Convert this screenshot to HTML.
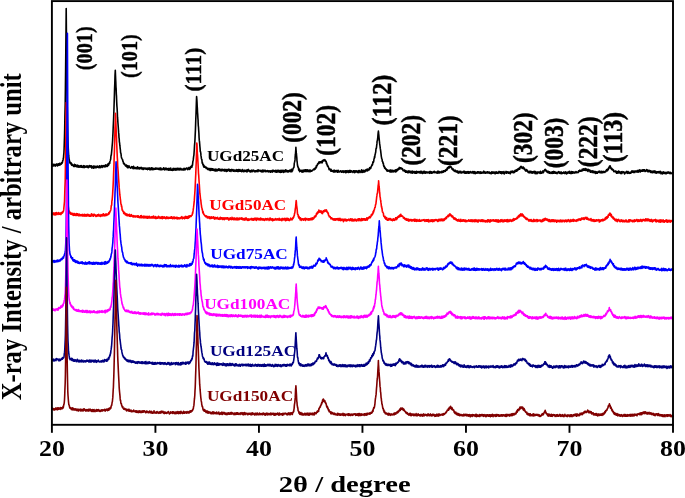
<!DOCTYPE html>
<html><head><meta charset="utf-8"><title>XRD</title>
<style>
html,body{margin:0;padding:0;background:#fff;}
svg{display:block;font-family:"Liberation Serif",serif;font-weight:bold;}
</style></head><body>
<svg width="685" height="498" viewBox="0 0 685 498">
<rect x="0" y="0" width="685" height="498" fill="#fff"/>
<polyline points="51.9,165.2 52.1,166.3 52.3,165.5 52.5,164.2 52.7,164.7 52.9,165.9 53.1,164.3 53.3,165.3 53.6,165.9 53.8,164.9 54.0,164.4 54.2,164.4 54.4,164.5 54.6,165.0 54.8,165.2 55.0,165.1 55.2,166.2 55.4,165.7 55.6,165.5 55.8,165.7 56.0,164.2 56.2,164.4 56.5,164.8 56.7,164.0 56.9,163.9 57.1,164.7 57.3,164.7 57.5,165.9 57.7,164.6 57.9,165.0 58.1,165.3 58.3,164.3 58.5,163.7 58.7,164.1 58.9,165.3 59.1,163.8 59.4,164.2 59.6,163.4 59.8,165.0 60.0,163.8 60.2,163.8 60.4,164.7 60.6,164.1 60.8,164.4 61.0,163.9 61.2,164.1 61.4,162.7 61.6,163.0 61.8,163.4 62.0,163.5 62.3,162.0 62.5,162.4 62.7,160.6 62.9,160.7 63.1,159.7 63.3,158.2 63.5,157.8 63.7,154.8 63.9,153.0 64.1,149.0 64.3,142.9 64.5,136.7 64.7,128.4 64.9,116.5 65.2,103.9 65.4,89.1 65.6,71.3 65.8,51.7 66.0,31.9 66.2,8.5 66.2,9.3 66.4,30.7 66.4,31.9 66.6,52.6 66.6,51.4 66.8,72.3 66.9,81.9 67.0,90.3 67.2,104.5 67.4,116.6 67.4,116.8 67.6,128.7 67.8,136.7 68.0,142.5 68.3,149.0 68.5,152.8 68.7,155.7 68.9,157.3 69.1,159.3 69.3,159.8 69.5,160.9 69.7,162.8 69.9,162.5 70.1,162.8 70.3,162.2 70.5,163.7 70.7,162.8 70.9,163.9 71.2,162.9 71.4,163.8 71.6,165.2 71.8,165.0 72.0,164.0 72.2,164.7 72.4,165.5 72.6,164.8 72.8,165.2 73.0,165.2 73.2,165.1 73.4,165.4 73.6,165.9 73.8,166.4 74.1,165.1 74.3,166.2 74.5,164.4 74.7,165.6 74.9,166.5 75.1,165.2 75.3,165.5 75.5,166.2 75.7,164.9 75.9,165.9 76.1,166.3 76.3,165.8 76.5,166.8 76.7,165.5 77.0,165.2 77.2,165.3 77.4,165.2 77.6,165.8 77.8,167.0 78.0,166.3 78.2,165.8 78.4,165.6 78.6,166.7 78.8,166.4 79.0,167.2 79.2,166.9 79.4,166.1 79.6,166.9 79.8,167.0 80.1,166.4 80.3,165.8 80.5,166.7 80.7,166.2 80.9,167.2 81.1,165.6 81.3,166.3 81.5,166.6 81.7,167.3 81.9,166.0 82.1,166.8 82.3,166.9 82.5,167.1 82.7,166.7 83.0,167.4 83.2,166.2 83.4,165.9 83.6,165.6 83.8,165.7 84.0,166.0 84.2,167.6 84.4,167.3 84.6,166.0 84.8,167.0 85.0,166.8 85.2,166.6 85.4,166.8 85.6,166.3 85.9,167.2 86.1,166.7 86.3,167.1 86.5,166.8 86.7,166.5 86.9,165.7 87.1,166.3 87.3,167.1 87.5,167.1 87.7,167.2 87.9,166.0 88.1,167.7 88.3,167.5 88.5,167.6 88.8,166.8 89.0,167.2 89.2,165.9 89.4,165.5 89.6,165.9 89.8,166.2 90.0,166.6 90.2,166.3 90.4,167.0 90.6,165.9 90.8,166.9 91.0,166.3 91.2,167.2 91.4,165.8 91.7,166.4 91.9,168.1 92.1,167.0 92.3,167.3 92.5,167.0 92.7,166.7 92.9,166.5 93.1,166.9 93.3,166.0 93.5,167.7 93.7,168.3 93.9,167.4 94.1,166.2 94.3,166.6 94.5,166.5 94.8,166.2 95.0,167.0 95.2,167.8 95.4,166.7 95.6,167.6 95.8,167.7 96.0,166.4 96.2,167.4 96.4,167.7 96.6,166.7 96.8,167.0 97.0,167.1 97.2,166.9 97.4,166.0 97.7,166.8 97.9,167.1 98.1,167.5 98.3,167.0 98.5,166.5 98.7,167.3 98.9,167.6 99.1,167.4 99.3,166.5 99.5,165.7 99.7,166.7 99.9,166.0 100.1,166.8 100.3,167.8 100.6,166.9 100.8,166.3 101.0,166.3 101.2,166.8 101.4,165.7 101.6,166.3 101.8,165.5 102.0,166.8 102.2,167.4 102.4,166.4 102.6,166.4 102.8,166.4 103.0,165.7 103.2,165.8 103.5,166.4 103.7,166.6 103.9,165.6 104.1,167.0 104.3,166.5 104.5,166.3 104.7,165.6 104.9,166.6 105.1,165.7 105.3,165.2 105.5,165.1 105.7,164.9 105.9,166.7 106.1,165.6 106.3,165.5 106.6,166.3 106.8,166.3 107.0,165.0 107.2,165.2 107.4,166.4 107.6,165.5 107.8,165.7 108.0,163.9 108.2,165.0 108.4,165.3 108.6,165.1 108.8,164.8 109.0,163.3 109.2,162.7 109.5,162.8 109.7,163.3 109.9,161.4 110.1,161.0 110.3,160.4 110.5,159.7 110.7,159.0 110.9,156.5 111.1,155.0 111.3,155.1 111.5,153.2 111.7,151.1 111.9,149.0 112.1,146.5 112.4,143.3 112.6,140.5 112.8,136.0 113.0,132.5 113.2,127.3 113.4,123.3 113.6,118.7 113.8,113.3 114.0,107.5 114.2,101.4 114.4,95.2 114.6,88.1 114.8,83.5 115.0,75.9 115.3,70.4 115.5,75.3 115.7,80.0 115.8,81.7 115.9,84.9 116.0,87.6 116.1,88.1 116.1,87.8 116.3,93.3 116.3,93.8 116.5,96.4 116.6,99.4 116.7,102.0 116.9,105.9 117.1,108.3 117.3,111.9 117.5,117.2 117.7,119.1 117.9,122.5 118.2,126.2 118.4,129.1 118.6,132.4 118.8,133.8 119.0,137.6 119.2,138.7 119.4,142.1 119.6,142.8 119.8,145.2 120.0,146.5 120.2,148.7 120.4,149.8 120.6,152.7 120.8,153.3 121.0,153.6 121.3,156.7 121.5,157.5 121.7,158.3 121.9,158.5 122.1,158.7 122.3,159.3 122.5,159.9 122.7,159.9 122.9,161.4 123.1,161.4 123.3,162.4 123.5,163.4 123.7,163.3 123.9,163.1 124.2,164.2 124.4,163.5 124.6,164.4 124.8,164.2 125.0,164.9 125.2,165.5 125.4,165.5 125.6,165.2 125.8,166.1 126.0,166.1 126.2,165.1 126.4,165.1 126.6,165.0 126.8,166.9 127.1,166.9 127.3,166.1 127.5,167.6 127.7,165.9 127.9,166.5 128.1,166.4 128.3,167.6 128.5,166.0 128.7,166.3 128.9,166.8 129.1,166.0 129.3,166.0 129.5,166.9 129.7,167.5 130.0,167.6 130.2,167.7 130.4,167.9 130.6,167.6 130.8,168.1 131.0,167.4 131.2,167.8 131.4,166.9 131.6,166.6 131.8,167.7 132.0,167.0 132.2,167.7 132.4,167.7 132.6,166.8 132.9,168.5 133.1,166.5 133.3,167.2 133.5,166.4 133.7,168.7 133.9,167.6 134.1,168.2 134.3,167.2 134.5,167.8 134.7,168.0 134.9,168.2 135.1,168.6 135.3,167.9 135.5,167.5 135.7,168.1 136.0,168.4 136.2,167.7 136.4,168.6 136.6,167.5 136.8,168.0 137.0,168.3 137.2,167.0 137.4,168.6 137.6,166.9 137.8,168.5 138.0,168.0 138.2,167.7 138.4,168.8 138.6,167.7 138.9,168.5 139.1,167.5 139.3,167.9 139.5,168.1 139.7,169.0 139.9,167.7 140.1,167.8 140.3,168.0 140.5,168.5 140.7,167.8 140.9,168.3 141.1,167.2 141.3,167.9 141.5,168.9 141.8,168.0 142.0,168.1 142.2,168.7 142.4,168.6 142.6,168.8 142.8,169.3 143.0,167.9 143.2,168.3 143.4,169.4 143.6,168.7 143.8,168.4 144.0,168.2 144.2,168.5 144.4,168.2 144.7,168.8 144.9,168.2 145.1,168.2 145.3,169.0 145.5,168.4 145.7,168.1 145.9,169.0 146.1,168.6 146.3,169.2 146.5,169.1 146.7,168.6 146.9,169.0 147.1,168.0 147.3,168.4 147.5,169.6 147.8,169.1 148.0,168.7 148.2,168.8 148.4,169.2 148.6,168.9 148.8,168.5 149.0,167.7 149.2,167.7 149.4,168.2 149.6,168.7 149.8,169.8 150.0,168.2 150.2,168.7 150.4,168.3 150.7,168.9 150.9,169.7 151.1,169.4 151.3,168.4 151.5,167.8 151.7,169.2 151.9,168.4 152.1,169.2 152.3,168.0 152.5,169.6 152.7,168.6 152.9,168.6 153.1,168.3 153.3,168.5 153.6,169.5 153.8,169.6 154.0,168.6 154.2,169.3 154.4,168.8 154.6,168.5 154.8,169.1 155.0,168.7 155.2,168.4 155.4,169.1 155.6,168.9 155.8,168.0 156.0,169.1 156.2,169.1 156.5,168.9 156.7,168.2 156.9,169.0 157.1,168.4 157.3,168.9 157.5,168.9 157.7,168.9 157.9,168.4 158.1,169.3 158.3,169.1 158.5,169.3 158.7,168.4 158.9,169.5 159.1,168.6 159.4,168.7 159.6,168.3 159.8,168.2 160.0,169.1 160.2,169.8 160.4,169.2 160.6,168.2 160.8,167.9 161.0,168.8 161.2,169.7 161.4,169.3 161.6,169.7 161.8,169.2 162.0,169.3 162.2,169.6 162.5,169.4 162.7,168.9 162.9,168.7 163.1,169.0 163.3,168.8 163.5,167.9 163.7,168.8 163.9,169.4 164.1,168.4 164.3,168.3 164.5,168.3 164.7,168.8 164.9,170.0 165.1,168.4 165.4,168.2 165.6,168.3 165.8,169.1 166.0,168.0 166.2,168.7 166.4,168.4 166.6,168.9 166.8,169.8 167.0,169.0 167.2,169.4 167.4,169.0 167.6,168.7 167.8,169.6 168.0,168.9 168.3,170.1 168.5,170.2 168.7,169.8 168.9,168.4 169.1,169.4 169.3,169.5 169.5,169.9 169.7,168.9 169.9,170.2 170.1,170.1 170.3,168.4 170.5,168.8 170.7,168.1 170.9,170.0 171.2,169.7 171.4,170.2 171.6,170.1 171.8,169.6 172.0,169.4 172.2,169.4 172.4,170.4 172.6,169.6 172.8,169.1 173.0,169.3 173.2,168.3 173.4,170.3 173.6,169.8 173.8,169.1 174.0,169.8 174.3,169.9 174.5,169.2 174.7,168.7 174.9,168.6 175.1,168.3 175.3,169.0 175.5,169.1 175.7,170.1 175.9,168.7 176.1,169.9 176.3,169.6 176.5,170.0 176.7,168.9 176.9,168.3 177.2,169.8 177.4,168.7 177.6,168.4 177.8,169.6 178.0,169.9 178.2,168.3 178.4,168.7 178.6,169.7 178.8,168.9 179.0,169.8 179.2,168.6 179.4,169.9 179.6,168.5 179.8,169.7 180.1,168.7 180.3,169.6 180.5,169.7 180.7,168.3 180.9,169.0 181.1,169.7 181.3,169.5 181.5,169.0 181.7,169.2 181.9,169.4 182.1,170.0 182.3,169.1 182.5,169.6 182.7,169.7 183.0,169.6 183.2,169.3 183.4,169.9 183.6,169.9 183.8,169.2 184.0,168.4 184.2,169.4 184.4,169.8 184.6,168.6 184.8,169.5 185.0,168.7 185.2,168.7 185.4,169.6 185.6,169.2 185.9,169.0 186.1,168.5 186.3,168.0 186.5,168.7 186.7,168.3 186.9,168.7 187.1,168.1 187.3,168.5 187.5,168.5 187.7,169.6 187.9,169.4 188.1,168.7 188.3,168.8 188.5,169.0 188.7,167.8 189.0,167.4 189.2,169.2 189.4,168.7 189.6,169.4 189.8,167.9 190.0,168.4 190.2,168.7 190.4,168.5 190.6,166.8 190.8,167.3 191.0,167.0 191.2,167.0 191.4,166.0 191.6,165.9 191.9,167.1 192.1,165.8 192.3,164.8 192.5,165.2 192.7,162.9 192.9,161.3 193.1,160.5 193.3,159.4 193.5,157.6 193.7,156.2 193.9,155.1 194.1,152.3 194.3,149.5 194.5,145.8 194.8,142.4 195.0,139.0 195.2,134.6 195.4,130.6 195.6,124.9 195.8,118.8 196.0,114.4 196.2,108.1 196.4,101.9 196.6,96.5 196.8,98.7 197.0,101.7 197.1,104.1 197.2,106.5 197.3,107.5 197.4,109.2 197.4,109.6 197.5,112.1 197.7,114.3 197.9,118.1 198.1,120.4 198.1,121.6 198.3,125.6 198.5,127.2 198.7,130.5 198.9,133.2 199.1,137.8 199.3,140.4 199.5,141.6 199.7,144.0 199.9,146.5 200.1,148.6 200.3,151.8 200.5,151.6 200.8,153.4 201.0,155.9 201.2,156.9 201.4,158.7 201.6,159.2 201.8,159.2 202.0,161.0 202.2,163.1 202.4,163.2 202.6,162.9 202.8,164.4 203.0,164.1 203.2,165.6 203.4,164.5 203.7,167.0 203.9,165.4 204.1,166.5 204.3,167.3 204.5,166.7 204.7,166.2 204.9,166.8 205.1,167.0 205.3,167.0 205.5,167.5 205.7,167.2 205.9,167.8 206.1,167.3 206.3,168.5 206.6,167.8 206.8,167.6 207.0,168.2 207.2,168.8 207.4,168.7 207.6,168.8 207.8,169.5 208.0,168.5 208.2,169.5 208.4,169.7 208.6,168.6 208.8,169.2 209.0,168.8 209.2,168.5 209.5,169.1 209.7,169.3 209.9,170.4 210.1,168.8 210.3,169.0 210.5,169.1 210.7,168.6 210.9,170.4 211.1,169.9 211.3,168.7 211.5,170.0 211.7,169.0 211.9,168.6 212.1,169.0 212.4,170.2 212.6,168.9 212.8,170.2 213.0,169.5 213.2,169.0 213.4,169.6 213.6,169.7 213.8,169.9 214.0,170.5 214.2,170.4 214.4,170.6 214.6,169.2 214.8,170.0 215.0,170.0 215.2,170.5 215.5,171.0 215.7,170.8 215.9,169.1 216.1,170.0 216.3,170.8 216.5,170.9 216.7,169.8 216.9,170.9 217.1,170.0 217.3,169.4 217.5,170.6 217.7,169.9 217.9,169.8 218.1,170.1 218.4,170.1 218.6,169.3 218.8,168.7 219.0,170.4 219.2,170.4 219.4,170.4 219.6,170.4 219.8,169.4 220.0,169.2 220.2,169.6 220.4,169.9 220.6,170.8 220.8,169.8 221.0,169.8 221.3,170.5 221.5,169.5 221.7,169.3 221.9,170.9 222.1,170.8 222.3,170.1 222.5,170.3 222.7,169.4 222.9,169.6 223.1,170.3 223.3,170.0 223.5,170.4 223.7,170.7 223.9,170.6 224.2,169.6 224.4,170.4 224.6,169.5 224.8,171.2 225.0,169.7 225.2,169.9 225.4,169.5 225.6,170.8 225.8,169.7 226.0,170.1 226.2,170.9 226.4,171.5 226.6,169.5 226.8,170.3 227.1,170.8 227.3,171.1 227.5,170.0 227.7,170.3 227.9,169.5 228.1,169.4 228.3,170.5 228.5,169.3 228.7,169.5 228.9,170.0 229.1,169.7 229.3,169.4 229.5,171.1 229.7,170.6 229.9,170.2 230.2,171.0 230.4,169.9 230.6,169.8 230.8,171.2 231.0,171.4 231.2,170.7 231.4,169.6 231.6,170.4 231.8,169.5 232.0,169.6 232.2,169.6 232.4,170.1 232.6,170.7 232.8,170.0 233.1,169.7 233.3,171.1 233.5,170.1 233.7,170.1 233.9,170.1 234.1,170.8 234.3,171.3 234.5,170.5 234.7,170.7 234.9,170.0 235.1,170.2 235.3,170.7 235.5,171.1 235.7,171.3 236.0,170.7 236.2,171.2 236.4,169.7 236.6,171.3 236.8,169.6 237.0,169.7 237.2,170.6 237.4,171.4 237.6,171.2 237.8,170.7 238.0,169.9 238.2,169.5 238.4,171.5 238.6,171.4 238.9,169.8 239.1,171.3 239.3,170.3 239.5,170.1 239.7,170.8 239.9,169.6 240.1,170.6 240.3,169.9 240.5,171.3 240.7,171.0 240.9,171.3 241.1,171.4 241.3,170.2 241.5,170.3 241.7,171.7 242.0,170.5 242.2,170.1 242.4,169.5 242.6,171.3 242.8,170.5 243.0,170.3 243.2,170.7 243.4,170.8 243.6,170.5 243.8,171.8 244.0,171.2 244.2,170.1 244.4,170.5 244.6,170.5 244.9,171.3 245.1,171.2 245.3,171.0 245.5,170.9 245.7,170.4 245.9,171.4 246.1,170.0 246.3,171.0 246.5,170.3 246.7,170.7 246.9,172.0 247.1,171.1 247.3,169.9 247.5,170.0 247.8,171.2 248.0,170.2 248.2,170.1 248.4,169.4 248.6,170.5 248.8,170.8 249.0,170.6 249.2,170.3 249.4,171.1 249.6,170.5 249.8,171.5 250.0,171.8 250.2,170.8 250.4,171.1 250.7,171.8 250.9,170.5 251.1,171.1 251.3,170.3 251.5,171.3 251.7,170.4 251.9,171.2 252.1,171.8 252.3,170.2 252.5,171.5 252.7,171.1 252.9,170.5 253.1,170.5 253.3,170.5 253.6,170.1 253.8,170.9 254.0,170.4 254.2,171.1 254.4,171.6 254.6,171.6 254.8,171.8 255.0,171.8 255.2,170.7 255.4,171.8 255.6,170.7 255.8,171.3 256.0,171.7 256.2,171.1 256.4,171.0 256.7,170.5 256.9,171.2 257.1,170.3 257.3,170.4 257.5,170.1 257.7,171.2 257.9,171.7 258.1,170.0 258.3,169.9 258.5,170.5 258.7,170.2 258.9,170.4 259.1,171.0 259.3,170.8 259.6,170.5 259.8,170.4 260.0,171.0 260.2,170.5 260.4,170.7 260.6,170.9 260.8,171.4 261.0,170.2 261.2,171.2 261.4,170.8 261.6,171.8 261.8,171.1 262.0,171.3 262.2,171.9 262.5,171.4 262.7,170.0 262.9,170.0 263.1,171.7 263.3,170.3 263.5,170.6 263.7,171.8 263.9,170.2 264.1,170.4 264.3,170.5 264.5,170.3 264.7,171.0 264.9,171.1 265.1,170.5 265.4,170.3 265.6,171.6 265.8,171.6 266.0,171.1 266.2,170.9 266.4,170.9 266.6,171.2 266.8,171.0 267.0,171.5 267.2,170.9 267.4,171.5 267.6,170.6 267.8,171.3 268.0,171.7 268.2,171.6 268.5,170.9 268.7,171.9 268.9,171.5 269.1,171.0 269.3,171.1 269.5,171.7 269.7,170.7 269.9,170.9 270.1,171.7 270.3,171.7 270.5,172.2 270.7,171.1 270.9,170.8 271.1,170.7 271.4,171.6 271.6,171.0 271.8,171.3 272.0,171.2 272.2,172.2 272.4,171.6 272.6,170.3 272.8,171.8 273.0,171.1 273.2,170.2 273.4,171.0 273.6,170.5 273.8,170.8 274.0,170.7 274.3,171.3 274.5,170.9 274.7,171.4 274.9,171.8 275.1,171.8 275.3,171.0 275.5,171.3 275.7,170.4 275.9,171.4 276.1,172.2 276.3,170.6 276.5,172.1 276.7,171.3 276.9,170.5 277.2,171.5 277.4,170.7 277.6,172.0 277.8,170.4 278.0,170.7 278.2,171.9 278.4,171.3 278.6,170.4 278.8,171.2 279.0,171.0 279.2,171.0 279.4,171.7 279.6,172.1 279.8,170.5 280.1,171.6 280.3,172.4 280.5,171.0 280.7,171.7 280.9,170.3 281.1,171.9 281.3,171.2 281.5,172.1 281.7,171.9 281.9,172.1 282.1,170.4 282.3,171.2 282.5,171.0 282.7,170.7 282.9,171.1 283.2,171.4 283.4,171.6 283.6,172.4 283.8,170.4 284.0,170.8 284.2,170.5 284.4,171.9 284.6,171.3 284.8,171.1 285.0,171.6 285.2,171.6 285.4,171.1 285.6,169.9 285.8,170.9 286.1,171.7 286.3,171.6 286.5,170.2 286.7,171.0 286.9,170.8 287.1,171.4 287.3,171.5 287.5,171.9 287.7,170.9 287.9,170.6 288.1,171.3 288.3,172.0 288.5,171.4 288.7,171.3 289.0,171.2 289.2,170.6 289.4,171.5 289.6,170.5 289.8,170.2 290.0,171.5 290.2,170.6 290.4,171.7 290.6,171.0 290.8,170.6 291.0,169.7 291.2,171.6 291.4,169.4 291.6,171.3 291.9,171.6 292.1,170.2 292.3,169.3 292.5,170.7 292.7,170.0 292.9,169.0 293.1,168.8 293.3,168.3 293.5,167.8 293.7,167.7 293.9,167.5 294.1,165.8 294.3,163.0 294.5,162.4 294.8,161.1 295.0,159.9 295.2,156.0 295.4,154.7 295.6,152.4 295.8,149.3 295.9,147.3 296.0,149.3 296.2,151.5 296.2,152.9 296.4,153.4 296.6,155.8 296.8,157.5 297.0,161.1 297.2,162.0 297.4,164.7 297.6,165.8 297.9,167.1 298.1,167.1 298.3,167.0 298.5,168.4 298.7,170.1 298.9,170.0 299.1,168.7 299.3,170.5 299.5,171.1 299.7,171.6 299.9,170.6 300.1,170.9 300.3,170.9 300.5,170.3 300.8,170.2 301.0,171.3 301.2,170.2 301.4,170.6 301.6,172.0 301.8,171.1 302.0,171.1 302.2,171.9 302.4,170.2 302.6,171.8 302.8,172.2 303.0,170.8 303.2,170.6 303.4,170.2 303.7,171.6 303.9,170.8 304.1,170.0 304.3,171.5 304.5,170.6 304.7,171.2 304.9,171.1 305.1,169.8 305.3,170.3 305.5,171.2 305.7,169.8 305.9,171.1 306.1,171.6 306.3,171.2 306.6,171.5 306.8,169.9 307.0,170.2 307.2,171.4 307.4,170.1 307.6,171.2 307.8,169.9 308.0,171.5 308.2,170.2 308.4,170.8 308.6,171.0 308.8,171.6 309.0,171.7 309.2,171.2 309.4,170.5 309.7,170.1 309.9,171.0 310.1,171.8 310.3,170.4 310.5,171.1 310.7,170.2 310.9,170.9 311.1,170.6 311.3,170.7 311.5,171.3 311.7,171.1 311.9,170.5 312.1,170.8 312.3,170.4 312.6,170.4 312.8,170.2 313.0,169.8 313.2,169.6 313.4,169.4 313.6,169.2 313.8,169.4 314.0,168.9 314.2,169.8 314.4,169.4 314.6,168.6 314.8,168.7 315.0,169.3 315.2,167.8 315.5,167.8 315.7,167.3 315.9,167.3 316.1,168.0 316.3,165.9 316.5,167.2 316.7,166.1 316.9,166.1 317.1,165.1 317.3,165.4 317.5,164.1 317.7,164.6 317.9,163.5 318.1,163.5 318.4,163.8 318.6,162.6 318.8,162.1 318.9,163.4 319.0,163.4 319.0,163.0 319.2,162.4 319.2,162.8 319.4,161.8 319.6,162.9 319.8,162.8 320.0,162.6 320.2,162.0 320.4,161.8 320.6,162.7 320.8,162.5 321.0,162.7 321.3,161.9 321.5,161.4 321.7,161.9 321.9,162.0 322.1,162.8 322.3,162.7 322.5,160.7 322.7,161.5 322.9,160.2 323.1,161.0 323.3,160.2 323.5,159.9 323.6,160.0 323.7,160.1 323.9,160.3 324.1,160.3 324.4,160.6 324.6,159.9 324.6,159.9 324.8,159.6 325.0,160.1 325.2,160.3 325.4,161.1 325.6,160.5 325.7,161.3 325.8,161.2 326.0,161.7 326.2,161.5 326.2,162.5 326.4,163.7 326.6,163.7 326.8,163.1 327.0,165.0 327.3,164.7 327.5,166.2 327.7,165.4 327.9,166.0 328.1,166.8 328.3,166.7 328.5,167.2 328.7,167.7 328.9,168.9 329.1,169.6 329.3,168.7 329.5,169.6 329.7,168.7 329.9,169.3 330.2,169.6 330.4,169.5 330.6,170.3 330.8,171.1 331.0,169.4 331.2,169.6 331.4,171.0 331.6,171.1 331.8,170.7 332.0,171.0 332.2,171.4 332.4,171.3 332.6,171.2 332.8,170.6 333.1,170.8 333.3,171.4 333.5,172.0 333.7,170.6 333.9,171.0 334.1,170.1 334.3,171.2 334.5,171.4 334.7,171.9 334.9,170.8 335.1,171.6 335.3,171.8 335.5,170.9 335.7,170.6 335.9,170.7 336.2,171.7 336.4,170.6 336.6,170.7 336.8,171.3 337.0,170.6 337.2,171.8 337.4,171.7 337.6,172.2 337.8,172.2 338.0,171.8 338.2,170.4 338.4,171.8 338.6,172.0 338.8,172.0 339.1,172.1 339.3,171.8 339.5,171.2 339.7,171.6 339.9,171.6 340.1,171.3 340.3,171.3 340.5,170.7 340.7,171.4 340.9,171.0 341.1,171.0 341.3,172.2 341.5,171.9 341.7,171.5 342.0,172.2 342.2,171.1 342.4,171.8 342.6,171.0 342.8,171.4 343.0,172.0 343.2,170.8 343.4,172.1 343.6,172.4 343.8,171.8 344.0,172.1 344.2,171.9 344.4,171.6 344.6,171.6 344.9,170.8 345.1,171.6 345.3,171.1 345.5,172.7 345.7,171.8 345.9,170.9 346.1,172.4 346.3,170.9 346.5,172.5 346.7,172.4 346.9,172.4 347.1,171.7 347.3,171.0 347.5,171.0 347.8,170.7 348.0,171.1 348.2,171.9 348.4,172.3 348.6,171.6 348.8,172.5 349.0,171.9 349.2,170.5 349.4,171.8 349.6,170.8 349.8,170.5 350.0,172.3 350.2,171.2 350.4,170.7 350.6,170.8 350.9,172.3 351.1,171.8 351.3,170.9 351.5,171.6 351.7,171.2 351.9,171.8 352.1,171.8 352.3,171.6 352.5,171.5 352.7,171.9 352.9,172.4 353.1,171.9 353.3,170.9 353.5,171.2 353.8,170.8 354.0,170.7 354.2,170.8 354.4,171.1 354.6,172.6 354.8,172.2 355.0,172.4 355.2,172.0 355.4,171.5 355.6,170.9 355.8,171.5 356.0,171.0 356.2,171.1 356.4,172.0 356.7,170.7 356.9,171.2 357.1,171.7 357.3,171.4 357.5,171.8 357.7,172.4 357.9,171.1 358.1,171.2 358.3,171.1 358.5,170.7 358.7,171.7 358.9,172.6 359.1,172.2 359.3,170.5 359.6,170.9 359.8,172.0 360.0,171.9 360.2,171.6 360.4,171.5 360.6,171.6 360.8,171.7 361.0,172.5 361.2,171.1 361.4,170.6 361.6,169.8 361.8,170.7 362.0,171.9 362.2,172.1 362.4,172.4 362.7,170.6 362.9,170.5 363.1,172.1 363.3,171.6 363.5,170.4 363.7,170.4 363.9,171.6 364.1,171.8 364.3,171.0 364.5,170.5 364.7,172.0 364.9,171.3 365.1,171.4 365.3,171.4 365.6,170.1 365.8,170.1 366.0,169.8 366.2,169.5 366.4,169.8 366.6,170.6 366.8,170.3 367.0,170.0 367.2,171.0 367.4,169.0 367.6,169.2 367.8,170.7 368.0,170.2 368.2,169.6 368.5,169.4 368.7,170.0 368.9,168.8 369.1,170.0 369.3,169.4 369.5,168.1 369.7,167.7 369.9,169.0 370.1,167.8 370.3,167.9 370.5,168.2 370.7,168.0 370.9,168.1 371.1,166.6 371.4,166.5 371.6,166.1 371.8,165.1 372.0,165.1 372.2,164.3 372.4,165.1 372.6,164.4 372.8,162.6 372.8,162.0 373.0,162.1 373.2,161.7 373.3,162.5 373.4,162.4 373.6,161.6 373.8,161.0 373.8,160.3 374.0,158.9 374.3,158.4 374.5,156.6 374.7,157.6 374.9,155.9 375.1,154.3 375.3,154.1 375.5,152.7 375.7,152.3 375.9,149.6 376.1,148.4 376.3,148.5 376.5,147.3 376.7,145.3 376.9,143.9 377.1,141.0 377.4,140.7 377.6,138.8 377.8,137.3 378.0,134.4 378.2,132.7 378.4,131.0 378.4,131.4 378.6,132.6 378.6,133.3 378.8,134.9 379.0,137.2 379.2,139.2 379.3,140.0 379.4,141.2 379.6,143.2 379.8,144.7 380.0,146.0 380.3,148.7 380.5,149.7 380.7,151.1 380.9,152.9 381.1,154.7 381.3,156.3 381.5,157.3 381.7,158.6 381.9,159.0 382.1,159.2 382.3,161.5 382.5,161.3 382.7,161.7 382.9,162.8 383.2,163.9 383.4,163.5 383.6,165.7 383.8,166.2 384.0,166.6 384.2,166.1 384.4,167.3 384.6,168.1 384.8,167.1 385.0,167.4 385.2,168.1 385.4,168.8 385.6,168.7 385.8,169.3 386.1,168.9 386.3,169.6 386.5,169.9 386.7,170.7 386.9,169.9 387.1,170.5 387.3,171.0 387.5,170.7 387.7,170.0 387.9,171.3 388.1,171.1 388.3,170.5 388.5,170.6 388.7,170.9 389.0,170.7 389.2,170.4 389.4,170.7 389.6,171.6 389.8,171.8 390.0,171.1 390.2,170.0 390.4,171.2 390.6,170.2 390.8,170.0 391.0,172.1 391.2,170.7 391.4,171.6 391.6,171.3 391.8,170.3 392.1,171.8 392.3,171.9 392.5,170.4 392.7,171.1 392.9,171.2 393.1,170.7 393.3,171.5 393.5,171.7 393.7,171.8 393.9,171.3 394.1,170.3 394.3,170.8 394.5,171.4 394.7,171.4 395.0,170.7 395.2,171.1 395.4,171.9 395.6,169.7 395.8,170.1 396.0,170.2 396.2,171.7 396.4,169.9 396.6,169.5 396.8,169.9 397.0,170.9 397.2,169.5 397.4,170.3 397.6,169.1 397.9,170.0 398.1,168.9 398.3,169.6 398.5,168.6 398.7,169.0 398.9,169.2 399.1,167.9 399.3,167.4 399.5,168.3 399.7,168.1 399.7,168.4 399.9,169.0 400.1,168.2 400.2,168.0 400.3,168.4 400.5,167.8 400.8,167.7 400.8,167.8 401.0,168.2 401.2,168.3 401.4,168.2 401.6,169.0 401.8,168.2 401.8,168.5 402.0,169.0 402.2,168.8 402.4,168.6 402.6,169.1 402.8,169.9 403.0,170.4 403.2,170.8 403.4,170.8 403.6,170.2 403.9,170.5 404.1,170.3 404.3,170.2 404.5,171.2 404.7,170.0 404.9,170.5 405.1,171.6 405.3,171.2 405.5,170.7 405.7,172.3 405.9,171.3 406.1,171.6 406.3,170.9 406.5,172.3 406.8,171.2 407.0,171.6 407.2,172.3 407.4,172.6 407.6,172.6 407.8,172.2 408.0,171.1 408.0,171.1 408.2,171.3 408.4,171.2 408.6,172.7 408.8,171.0 409.0,171.6 409.2,171.4 409.4,171.2 409.7,171.8 409.9,171.1 410.1,172.6 410.3,172.8 410.5,172.0 410.7,172.4 410.9,172.5 411.1,171.6 411.3,172.6 411.5,173.0 411.7,172.9 411.9,171.4 412.1,172.9 412.3,173.1 412.6,171.7 412.8,171.2 413.0,172.6 413.2,172.5 413.4,171.8 413.6,171.8 413.8,172.0 414.0,172.8 414.2,172.2 414.4,171.6 414.6,171.5 414.8,171.9 415.0,173.3 415.2,171.7 415.5,171.8 415.7,173.1 415.9,171.5 416.1,172.1 416.3,172.3 416.5,171.3 416.7,173.1 416.9,172.6 417.1,171.5 417.3,172.7 417.5,172.6 417.7,172.4 417.9,172.1 418.1,172.2 418.3,171.8 418.6,171.8 418.8,171.6 419.0,172.7 419.2,172.9 419.4,172.1 419.6,172.6 419.8,172.6 420.0,171.7 420.2,171.3 420.4,172.9 420.6,172.0 420.8,172.4 421.0,173.1 421.2,171.7 421.5,173.0 421.7,171.4 421.9,172.7 422.1,172.8 422.3,172.6 422.5,173.5 422.7,172.2 422.9,172.9 423.1,172.0 423.3,172.1 423.5,171.8 423.7,171.4 423.9,171.9 424.1,173.1 424.4,172.8 424.6,171.3 424.8,172.7 425.0,171.6 425.2,171.9 425.4,172.9 425.6,173.1 425.8,172.6 426.0,172.1 426.2,171.8 426.4,172.7 426.6,172.0 426.8,172.6 427.0,172.8 427.3,172.1 427.5,172.8 427.7,172.5 427.9,172.9 428.1,172.8 428.3,172.0 428.5,172.5 428.7,172.6 428.9,172.6 429.1,172.1 429.3,173.1 429.5,173.3 429.7,171.5 429.9,172.2 430.1,172.0 430.4,171.5 430.6,172.9 430.8,172.1 431.0,172.9 431.2,173.2 431.4,172.3 431.6,171.7 431.8,173.2 432.0,172.8 432.2,172.8 432.4,172.2 432.6,172.7 432.8,172.9 433.0,172.0 433.3,171.9 433.5,172.1 433.7,171.5 433.9,171.9 434.1,172.0 434.3,171.3 434.5,172.6 434.7,172.3 434.9,172.3 435.1,172.4 435.3,171.9 435.5,172.5 435.7,172.4 435.9,172.6 436.2,172.1 436.4,172.2 436.6,173.0 436.8,172.0 437.0,172.4 437.2,172.5 437.4,171.5 437.6,173.1 437.8,172.4 438.0,171.0 438.2,172.3 438.4,172.6 438.6,172.4 438.8,173.0 439.1,171.6 439.3,172.2 439.5,172.5 439.7,172.9 439.9,172.8 440.1,172.2 440.3,171.9 440.5,172.5 440.7,172.2 440.9,172.3 441.1,172.7 441.3,172.4 441.5,172.7 441.7,171.4 442.0,172.4 442.2,171.7 442.4,172.4 442.6,171.5 442.8,171.6 443.0,172.3 443.2,170.8 443.4,170.9 443.6,171.2 443.8,172.0 444.0,170.7 444.2,171.4 444.4,170.9 444.6,170.5 444.8,170.8 445.1,170.9 445.3,171.3 445.5,171.2 445.7,169.8 445.9,170.3 446.1,170.4 446.3,169.4 446.5,170.2 446.7,169.7 446.9,168.9 447.1,169.9 447.3,168.1 447.5,167.7 447.7,168.8 448.0,167.6 448.2,168.0 448.4,167.3 448.6,166.7 448.8,167.7 449.0,167.9 449.2,166.8 449.4,166.4 449.4,167.9 449.6,167.8 449.8,167.3 449.9,166.5 450.0,167.0 450.2,166.9 450.4,166.3 450.4,166.8 450.6,166.4 450.9,166.9 451.1,167.1 451.3,167.1 451.5,167.6 451.7,167.8 451.9,168.6 452.1,169.2 452.3,169.3 452.5,169.4 452.7,169.7 452.9,169.4 453.1,169.9 453.3,169.0 453.5,169.8 453.8,170.7 454.0,170.6 454.2,170.5 454.4,171.0 454.6,170.4 454.8,171.4 455.0,170.0 455.2,170.6 455.4,170.4 455.6,170.8 455.6,171.8 455.8,170.5 456.0,171.0 456.2,171.4 456.4,171.8 456.7,172.0 456.9,171.7 457.1,171.0 457.3,172.5 457.5,171.5 457.7,171.1 457.9,171.0 458.1,171.9 458.3,173.1 458.5,172.5 458.7,172.4 458.9,172.3 459.1,172.6 459.3,172.3 459.5,171.7 459.8,171.3 460.0,171.5 460.2,172.8 460.4,172.6 460.6,172.7 460.8,171.4 461.0,173.0 461.2,171.7 461.4,172.8 461.6,172.3 461.8,172.3 462.0,172.8 462.2,172.5 462.4,172.4 462.7,171.8 462.9,172.5 463.1,171.7 463.3,171.4 463.5,171.3 463.7,172.6 463.9,171.8 464.1,172.7 464.3,171.7 464.5,171.3 464.7,173.2 464.9,172.4 465.1,172.4 465.3,172.0 465.6,172.0 465.8,171.9 466.0,173.3 466.2,171.8 466.4,173.2 466.6,173.2 466.8,172.8 467.0,172.3 467.2,171.8 467.4,172.2 467.6,172.2 467.8,173.0 468.0,171.6 468.2,173.1 468.5,173.1 468.7,171.7 468.9,171.8 469.1,173.1 469.3,172.6 469.5,172.0 469.7,172.9 469.9,172.0 470.1,172.6 470.3,171.9 470.5,172.4 470.7,171.6 470.9,172.0 471.1,172.8 471.3,172.5 471.6,172.8 471.8,172.5 472.0,172.8 472.2,172.0 472.4,172.9 472.6,171.6 472.8,171.8 473.0,172.2 473.2,171.8 473.4,171.7 473.6,172.7 473.8,173.4 474.0,172.6 474.2,172.1 474.5,171.7 474.7,172.8 474.9,172.6 475.1,173.6 475.3,172.1 475.5,173.1 475.7,173.4 475.9,172.3 476.1,172.7 476.3,172.9 476.5,172.7 476.7,172.3 476.9,172.6 477.1,173.2 477.4,171.7 477.6,172.1 477.8,171.9 478.0,172.6 478.2,172.9 478.4,171.8 478.6,172.6 478.8,173.0 479.0,172.1 479.2,172.3 479.4,172.9 479.6,172.0 479.8,172.6 480.0,173.4 480.3,172.9 480.5,172.9 480.7,171.8 480.9,172.0 481.1,173.3 481.3,172.8 481.5,173.2 481.7,172.9 481.9,172.4 482.1,172.9 482.3,173.0 482.5,172.3 482.7,172.3 482.9,172.5 483.2,172.9 483.4,172.0 483.6,171.6 483.8,171.2 484.0,172.1 484.2,172.9 484.4,172.5 484.6,172.8 484.8,172.3 485.0,171.9 485.2,172.2 485.4,173.3 485.6,172.4 485.8,173.2 486.0,172.5 486.3,172.3 486.5,172.5 486.7,172.7 486.9,172.0 487.1,172.2 487.3,173.0 487.5,171.9 487.7,172.4 487.9,171.8 488.1,172.6 488.3,172.2 488.5,172.2 488.7,173.0 488.9,173.0 489.2,173.2 489.4,172.0 489.6,173.0 489.8,172.4 490.0,173.4 490.2,173.2 490.4,173.1 490.6,173.4 490.8,172.9 491.0,173.0 491.2,172.3 491.4,173.8 491.6,173.2 491.8,171.9 492.1,172.2 492.3,172.5 492.5,173.1 492.7,172.0 492.9,173.2 493.1,172.3 493.3,173.1 493.5,173.0 493.7,172.1 493.9,172.7 494.1,172.1 494.3,172.0 494.5,172.8 494.7,173.3 495.0,173.7 495.2,172.6 495.4,173.6 495.6,172.1 495.8,173.4 496.0,173.3 496.2,171.7 496.4,172.9 496.6,173.1 496.8,173.2 497.0,172.9 497.2,173.0 497.4,172.9 497.6,172.2 497.8,173.1 498.1,173.3 498.3,172.2 498.5,172.9 498.7,171.9 498.9,171.9 499.1,171.4 499.3,172.6 499.5,172.4 499.7,172.1 499.9,171.9 500.1,172.2 500.3,173.2 500.5,171.7 500.7,172.2 501.0,172.6 501.2,171.7 501.4,172.3 501.6,173.6 501.8,173.7 502.0,173.1 502.2,171.8 502.4,172.9 502.6,172.8 502.8,172.0 503.0,172.4 503.2,173.1 503.4,173.5 503.6,172.5 503.9,171.6 504.1,173.2 504.3,173.9 504.5,172.6 504.7,172.3 504.9,172.8 505.1,172.9 505.3,172.7 505.5,172.2 505.7,171.8 505.9,171.9 506.1,171.4 506.3,172.0 506.5,173.3 506.8,171.7 507.0,173.0 507.2,172.4 507.4,172.3 507.6,172.2 507.8,171.9 508.0,172.5 508.2,172.8 508.4,173.2 508.6,172.1 508.8,173.3 509.0,173.1 509.2,172.2 509.4,172.8 509.7,172.0 509.9,173.0 510.1,172.5 510.3,173.8 510.5,172.0 510.7,172.7 510.9,171.4 511.1,172.1 511.3,171.4 511.5,171.5 511.7,172.4 511.9,171.5 512.1,171.7 512.3,171.2 512.5,172.4 512.8,171.2 513.0,171.8 513.2,172.7 513.4,172.2 513.6,172.2 513.8,172.8 514.0,171.4 514.2,171.8 514.4,172.2 514.6,172.2 514.8,171.7 515.0,170.6 515.2,170.4 515.4,171.4 515.7,171.4 515.9,170.7 516.1,170.1 516.3,170.6 516.5,169.8 516.7,171.3 516.9,169.8 517.1,170.6 517.3,169.4 517.5,169.7 517.7,169.0 517.7,170.1 517.9,169.7 518.1,169.0 518.3,169.8 518.6,169.3 518.8,168.4 518.8,169.2 519.0,168.3 519.2,168.9 519.4,168.0 519.6,169.3 519.8,167.6 519.8,168.6 520.0,167.2 520.2,167.7 520.4,167.6 520.6,166.6 520.8,167.2 521.0,166.3 521.2,167.8 521.3,166.9 521.5,167.2 521.7,166.8 521.9,166.9 522.1,168.1 522.3,167.8 522.5,168.2 522.7,167.9 522.9,168.4 523.1,167.6 523.3,167.1 523.5,167.9 523.7,167.9 523.9,167.7 523.9,169.0 524.1,169.0 524.4,169.0 524.5,168.2 524.6,169.4 524.8,169.8 525.0,169.3 525.2,170.3 525.4,170.5 525.6,171.0 525.8,170.7 526.0,170.4 526.2,170.0 526.4,171.0 526.6,169.6 526.8,170.5 527.0,169.9 527.2,170.3 527.5,171.5 527.7,170.7 527.9,171.8 528.1,172.3 528.3,172.2 528.5,171.9 528.7,172.5 528.9,172.4 529.1,172.8 529.3,172.9 529.5,171.2 529.7,171.4 529.9,171.6 530.1,171.6 530.4,171.4 530.6,172.7 530.8,171.6 531.0,171.6 531.2,172.9 531.4,171.5 531.6,171.8 531.8,173.0 532.0,172.7 532.2,172.1 532.4,171.9 532.6,172.0 532.8,173.1 533.0,172.8 533.3,171.6 533.5,172.6 533.7,172.6 533.9,172.5 534.1,171.6 534.3,171.6 534.5,171.4 534.7,172.0 534.9,173.3 535.1,173.7 535.3,172.9 535.5,172.8 535.7,171.5 535.9,172.1 536.2,173.4 536.4,173.4 536.6,172.7 536.8,173.0 537.0,173.7 537.2,173.6 537.4,172.0 537.6,172.6 537.8,172.0 538.0,172.0 538.2,172.4 538.4,172.3 538.6,172.0 538.8,172.9 539.0,172.8 539.3,172.9 539.5,172.1 539.7,172.0 539.9,172.4 540.1,173.4 540.3,172.6 540.5,171.4 540.7,172.6 540.9,173.3 541.1,173.0 541.3,173.0 541.5,172.5 541.7,172.1 541.9,173.2 542.2,172.4 542.4,172.5 542.6,171.9 542.8,171.1 543.0,170.9 543.2,171.8 543.4,172.6 543.6,171.4 543.8,171.9 544.0,170.9 544.2,170.6 544.4,170.7 544.6,170.1 544.8,169.6 545.1,169.9 545.2,169.4 545.3,169.9 545.5,169.8 545.7,170.9 545.7,170.0 545.9,170.4 546.1,170.6 546.3,170.4 546.5,170.6 546.7,171.6 546.9,171.2 547.1,171.9 547.3,172.3 547.5,171.2 547.7,172.5 548.0,171.9 548.2,172.6 548.4,171.2 548.6,171.9 548.8,172.4 549.0,172.8 549.2,173.2 549.4,171.8 549.6,173.1 549.8,172.8 550.0,172.4 550.2,172.9 550.4,172.3 550.6,173.2 550.9,173.4 551.1,172.8 551.3,172.5 551.5,172.8 551.7,172.0 551.9,172.7 552.1,173.4 552.3,171.9 552.5,173.1 552.7,173.0 552.9,171.9 553.1,173.2 553.3,173.0 553.5,171.7 553.7,171.4 554.0,173.1 554.2,172.1 554.4,172.8 554.6,171.8 554.8,172.8 555.0,172.3 555.2,173.1 555.4,173.1 555.6,173.1 555.8,172.1 556.0,172.2 556.2,173.3 556.4,173.3 556.6,173.2 556.9,173.7 557.1,173.4 557.3,173.3 557.5,172.4 557.7,172.6 557.9,172.9 558.1,172.2 558.3,172.5 558.5,172.0 558.7,171.6 558.9,172.7 559.1,171.9 559.3,172.7 559.5,173.3 559.8,173.1 560.0,173.4 560.2,172.6 560.4,172.2 560.6,172.6 560.8,173.0 561.0,173.5 561.2,172.6 561.4,172.0 561.6,173.6 561.8,172.9 562.0,172.8 562.2,173.4 562.4,172.8 562.7,173.4 562.9,172.9 563.1,172.5 563.3,172.7 563.5,172.2 563.7,172.9 563.9,172.2 564.1,173.0 564.3,173.4 564.5,172.6 564.7,173.3 564.9,172.9 565.1,173.3 565.3,171.7 565.5,172.0 565.8,173.2 566.0,173.3 566.2,173.0 566.4,173.9 566.6,172.3 566.8,173.3 567.0,173.6 567.2,172.8 567.4,172.2 567.6,173.1 567.8,172.2 568.0,173.0 568.2,173.0 568.4,172.8 568.7,172.1 568.9,171.7 569.1,172.1 569.3,173.2 569.5,172.3 569.7,171.4 569.9,171.8 570.1,172.9 570.3,173.2 570.5,173.4 570.7,173.3 570.9,173.2 571.1,173.4 571.3,172.7 571.6,171.5 571.8,173.4 572.0,172.2 572.2,172.8 572.4,171.8 572.6,173.1 572.8,171.7 573.0,172.5 573.2,172.0 573.4,172.8 573.6,173.0 573.8,173.0 574.0,172.0 574.2,172.2 574.5,172.8 574.7,173.0 574.9,173.1 575.1,172.8 575.3,172.6 575.5,171.7 575.7,172.3 575.9,171.6 576.1,172.2 576.3,171.8 576.5,171.9 576.7,172.7 576.9,172.4 577.1,172.2 577.4,172.2 577.6,172.4 577.8,172.3 578.0,171.9 578.2,172.6 578.4,171.9 578.6,170.8 578.8,170.9 579.0,171.7 579.2,171.3 579.4,171.3 579.6,170.9 579.8,170.1 580.0,170.6 580.2,170.3 580.5,171.2 580.7,170.6 580.9,170.5 581.1,171.2 581.3,170.8 581.5,171.0 581.7,170.8 581.9,170.9 582.1,169.4 582.3,169.9 582.5,170.8 582.7,170.0 582.9,170.3 583.1,169.2 583.4,168.8 583.6,170.1 583.8,169.2 584.0,169.7 584.0,170.3 584.2,169.2 584.4,170.3 584.6,169.5 584.8,168.9 585.0,168.6 585.0,169.4 585.2,169.4 585.4,170.4 585.6,168.7 585.8,168.5 586.0,169.0 586.3,170.1 586.5,170.5 586.7,170.0 586.9,170.2 587.1,170.4 587.1,169.2 587.3,169.5 587.5,171.0 587.7,169.9 587.9,171.5 588.1,170.4 588.3,169.8 588.5,169.4 588.7,169.9 588.9,170.3 589.2,170.3 589.4,170.2 589.6,171.0 589.8,170.6 590.0,170.2 590.2,170.6 590.4,172.3 590.6,170.9 590.8,171.8 591.0,171.3 591.2,171.6 591.4,171.1 591.6,171.3 591.8,171.2 592.0,172.5 592.3,171.5 592.5,171.1 592.7,170.8 592.9,172.5 593.1,171.5 593.3,171.1 593.5,171.7 593.7,172.7 593.9,172.7 594.1,171.6 594.3,172.0 594.5,171.5 594.7,171.5 594.9,172.9 595.2,172.4 595.4,171.6 595.6,172.7 595.8,173.5 596.0,173.1 596.2,172.0 596.4,171.8 596.6,172.4 596.8,172.5 597.0,173.2 597.2,173.3 597.4,173.3 597.6,172.0 597.8,172.2 598.1,171.5 598.3,172.2 598.5,171.6 598.7,171.8 598.9,171.3 599.1,171.9 599.3,171.5 599.5,172.5 599.7,171.5 599.9,171.1 600.1,172.1 600.3,172.7 600.5,172.8 600.7,172.8 601.0,172.5 601.2,172.9 601.4,172.8 601.6,171.3 601.8,171.9 602.0,172.8 602.2,171.6 602.4,172.4 602.6,171.7 602.8,172.0 603.0,172.7 603.2,172.1 603.4,172.0 603.6,171.4 603.9,172.1 604.1,171.8 604.3,171.7 604.5,172.1 604.7,171.9 604.9,172.4 605.1,171.7 605.3,171.6 605.5,171.3 605.7,171.5 605.9,171.6 606.1,170.2 606.3,170.4 606.5,170.6 606.7,169.6 607.0,170.3 607.2,170.6 607.4,170.8 607.6,169.4 607.8,169.4 608.0,169.9 608.2,168.4 608.4,169.3 608.6,168.2 608.8,167.7 609.0,167.3 609.2,167.2 609.3,167.3 609.4,166.4 609.6,167.6 609.9,167.8 609.9,165.9 610.1,165.9 610.3,166.1 610.4,167.9 610.5,166.8 610.7,168.2 610.9,168.1 611.1,167.9 611.3,168.2 611.5,169.3 611.7,168.3 611.9,169.7 612.1,169.7 612.3,169.1 612.5,169.1 612.8,170.0 613.0,170.3 613.2,169.9 613.4,169.8 613.6,170.6 613.8,171.5 614.0,171.1 614.2,171.7 614.4,171.6 614.6,171.3 614.8,171.3 615.0,171.4 615.2,171.0 615.4,171.6 615.7,171.5 615.9,171.0 616.1,172.6 616.3,172.1 616.5,172.6 616.7,173.3 616.9,172.8 617.1,171.7 617.3,173.1 617.5,172.8 617.7,171.8 617.9,173.0 618.1,172.3 618.3,171.2 618.6,171.1 618.8,172.3 619.0,172.5 619.2,173.0 619.4,171.6 619.6,171.5 619.8,172.6 620.0,172.2 620.2,172.1 620.4,172.8 620.6,173.2 620.8,173.5 621.0,173.6 621.2,171.9 621.4,172.2 621.7,172.8 621.9,173.4 622.1,171.6 622.3,172.5 622.5,171.9 622.7,172.2 622.9,172.5 623.1,172.2 623.3,172.3 623.5,171.7 623.7,172.3 623.9,172.3 624.1,172.9 624.3,173.1 624.6,173.9 624.8,172.2 625.0,173.1 625.2,172.4 625.4,172.7 625.6,172.9 625.8,172.4 626.0,172.5 626.2,172.9 626.4,171.6 626.6,172.4 626.8,171.4 627.0,172.1 627.2,172.5 627.5,173.3 627.7,173.4 627.9,172.0 628.1,171.5 628.3,172.0 628.5,172.7 628.7,172.3 628.9,173.0 629.1,173.3 629.3,172.6 629.5,172.8 629.7,172.6 629.9,173.0 630.1,173.3 630.4,173.3 630.6,173.3 630.8,173.1 631.0,171.9 631.2,171.7 631.4,172.7 631.6,171.8 631.8,172.3 632.0,170.9 632.2,171.6 632.4,171.7 632.6,171.2 632.8,171.7 633.0,171.2 633.2,172.5 633.5,171.3 633.7,171.5 633.9,172.4 634.1,172.1 634.3,171.1 634.5,171.2 634.7,172.5 634.9,171.4 635.1,171.0 635.3,171.8 635.5,171.6 635.7,171.2 635.9,171.6 636.1,171.7 636.4,171.1 636.6,171.1 636.8,171.0 637.0,172.1 637.2,170.6 637.4,171.3 637.6,170.9 637.8,171.9 638.0,171.2 638.2,170.4 638.4,172.0 638.6,172.1 638.8,170.7 639.0,171.4 639.3,170.8 639.5,171.4 639.7,169.8 639.9,170.6 640.1,171.1 640.3,171.9 640.5,171.7 640.7,170.7 640.9,170.4 641.1,170.3 641.3,170.4 641.5,171.3 641.7,171.3 641.9,170.6 641.9,170.6 642.2,171.1 642.4,169.9 642.6,171.1 642.8,170.5 643.0,170.6 643.2,171.1 643.4,170.3 643.6,169.8 643.8,170.3 644.0,170.0 644.0,169.8 644.2,170.3 644.4,171.0 644.6,169.7 644.8,170.3 645.1,171.5 645.1,171.2 645.3,171.4 645.5,171.2 645.7,170.9 645.9,170.9 646.1,171.0 646.1,170.6 646.3,170.4 646.5,170.3 646.7,169.5 646.9,170.6 647.1,171.0 647.3,171.1 647.5,170.2 647.7,171.6 647.9,170.1 648.2,171.5 648.4,171.6 648.6,171.2 648.8,170.9 649.0,171.7 649.2,170.5 649.4,170.4 649.6,171.2 649.8,170.5 650.0,170.9 650.2,171.4 650.4,170.9 650.6,172.4 650.8,171.9 651.1,171.0 651.3,171.9 651.5,171.7 651.7,172.0 651.9,171.8 652.1,172.8 652.3,171.2 652.5,172.6 652.7,171.6 652.9,171.3 653.1,171.9 653.3,171.5 653.5,172.4 653.7,172.2 654.0,170.8 654.2,171.8 654.4,171.9 654.6,172.5 654.8,171.2 655.0,172.6 655.2,173.0 655.4,171.3 655.6,171.9 655.8,171.4 656.0,172.4 656.2,171.7 656.4,173.2 656.6,172.0 656.9,171.9 657.1,172.4 657.3,172.0 657.5,171.9 657.7,172.8 657.9,171.9 658.1,172.0 658.3,172.0 658.5,172.6 658.7,172.2 658.9,171.6 659.1,172.7 659.3,172.9 659.5,172.7 659.7,172.4 660.0,172.2 660.2,171.4 660.4,172.8 660.6,172.7 660.8,172.9 661.0,173.7 661.2,172.0 661.4,173.2 661.6,173.4 661.8,173.5 662.0,173.3 662.2,172.3 662.4,173.9 662.6,172.3 662.9,173.1 663.1,173.6 663.3,173.0 663.5,172.8 663.7,171.9 663.9,173.1 664.1,172.4 664.3,172.3 664.5,172.8 664.7,173.4 664.9,173.2 665.1,173.3 665.3,172.5 665.5,172.5 665.8,173.7 666.0,172.2 666.2,173.8 666.4,172.9 666.6,173.1 666.8,172.7 667.0,172.9 667.2,172.9 667.4,172.7 667.6,173.1 667.8,172.5 668.0,171.8 668.2,172.3 668.4,172.2 668.7,172.3 668.9,173.1 669.1,173.3 669.3,172.2 669.5,172.6 669.7,173.4 669.9,172.5 670.1,173.4 670.3,173.3 670.5,172.3 670.7,172.8 670.9,173.6 671.1,173.1 671.3,173.2 671.6,173.4 671.8,173.4 672.0,173.2 672.2,173.5 672.4,173.0 672.6,172.2 672.8,172.4 673.0,173.2" fill="none" stroke="#000000" stroke-width="1.60" stroke-linejoin="round"/>
<polyline points="51.9,214.8 52.1,214.2 52.3,214.1 52.5,214.2 52.7,213.4 52.9,214.5 53.1,214.2 53.3,213.3 53.6,213.5 53.8,212.9 54.0,213.3 54.2,215.0 54.4,213.6 54.6,213.7 54.8,214.1 55.0,213.1 55.2,212.9 55.4,214.9 55.6,213.1 55.8,213.8 56.0,214.7 56.2,214.3 56.5,212.6 56.7,213.2 56.9,214.1 57.1,214.5 57.3,214.3 57.5,214.1 57.7,213.8 57.9,213.4 58.1,213.8 58.3,212.6 58.5,214.0 58.7,214.3 58.9,213.1 59.1,214.1 59.4,214.1 59.6,213.3 59.8,214.2 60.0,213.2 60.2,214.4 60.4,213.3 60.6,213.6 60.8,214.2 61.0,214.4 61.2,213.2 61.4,212.5 61.6,213.2 61.8,213.3 62.0,212.2 62.3,212.6 62.5,213.0 62.7,212.5 62.9,211.5 63.1,211.9 63.3,211.3 63.5,211.0 63.7,209.9 63.9,207.7 64.1,205.7 64.3,203.5 64.5,201.7 64.7,195.4 64.9,188.6 65.2,180.8 65.4,168.2 65.6,155.1 65.8,140.1 66.0,122.8 66.2,102.6 66.2,102.7 66.4,121.4 66.4,122.0 66.6,138.8 66.6,138.8 66.8,154.6 66.9,161.2 67.0,169.4 67.2,179.3 67.4,188.8 67.4,188.2 67.6,195.4 67.8,200.3 68.0,204.0 68.3,206.8 68.5,208.1 68.7,210.3 68.9,210.5 69.1,210.7 69.3,211.4 69.5,212.9 69.7,211.9 69.9,212.1 70.1,213.7 70.3,212.6 70.5,213.3 70.7,213.2 70.9,214.3 71.2,213.3 71.4,214.3 71.6,213.4 71.8,213.9 72.0,214.4 72.2,214.4 72.4,214.2 72.6,214.3 72.8,213.4 73.0,215.1 73.2,214.1 73.4,214.5 73.6,214.1 73.8,215.4 74.1,214.1 74.3,213.5 74.5,214.8 74.7,214.4 74.9,215.1 75.1,214.8 75.3,215.1 75.5,215.4 75.7,215.1 75.9,213.8 76.1,215.4 76.3,214.0 76.5,215.5 76.7,213.6 77.0,215.1 77.2,215.0 77.4,213.9 77.6,215.2 77.8,214.9 78.0,214.0 78.2,215.7 78.4,215.0 78.6,214.5 78.8,215.8 79.0,214.6 79.2,214.2 79.4,215.6 79.6,214.2 79.8,215.4 80.1,214.7 80.3,215.7 80.5,214.9 80.7,215.1 80.9,214.9 81.1,214.8 81.3,215.1 81.5,215.5 81.7,214.8 81.9,215.9 82.1,216.0 82.3,214.4 82.5,214.7 82.7,215.0 83.0,215.9 83.2,215.4 83.4,214.9 83.6,215.9 83.8,214.5 84.0,215.6 84.2,215.9 84.4,214.3 84.6,214.9 84.8,215.4 85.0,216.1 85.2,215.0 85.4,215.2 85.6,215.9 85.9,214.6 86.1,216.1 86.3,215.0 86.5,214.8 86.7,215.9 86.9,215.3 87.1,215.2 87.3,214.4 87.5,215.7 87.7,215.8 87.9,214.7 88.1,215.1 88.3,214.6 88.5,215.7 88.8,215.1 89.0,215.6 89.2,216.1 89.4,215.1 89.6,216.2 89.8,215.1 90.0,215.9 90.2,215.2 90.4,215.5 90.6,216.2 90.8,215.7 91.0,216.1 91.2,215.8 91.4,213.9 91.7,215.6 91.9,215.7 92.1,215.6 92.3,215.4 92.5,214.8 92.7,215.0 92.9,214.3 93.1,215.4 93.3,216.3 93.5,216.2 93.7,215.6 93.9,215.2 94.1,214.4 94.3,214.7 94.5,214.7 94.8,214.6 95.0,214.7 95.2,215.1 95.4,215.8 95.6,215.8 95.8,216.2 96.0,216.5 96.2,215.2 96.4,216.0 96.6,215.9 96.8,215.8 97.0,216.2 97.2,215.4 97.4,214.8 97.7,215.0 97.9,214.9 98.1,215.5 98.3,215.7 98.5,215.8 98.7,214.4 98.9,214.9 99.1,215.6 99.3,215.7 99.5,215.9 99.7,215.2 99.9,215.2 100.1,216.1 100.3,216.5 100.6,215.2 100.8,216.0 101.0,214.6 101.2,214.7 101.4,215.0 101.6,215.9 101.8,215.5 102.0,215.6 102.2,216.0 102.4,215.3 102.6,214.3 102.8,215.1 103.0,215.3 103.2,214.6 103.5,213.7 103.7,215.8 103.9,215.7 104.1,215.8 104.3,215.0 104.5,214.8 104.7,215.5 104.9,215.5 105.1,214.6 105.3,215.7 105.5,215.5 105.7,214.1 105.9,214.6 106.1,213.9 106.3,214.2 106.6,214.5 106.8,215.5 107.0,214.1 107.2,214.9 107.4,214.7 107.6,214.6 107.8,214.3 108.0,214.1 108.2,214.2 108.4,213.7 108.6,214.5 108.8,212.6 109.0,213.8 109.2,213.4 109.5,212.0 109.7,212.7 109.9,211.5 110.1,211.4 110.3,211.0 110.5,210.7 110.7,210.0 110.9,209.2 111.1,207.5 111.3,205.6 111.5,205.4 111.7,204.8 111.9,200.8 112.1,200.4 112.4,197.1 112.6,194.6 112.8,190.9 113.0,187.8 113.2,183.7 113.4,179.6 113.6,173.9 113.8,169.1 114.0,163.6 114.2,156.2 114.4,151.8 114.6,144.1 114.8,136.8 115.0,128.6 115.3,122.1 115.5,113.4 115.7,117.4 115.8,120.3 115.9,123.1 116.0,125.5 116.1,128.2 116.1,127.9 116.3,133.7 116.3,132.9 116.5,137.3 116.6,140.9 116.7,143.1 116.9,148.3 117.1,152.9 117.3,157.4 117.5,160.1 117.7,166.0 117.9,168.5 118.2,172.3 118.4,175.8 118.6,178.7 118.8,181.8 119.0,184.0 119.2,187.9 119.4,189.8 119.6,192.0 119.8,194.7 120.0,196.0 120.2,197.5 120.4,199.7 120.6,200.7 120.8,203.0 121.0,204.3 121.3,204.6 121.5,206.6 121.7,206.1 121.9,207.7 122.1,209.6 122.3,210.3 122.5,210.6 122.7,210.2 122.9,211.3 123.1,211.5 123.3,211.5 123.5,212.2 123.7,213.3 123.9,212.8 124.2,213.7 124.4,212.4 124.6,213.7 124.8,213.9 125.0,213.5 125.2,214.6 125.4,213.5 125.6,213.7 125.8,213.5 126.0,214.5 126.2,215.2 126.4,215.5 126.6,214.0 126.8,215.1 127.1,215.0 127.3,214.2 127.5,215.8 127.7,215.0 127.9,214.5 128.1,214.8 128.3,215.5 128.5,215.7 128.7,214.7 128.9,215.4 129.1,214.6 129.3,216.0 129.5,214.3 129.7,216.3 130.0,215.8 130.2,216.2 130.4,216.3 130.6,215.7 130.8,215.1 131.0,215.1 131.2,214.9 131.4,214.6 131.6,215.5 131.8,216.2 132.0,215.9 132.2,215.9 132.4,216.0 132.6,216.4 132.9,216.8 133.1,215.6 133.3,216.5 133.5,216.8 133.7,215.9 133.9,216.3 134.1,216.7 134.3,216.3 134.5,216.5 134.7,216.6 134.9,215.9 135.1,217.0 135.3,216.6 135.5,216.1 135.7,216.9 136.0,216.9 136.2,216.6 136.4,216.6 136.6,216.0 136.8,216.0 137.0,216.4 137.2,215.7 137.4,216.3 137.6,217.2 137.8,216.7 138.0,216.3 138.2,215.7 138.4,217.3 138.6,216.6 138.9,216.8 139.1,217.4 139.3,217.3 139.5,216.8 139.7,217.6 139.9,216.9 140.1,217.5 140.3,216.9 140.5,215.7 140.7,216.9 140.9,216.1 141.1,217.9 141.3,215.5 141.5,216.6 141.8,216.4 142.0,216.4 142.2,216.6 142.4,217.2 142.6,216.6 142.8,217.4 143.0,217.8 143.2,216.3 143.4,217.2 143.6,216.2 143.8,217.7 144.0,217.9 144.2,216.2 144.4,217.3 144.7,216.8 144.9,216.5 145.1,217.8 145.3,216.7 145.5,216.5 145.7,216.6 145.9,217.8 146.1,218.0 146.3,217.1 146.5,216.7 146.7,217.5 146.9,217.8 147.1,216.3 147.3,217.6 147.5,218.2 147.8,217.2 148.0,217.0 148.2,217.9 148.4,216.6 148.6,216.8 148.8,217.7 149.0,217.0 149.2,217.9 149.4,216.4 149.6,217.4 149.8,217.2 150.0,217.9 150.2,217.5 150.4,217.7 150.7,217.1 150.9,218.0 151.1,217.1 151.3,217.9 151.5,216.9 151.7,217.4 151.9,217.6 152.1,216.6 152.3,217.3 152.5,217.9 152.7,216.7 152.9,217.0 153.1,217.9 153.3,216.9 153.6,216.0 153.8,217.3 154.0,217.3 154.2,217.9 154.4,217.6 154.6,217.6 154.8,217.5 155.0,217.7 155.2,218.4 155.4,216.5 155.6,217.6 155.8,218.1 156.0,217.6 156.2,218.5 156.5,217.2 156.7,217.4 156.9,217.2 157.1,217.4 157.3,218.2 157.5,217.4 157.7,217.6 157.9,218.0 158.1,217.9 158.3,217.0 158.5,216.3 158.7,217.9 158.9,217.6 159.1,217.1 159.4,217.1 159.6,217.4 159.8,217.0 160.0,218.5 160.2,217.0 160.4,218.0 160.6,218.2 160.8,217.8 161.0,217.8 161.2,218.2 161.4,217.2 161.6,217.0 161.8,216.7 162.0,216.6 162.2,218.7 162.5,218.3 162.7,218.0 162.9,216.9 163.1,217.7 163.3,217.7 163.5,217.4 163.7,217.2 163.9,218.3 164.1,217.2 164.3,217.2 164.5,216.9 164.7,217.2 164.9,217.5 165.1,217.3 165.4,218.3 165.6,218.6 165.8,217.9 166.0,217.8 166.2,217.2 166.4,217.4 166.6,218.5 166.8,216.7 167.0,217.3 167.2,217.9 167.4,217.2 167.6,217.2 167.8,218.0 168.0,218.5 168.3,217.6 168.5,217.6 168.7,218.5 168.9,217.9 169.1,217.4 169.3,217.8 169.5,217.7 169.7,218.3 169.9,218.1 170.1,217.7 170.3,217.4 170.5,217.5 170.7,218.3 170.9,217.0 171.2,217.3 171.4,218.3 171.6,216.8 171.8,217.7 172.0,217.2 172.2,217.9 172.4,218.5 172.6,218.1 172.8,218.7 173.0,218.1 173.2,218.0 173.4,217.0 173.6,217.3 173.8,218.1 174.0,217.3 174.3,218.7 174.5,217.1 174.7,218.0 174.9,218.1 175.1,218.2 175.3,218.2 175.5,217.5 175.7,218.4 175.9,218.1 176.1,217.9 176.3,217.8 176.5,217.4 176.7,218.7 176.9,217.4 177.2,217.4 177.4,217.9 177.6,218.7 177.8,218.9 178.0,218.3 178.2,217.7 178.4,218.4 178.6,217.9 178.8,218.5 179.0,218.3 179.2,218.1 179.4,218.8 179.6,218.1 179.8,218.8 180.1,217.9 180.3,217.5 180.5,217.8 180.7,218.3 180.9,217.6 181.1,217.3 181.3,217.3 181.5,218.0 181.7,216.8 181.9,216.6 182.1,218.0 182.3,218.8 182.5,218.8 182.7,217.9 183.0,217.8 183.2,217.9 183.4,218.2 183.6,218.2 183.8,217.5 184.0,217.2 184.2,218.1 184.4,218.2 184.6,218.7 184.8,217.3 185.0,217.3 185.2,216.9 185.4,216.4 185.6,216.7 185.9,217.5 186.1,218.2 186.3,217.0 186.5,216.6 186.7,217.4 186.9,216.9 187.1,216.5 187.3,218.4 187.5,216.8 187.7,217.4 187.9,217.9 188.1,217.3 188.3,218.1 188.5,217.2 188.7,216.1 189.0,215.9 189.2,217.5 189.4,216.7 189.6,216.2 189.8,216.3 190.0,216.5 190.2,215.8 190.4,216.1 190.6,215.9 190.8,216.6 191.0,216.1 191.2,216.3 191.4,215.5 191.6,215.2 191.9,215.3 192.1,214.7 192.3,214.8 192.5,212.7 192.7,213.4 192.9,211.9 193.1,210.7 193.3,209.1 193.5,207.7 193.7,206.0 193.9,204.3 194.1,202.3 194.3,200.4 194.5,197.4 194.8,193.3 195.0,190.3 195.2,186.1 195.4,181.9 195.6,177.3 195.8,173.4 196.0,167.5 196.2,162.8 196.4,156.8 196.6,150.3 196.8,143.0 197.0,144.5 197.1,147.2 197.2,150.2 197.3,152.3 197.4,154.0 197.4,154.0 197.5,154.7 197.7,157.6 197.9,161.2 198.1,164.8 198.1,165.0 198.3,168.9 198.5,173.3 198.7,175.4 198.9,178.5 199.1,181.8 199.3,184.3 199.5,187.5 199.7,190.5 199.9,194.0 200.1,194.8 200.3,196.9 200.5,198.8 200.8,200.2 201.0,202.1 201.2,204.1 201.4,205.1 201.6,206.8 201.8,208.2 202.0,208.2 202.2,210.0 202.4,209.8 202.6,211.1 202.8,212.8 203.0,212.3 203.2,211.8 203.4,213.4 203.7,214.2 203.9,214.0 204.1,214.5 204.3,215.0 204.5,215.4 204.7,215.2 204.9,215.4 205.1,216.1 205.3,215.9 205.5,216.1 205.7,216.7 205.9,216.6 206.1,215.9 206.3,216.8 206.6,216.1 206.8,217.1 207.0,217.1 207.2,217.8 207.4,217.7 207.6,217.9 207.8,217.4 208.0,216.5 208.2,217.7 208.4,217.7 208.6,217.6 208.8,218.0 209.0,217.9 209.2,218.2 209.5,216.9 209.7,218.4 209.9,218.1 210.1,218.6 210.3,217.2 210.5,218.1 210.7,218.4 210.9,218.4 211.1,217.9 211.3,216.9 211.5,218.3 211.7,218.2 211.9,217.3 212.1,217.3 212.4,218.1 212.6,217.2 212.8,217.9 213.0,218.0 213.2,217.4 213.4,216.8 213.6,218.2 213.8,217.6 214.0,217.3 214.2,218.4 214.4,219.0 214.6,218.4 214.8,219.1 215.0,217.6 215.2,217.3 215.5,218.8 215.7,218.2 215.9,218.0 216.1,218.3 216.3,217.8 216.5,218.1 216.7,218.3 216.9,218.8 217.1,218.1 217.3,217.6 217.5,217.4 217.7,217.8 217.9,218.7 218.1,218.9 218.4,219.0 218.6,219.2 218.8,218.6 219.0,218.3 219.2,218.8 219.4,218.7 219.6,218.8 219.8,219.3 220.0,217.6 220.2,218.5 220.4,217.2 220.6,217.7 220.8,219.0 221.0,218.8 221.3,218.8 221.5,217.9 221.7,218.5 221.9,217.8 222.1,218.4 222.3,219.3 222.5,218.9 222.7,219.5 222.9,218.8 223.1,217.8 223.3,219.2 223.5,219.0 223.7,218.1 223.9,219.4 224.2,219.6 224.4,219.4 224.6,218.9 224.8,217.9 225.0,218.9 225.2,218.3 225.4,218.4 225.6,219.0 225.8,219.0 226.0,217.9 226.2,217.9 226.4,218.0 226.6,218.1 226.8,219.0 227.1,217.9 227.3,217.9 227.5,218.7 227.7,217.7 227.9,218.9 228.1,218.2 228.3,218.3 228.5,219.2 228.7,220.0 228.9,218.5 229.1,218.4 229.3,218.5 229.5,219.5 229.7,219.7 229.9,218.3 230.2,217.8 230.4,218.3 230.6,218.8 230.8,219.0 231.0,219.2 231.2,219.2 231.4,218.9 231.6,219.1 231.8,219.6 232.0,217.4 232.2,217.9 232.4,218.0 232.6,219.0 232.8,218.8 233.1,219.2 233.3,218.7 233.5,219.6 233.7,219.1 233.9,218.6 234.1,217.9 234.3,218.4 234.5,218.1 234.7,219.7 234.9,219.3 235.1,218.9 235.3,219.0 235.5,218.4 235.7,219.4 236.0,219.9 236.2,218.5 236.4,219.1 236.6,218.5 236.8,219.8 237.0,217.9 237.2,218.9 237.4,218.5 237.6,219.3 237.8,219.8 238.0,219.2 238.2,218.3 238.4,219.8 238.6,219.2 238.9,219.3 239.1,219.6 239.3,219.4 239.5,218.0 239.7,219.1 239.9,219.1 240.1,218.7 240.3,218.2 240.5,218.9 240.7,218.4 240.9,218.3 241.1,218.3 241.3,219.1 241.5,218.7 241.7,217.9 242.0,218.8 242.2,218.7 242.4,219.6 242.6,218.4 242.8,219.2 243.0,218.7 243.2,218.9 243.4,218.7 243.6,218.8 243.8,218.7 244.0,220.1 244.2,219.6 244.4,218.5 244.6,219.5 244.9,218.6 245.1,219.9 245.3,219.2 245.5,218.7 245.7,219.8 245.9,218.0 246.1,217.9 246.3,218.5 246.5,218.9 246.7,219.8 246.9,219.0 247.1,219.3 247.3,219.8 247.5,220.3 247.8,219.8 248.0,218.7 248.2,218.9 248.4,219.4 248.6,219.9 248.8,220.3 249.0,219.3 249.2,219.0 249.4,219.0 249.6,219.5 249.8,219.9 250.0,219.6 250.2,219.2 250.4,219.3 250.7,219.1 250.9,219.5 251.1,218.8 251.3,218.4 251.5,218.8 251.7,218.8 251.9,218.9 252.1,220.1 252.3,219.5 252.5,219.1 252.7,219.8 252.9,218.6 253.1,218.8 253.3,220.1 253.6,220.2 253.8,220.1 254.0,219.2 254.2,219.3 254.4,218.2 254.6,218.4 254.8,219.8 255.0,218.4 255.2,218.2 255.4,218.5 255.6,219.6 255.8,219.0 256.0,218.6 256.2,219.1 256.4,220.4 256.7,218.7 256.9,218.2 257.1,219.7 257.3,218.4 257.5,219.3 257.7,218.9 257.9,218.5 258.1,219.5 258.3,219.5 258.5,219.2 258.7,218.5 258.9,220.0 259.1,219.3 259.3,219.0 259.6,218.8 259.8,218.6 260.0,218.7 260.2,219.9 260.4,218.1 260.6,220.0 260.8,219.6 261.0,218.5 261.2,218.5 261.4,219.6 261.6,219.6 261.8,218.6 262.0,218.8 262.2,219.9 262.5,220.0 262.7,219.8 262.9,219.9 263.1,218.7 263.3,219.3 263.5,219.8 263.7,219.3 263.9,219.1 264.1,220.2 264.3,220.4 264.5,220.1 264.7,219.7 264.9,219.2 265.1,219.9 265.4,219.1 265.6,218.5 265.8,219.1 266.0,219.6 266.2,220.0 266.4,219.9 266.6,218.8 266.8,219.5 267.0,219.0 267.2,219.9 267.4,219.3 267.6,218.5 267.8,219.0 268.0,218.4 268.2,219.3 268.5,219.2 268.7,219.4 268.9,219.7 269.1,220.5 269.3,220.0 269.5,219.4 269.7,219.2 269.9,218.1 270.1,219.4 270.3,218.6 270.5,218.4 270.7,219.9 270.9,219.0 271.1,220.0 271.4,219.7 271.6,219.7 271.8,220.1 272.0,218.7 272.2,219.1 272.4,219.6 272.6,220.8 272.8,218.7 273.0,219.1 273.2,220.3 273.4,219.2 273.6,219.7 273.8,220.2 274.0,219.7 274.3,219.4 274.5,220.1 274.7,219.2 274.9,219.4 275.1,219.7 275.3,218.7 275.5,219.7 275.7,218.5 275.9,219.9 276.1,220.0 276.3,219.8 276.5,219.9 276.7,219.7 276.9,219.2 277.2,219.8 277.4,219.8 277.6,218.7 277.8,219.9 278.0,219.3 278.2,219.4 278.4,219.0 278.6,218.9 278.8,220.0 279.0,220.1 279.2,218.4 279.4,220.1 279.6,220.0 279.8,220.0 280.1,219.6 280.3,219.4 280.5,220.0 280.7,219.1 280.9,220.1 281.1,219.7 281.3,219.1 281.5,220.3 281.7,220.7 281.9,218.7 282.1,219.1 282.3,218.4 282.5,219.9 282.7,219.0 282.9,219.1 283.2,220.0 283.4,219.1 283.6,219.0 283.8,218.6 284.0,218.8 284.2,219.2 284.4,218.7 284.6,220.0 284.8,218.4 285.0,218.8 285.2,219.1 285.4,220.7 285.6,220.4 285.8,218.5 286.1,218.5 286.3,218.3 286.5,219.9 286.7,220.3 286.9,219.9 287.1,219.7 287.3,219.4 287.5,219.2 287.7,218.2 287.9,219.8 288.1,220.1 288.3,220.1 288.5,218.9 288.7,218.8 289.0,220.3 289.2,220.6 289.4,219.9 289.6,219.7 289.8,219.5 290.0,220.1 290.2,219.8 290.4,218.9 290.6,219.6 290.8,218.1 291.0,218.4 291.2,219.7 291.4,219.1 291.6,219.3 291.9,219.5 292.1,219.9 292.3,218.8 292.5,219.0 292.7,218.8 292.9,217.7 293.1,217.3 293.3,218.0 293.5,217.0 293.7,217.4 293.9,216.1 294.1,215.7 294.3,215.7 294.5,213.5 294.8,213.2 295.0,211.5 295.2,209.5 295.4,208.1 295.6,207.6 295.8,204.2 295.9,204.2 296.0,202.1 296.2,201.0 296.2,200.6 296.4,202.2 296.6,205.3 296.8,206.7 297.0,208.0 297.2,209.8 297.4,212.6 297.6,214.3 297.9,214.4 298.1,214.9 298.3,216.7 298.5,215.7 298.7,218.0 298.9,216.8 299.1,216.7 299.3,217.9 299.5,218.3 299.7,218.1 299.9,218.2 300.1,219.8 300.3,219.7 300.5,217.8 300.8,219.8 301.0,218.9 301.2,220.4 301.4,219.4 301.6,218.9 301.8,219.2 302.0,219.3 302.2,218.9 302.4,219.5 302.6,219.5 302.8,218.7 303.0,219.9 303.2,219.7 303.4,220.3 303.7,219.6 303.9,218.7 304.1,219.7 304.3,218.5 304.5,218.5 304.7,219.3 304.9,218.7 305.1,218.5 305.3,219.8 305.5,220.4 305.7,218.4 305.9,219.1 306.1,218.8 306.3,219.2 306.6,219.5 306.8,219.4 307.0,218.6 307.2,219.6 307.4,219.4 307.6,219.3 307.8,219.7 308.0,219.9 308.2,219.7 308.4,220.1 308.6,218.7 308.8,219.3 309.0,218.7 309.2,219.0 309.4,220.0 309.7,220.0 309.9,219.0 310.1,218.6 310.3,219.0 310.5,219.7 310.7,219.0 310.9,218.4 311.1,219.8 311.3,219.6 311.5,218.7 311.7,219.8 311.9,219.4 312.1,217.9 312.3,219.6 312.6,218.4 312.8,218.1 313.0,219.2 313.2,218.1 313.4,218.9 313.6,218.8 313.8,217.7 314.0,218.3 314.2,217.7 314.4,216.4 314.6,217.3 314.8,216.4 315.0,217.1 315.2,216.8 315.5,215.9 315.7,216.6 315.9,216.1 316.1,215.3 316.3,214.3 316.5,213.4 316.7,214.5 316.9,214.5 317.1,213.0 317.3,212.8 317.5,212.1 317.7,212.3 317.9,213.1 318.1,212.0 318.4,211.6 318.6,211.0 318.8,210.1 318.9,210.1 319.0,210.7 319.0,211.3 319.2,211.1 319.2,212.2 319.4,212.1 319.6,211.6 319.8,211.2 320.0,211.0 320.2,211.5 320.4,211.0 320.6,212.1 320.8,212.5 321.0,211.0 321.3,212.2 321.5,211.6 321.7,211.2 321.9,213.5 322.1,212.7 322.3,213.2 322.5,213.6 322.7,211.6 322.9,212.3 323.1,212.3 323.3,211.0 323.5,210.8 323.6,210.8 323.7,211.8 323.9,211.8 324.1,211.8 324.4,210.4 324.6,211.0 324.6,210.3 324.8,210.3 325.0,210.6 325.2,210.5 325.4,210.9 325.6,210.0 325.7,210.1 325.8,211.2 326.0,211.3 326.2,209.8 326.2,210.0 326.4,210.7 326.6,210.3 326.8,211.0 327.0,211.9 327.3,212.5 327.5,212.0 327.7,212.7 327.9,212.6 328.1,214.0 328.3,213.1 328.5,215.3 328.7,215.1 328.9,215.4 329.1,216.0 329.3,216.8 329.5,216.4 329.7,216.9 329.9,217.0 330.2,216.6 330.4,217.5 330.6,217.5 330.8,218.0 331.0,218.9 331.2,217.9 331.4,218.2 331.6,218.1 331.8,218.7 332.0,218.1 332.2,218.4 332.4,219.0 332.6,219.2 332.8,219.0 333.1,219.8 333.3,219.2 333.5,218.9 333.7,218.8 333.9,220.0 334.1,219.8 334.3,219.8 334.5,218.7 334.7,219.8 334.9,219.7 335.1,220.3 335.3,218.9 335.5,219.7 335.7,219.4 335.9,219.9 336.2,219.8 336.4,218.7 336.6,219.8 336.8,219.4 337.0,219.1 337.2,218.7 337.4,219.5 337.6,219.7 337.8,219.9 338.0,218.8 338.2,218.5 338.4,219.9 338.6,219.5 338.8,220.4 339.1,220.0 339.3,219.3 339.5,220.3 339.7,219.0 339.9,218.3 340.1,219.2 340.3,219.6 340.5,218.9 340.7,220.6 340.9,219.4 341.1,219.2 341.3,220.4 341.5,219.4 341.7,219.3 342.0,219.6 342.2,219.5 342.4,219.8 342.6,219.5 342.8,220.3 343.0,219.1 343.2,219.8 343.4,221.6 343.6,220.8 343.8,221.0 344.0,220.5 344.2,219.5 344.4,219.6 344.6,220.5 344.9,219.1 345.1,220.3 345.3,219.3 345.5,220.7 345.7,219.8 345.9,219.2 346.1,219.8 346.3,219.7 346.5,221.0 346.7,220.0 346.9,220.4 347.1,219.9 347.3,219.7 347.5,220.3 347.8,220.5 348.0,220.3 348.2,219.7 348.4,219.5 348.6,219.5 348.8,219.1 349.0,219.2 349.2,219.4 349.4,219.6 349.6,220.6 349.8,220.5 350.0,219.9 350.2,220.4 350.4,219.8 350.6,218.8 350.9,220.0 351.1,220.2 351.3,220.2 351.5,220.6 351.7,220.8 351.9,220.4 352.1,218.7 352.3,220.9 352.5,220.1 352.7,220.1 352.9,220.7 353.1,219.9 353.3,219.7 353.5,220.8 353.8,220.2 354.0,221.0 354.2,219.4 354.4,219.8 354.6,220.0 354.8,219.4 355.0,220.5 355.2,219.6 355.4,220.0 355.6,219.3 355.8,220.3 356.0,220.2 356.2,220.9 356.4,220.6 356.7,220.8 356.9,220.9 357.1,220.4 357.3,219.4 357.5,219.6 357.7,219.5 357.9,219.9 358.1,219.1 358.3,219.3 358.5,219.7 358.7,218.9 358.9,220.8 359.1,218.7 359.3,219.6 359.6,218.9 359.8,219.1 360.0,219.8 360.2,219.4 360.4,219.3 360.6,220.7 360.8,219.7 361.0,220.5 361.2,219.8 361.4,219.2 361.6,218.5 361.8,220.7 362.0,219.1 362.2,220.2 362.4,219.9 362.7,220.1 362.9,218.8 363.1,219.7 363.3,218.8 363.5,220.0 363.7,219.6 363.9,219.1 364.1,219.4 364.3,218.8 364.5,219.9 364.7,219.0 364.9,219.0 365.1,218.8 365.3,220.3 365.6,220.1 365.8,219.2 366.0,220.0 366.2,219.0 366.4,218.8 366.6,219.7 366.8,217.9 367.0,219.4 367.2,220.1 367.4,218.0 367.6,219.2 367.8,219.2 368.0,217.8 368.2,218.2 368.5,217.9 368.7,217.5 368.9,218.1 369.1,217.9 369.3,216.6 369.5,217.3 369.7,217.1 369.9,217.8 370.1,217.2 370.3,217.7 370.5,217.0 370.7,216.7 370.9,216.4 371.1,215.5 371.4,214.5 371.6,215.6 371.8,214.7 372.0,214.2 372.2,214.3 372.4,214.8 372.6,214.3 372.8,213.0 372.8,213.7 373.0,212.6 373.2,211.5 373.3,211.6 373.4,212.8 373.6,210.7 373.8,211.7 373.8,210.3 374.0,210.3 374.3,210.0 374.5,208.8 374.7,207.9 374.9,207.3 375.1,207.5 375.3,206.4 375.5,204.8 375.7,204.5 375.9,204.0 376.1,202.1 376.3,200.3 376.5,198.8 376.7,196.9 376.9,195.7 377.1,193.9 377.4,193.3 377.6,191.8 377.8,189.3 378.0,187.6 378.2,185.1 378.4,184.5 378.4,184.2 378.6,182.0 378.6,180.8 378.8,183.2 379.0,186.2 379.2,187.4 379.3,188.1 379.4,189.9 379.6,192.5 379.8,193.6 380.0,196.8 380.3,197.7 380.5,200.0 380.7,200.2 380.9,202.2 381.1,203.6 381.3,205.4 381.5,207.2 381.7,206.7 381.9,208.5 382.1,209.2 382.3,211.2 382.5,212.1 382.7,211.8 382.9,212.3 383.2,212.9 383.4,213.3 383.6,215.3 383.8,216.3 384.0,216.4 384.2,216.4 384.4,216.7 384.6,216.8 384.8,217.9 385.0,216.4 385.2,217.0 385.4,218.3 385.6,218.0 385.8,219.1 386.1,217.8 386.3,219.4 386.5,218.4 386.7,217.6 386.9,218.5 387.1,219.2 387.3,220.1 387.5,219.0 387.7,220.0 387.9,220.3 388.1,220.3 388.3,219.1 388.5,219.1 388.7,218.5 389.0,219.3 389.2,219.5 389.4,218.6 389.6,219.8 389.8,218.9 390.0,219.0 390.2,218.8 390.4,218.6 390.6,220.0 390.8,219.8 391.0,219.6 391.2,219.2 391.4,220.3 391.6,219.5 391.8,219.6 392.1,219.9 392.3,220.4 392.5,220.7 392.7,220.3 392.9,219.1 393.1,220.3 393.3,220.1 393.5,218.9 393.7,219.9 393.9,220.2 394.1,220.2 394.3,219.7 394.5,220.0 394.7,220.3 395.0,219.9 395.2,218.6 395.4,218.7 395.6,217.9 395.8,218.7 396.0,217.8 396.2,219.0 396.4,219.5 396.6,219.6 396.8,218.0 397.0,218.4 397.2,217.4 397.4,218.5 397.6,216.8 397.9,216.9 398.1,217.0 398.3,216.3 398.5,217.1 398.7,216.0 398.9,216.7 399.1,217.0 399.3,215.6 399.5,215.8 399.7,216.7 399.7,215.4 399.9,216.1 400.1,215.8 400.2,214.5 400.3,214.9 400.5,216.0 400.8,214.2 400.8,215.9 401.0,216.3 401.2,215.9 401.4,216.0 401.6,215.5 401.8,216.1 401.8,215.8 402.0,216.0 402.2,216.3 402.4,216.3 402.6,216.2 402.8,216.5 403.0,216.8 403.2,217.0 403.4,218.0 403.6,217.9 403.9,218.4 404.1,218.3 404.3,217.5 404.5,217.9 404.7,218.8 404.9,218.2 405.1,219.4 405.3,219.0 405.5,219.4 405.7,219.6 405.9,219.6 406.1,219.0 406.3,218.6 406.5,220.2 406.8,220.3 407.0,219.7 407.2,220.2 407.4,219.0 407.6,220.0 407.8,220.0 408.0,220.6 408.0,219.2 408.2,219.0 408.4,220.9 408.6,220.9 408.8,219.5 409.0,221.1 409.2,220.8 409.4,219.6 409.7,220.5 409.9,220.3 410.1,220.1 410.3,219.6 410.5,219.9 410.7,220.5 410.9,220.2 411.1,219.5 411.3,220.9 411.5,219.8 411.7,219.8 411.9,220.7 412.1,219.8 412.3,220.9 412.6,220.4 412.8,220.7 413.0,219.8 413.2,220.3 413.4,219.9 413.6,219.5 413.8,220.1 414.0,220.6 414.2,219.6 414.4,221.2 414.6,220.0 414.8,219.6 415.0,219.2 415.2,221.1 415.5,219.5 415.7,220.1 415.9,220.6 416.1,219.8 416.3,221.1 416.5,221.4 416.7,219.9 416.9,219.5 417.1,220.6 417.3,220.1 417.5,220.9 417.7,220.3 417.9,221.2 418.1,221.1 418.3,220.2 418.6,220.9 418.8,220.7 419.0,221.1 419.2,220.4 419.4,219.5 419.6,221.0 419.8,219.9 420.0,221.3 420.2,220.6 420.4,220.8 420.6,220.9 420.8,221.2 421.0,221.2 421.2,220.7 421.5,220.2 421.7,220.4 421.9,220.1 422.1,220.4 422.3,220.2 422.5,220.6 422.7,220.0 422.9,220.2 423.1,220.1 423.3,219.8 423.5,220.1 423.7,220.0 423.9,219.8 424.1,219.6 424.4,221.0 424.6,220.1 424.8,220.1 425.0,221.4 425.2,220.6 425.4,221.1 425.6,220.4 425.8,219.9 426.0,220.6 426.2,219.7 426.4,221.2 426.6,219.9 426.8,220.9 427.0,221.0 427.3,221.3 427.5,219.7 427.7,221.2 427.9,221.0 428.1,220.5 428.3,219.7 428.5,219.5 428.7,221.3 428.9,221.9 429.1,220.2 429.3,220.9 429.5,220.7 429.7,220.4 429.9,220.5 430.1,220.6 430.4,220.0 430.6,221.4 430.8,220.4 431.0,220.4 431.2,220.1 431.4,221.3 431.6,219.7 431.8,221.0 432.0,220.6 432.2,220.3 432.4,221.6 432.6,219.9 432.8,219.9 433.0,220.1 433.3,220.3 433.5,220.6 433.7,220.9 433.9,221.4 434.1,219.7 434.3,220.4 434.5,220.1 434.7,220.8 434.9,220.6 435.1,220.4 435.3,219.5 435.5,219.9 435.7,220.3 435.9,220.0 436.2,220.1 436.4,220.2 436.6,219.7 436.8,220.7 437.0,220.3 437.2,220.2 437.4,220.3 437.6,221.4 437.8,220.5 438.0,221.5 438.2,219.6 438.4,221.0 438.6,220.2 438.8,220.8 439.1,219.3 439.3,220.8 439.5,220.7 439.7,220.6 439.9,219.6 440.1,219.9 440.3,219.6 440.5,220.0 440.7,220.7 440.9,220.0 441.1,219.0 441.3,219.5 441.5,219.2 441.7,219.5 442.0,220.0 442.2,220.7 442.4,220.2 442.6,220.3 442.8,219.0 443.0,220.4 443.2,220.6 443.4,220.6 443.6,219.9 443.8,219.8 444.0,220.4 444.2,218.9 444.4,220.0 444.6,219.7 444.8,219.2 445.1,219.0 445.3,218.1 445.5,217.9 445.7,218.9 445.9,217.5 446.1,218.7 446.3,217.0 446.5,218.3 446.7,217.2 446.9,216.7 447.1,216.8 447.3,216.6 447.5,216.2 447.7,216.2 448.0,215.3 448.2,216.8 448.4,215.6 448.6,215.8 448.8,215.7 449.0,214.7 449.2,215.9 449.4,214.4 449.4,214.5 449.6,214.0 449.8,214.6 449.9,213.9 450.0,214.9 450.2,215.2 450.4,214.4 450.4,215.3 450.6,215.6 450.9,215.5 451.1,215.9 451.3,215.4 451.5,215.2 451.7,216.2 451.9,216.9 452.1,215.9 452.3,216.3 452.5,216.0 452.7,217.2 452.9,216.2 453.1,217.6 453.3,217.5 453.5,218.3 453.8,218.1 454.0,219.1 454.2,217.8 454.4,218.4 454.6,218.2 454.8,218.2 455.0,218.1 455.2,218.0 455.4,219.7 455.6,219.5 455.6,218.8 455.8,219.2 456.0,218.9 456.2,218.8 456.4,220.1 456.7,220.1 456.9,220.1 457.1,220.6 457.3,221.0 457.5,220.6 457.7,219.7 457.9,220.6 458.1,219.7 458.3,221.0 458.5,219.9 458.7,220.9 458.9,219.3 459.1,220.2 459.3,220.1 459.5,221.2 459.8,220.8 460.0,221.2 460.2,220.9 460.4,220.8 460.6,221.4 460.8,219.4 461.0,220.9 461.2,220.8 461.4,221.1 461.6,220.9 461.8,220.2 462.0,220.4 462.2,221.3 462.4,220.4 462.7,220.9 462.9,219.7 463.1,220.5 463.3,220.8 463.5,220.7 463.7,219.9 463.9,220.9 464.1,221.2 464.3,220.1 464.5,220.0 464.7,221.2 464.9,221.1 465.1,221.4 465.3,221.6 465.6,220.1 465.8,220.6 466.0,221.0 466.2,220.4 466.4,220.7 466.6,220.8 466.8,221.7 467.0,220.5 467.2,220.5 467.4,220.8 467.6,220.7 467.8,220.8 468.0,221.0 468.2,220.5 468.5,221.0 468.7,219.9 468.9,220.6 469.1,220.4 469.3,221.2 469.5,221.0 469.7,221.1 469.9,220.9 470.1,220.0 470.3,220.0 470.5,220.8 470.7,220.0 470.9,221.5 471.1,221.0 471.3,220.6 471.6,220.8 471.8,219.9 472.0,220.6 472.2,221.6 472.4,220.1 472.6,221.3 472.8,220.7 473.0,220.0 473.2,221.3 473.4,221.1 473.6,220.9 473.8,221.5 474.0,220.1 474.2,220.5 474.5,220.7 474.7,221.6 474.9,219.9 475.1,219.7 475.3,220.6 475.5,220.1 475.7,221.2 475.9,221.5 476.1,221.2 476.3,220.0 476.5,220.8 476.7,221.5 476.9,220.1 477.1,220.9 477.4,220.4 477.6,221.6 477.8,220.9 478.0,222.1 478.2,220.1 478.4,220.9 478.6,220.4 478.8,220.0 479.0,220.4 479.2,220.8 479.4,220.6 479.6,221.0 479.8,220.3 480.0,220.1 480.3,220.1 480.5,221.4 480.7,221.5 480.9,220.8 481.1,220.5 481.3,220.4 481.5,220.8 481.7,219.9 481.9,221.5 482.1,220.9 482.3,219.9 482.5,220.5 482.7,221.4 482.9,220.4 483.2,220.2 483.4,221.5 483.6,221.3 483.8,220.4 484.0,220.2 484.2,220.6 484.4,220.7 484.6,221.5 484.8,221.1 485.0,221.6 485.2,222.0 485.4,221.7 485.6,220.8 485.8,220.5 486.0,220.5 486.3,220.8 486.5,221.8 486.7,221.6 486.9,220.6 487.1,221.1 487.3,220.5 487.5,221.9 487.7,219.7 487.9,221.3 488.1,221.2 488.3,219.9 488.5,219.9 488.7,220.2 488.9,220.7 489.2,221.4 489.4,221.9 489.6,220.8 489.8,220.1 490.0,221.9 490.2,222.0 490.4,219.9 490.6,220.3 490.8,221.2 491.0,221.2 491.2,221.1 491.4,220.1 491.6,220.2 491.8,220.4 492.1,220.8 492.3,220.1 492.5,220.2 492.7,220.0 492.9,220.1 493.1,220.7 493.3,219.9 493.5,220.8 493.7,220.4 493.9,221.1 494.1,220.0 494.3,221.2 494.5,221.1 494.7,220.2 495.0,220.6 495.2,220.4 495.4,221.1 495.6,221.0 495.8,219.7 496.0,220.4 496.2,221.6 496.4,220.1 496.6,221.3 496.8,220.3 497.0,220.1 497.2,221.2 497.4,220.1 497.6,221.7 497.8,222.0 498.1,221.8 498.3,222.1 498.5,220.3 498.7,219.9 498.9,220.5 499.1,220.7 499.3,220.8 499.5,221.1 499.7,221.6 499.9,221.4 500.1,221.8 500.3,221.4 500.5,221.5 500.7,219.8 501.0,220.1 501.2,220.7 501.4,221.4 501.6,220.6 501.8,219.9 502.0,219.6 502.2,220.0 502.4,221.0 502.6,220.5 502.8,221.3 503.0,221.9 503.2,221.3 503.4,221.6 503.6,220.3 503.9,220.0 504.1,219.8 504.3,219.9 504.5,221.5 504.7,220.1 504.9,220.9 505.1,220.2 505.3,220.5 505.5,220.6 505.7,221.3 505.9,220.1 506.1,219.9 506.3,219.8 506.5,220.6 506.8,221.1 507.0,221.8 507.2,219.8 507.4,221.3 507.6,221.1 507.8,219.5 508.0,219.7 508.2,221.7 508.4,220.1 508.6,221.4 508.8,220.7 509.0,221.5 509.2,220.7 509.4,220.0 509.7,221.2 509.9,220.5 510.1,219.6 510.3,220.9 510.5,221.0 510.7,221.0 510.9,220.9 511.1,220.2 511.3,220.1 511.5,221.4 511.7,220.8 511.9,220.4 512.1,220.7 512.3,220.9 512.5,220.2 512.8,219.3 513.0,220.9 513.2,219.3 513.4,219.4 513.6,219.8 513.8,218.6 514.0,219.0 514.2,220.2 514.4,219.9 514.6,220.0 514.8,219.1 515.0,219.6 515.2,218.7 515.4,219.3 515.7,218.8 515.9,218.6 516.1,218.9 516.3,218.9 516.5,218.4 516.7,219.0 516.9,218.3 517.1,217.2 517.3,217.6 517.5,218.2 517.7,217.0 517.7,218.0 517.9,217.7 518.1,216.4 518.3,216.0 518.6,215.7 518.8,216.5 518.8,216.9 519.0,216.0 519.2,217.0 519.4,215.0 519.6,216.2 519.8,214.9 519.8,216.1 520.0,214.6 520.2,216.0 520.4,215.1 520.6,214.9 520.8,213.7 521.0,214.2 521.2,214.7 521.3,215.5 521.5,215.9 521.7,214.2 521.9,214.8 522.1,214.4 522.3,214.0 522.5,215.6 522.7,215.4 522.9,216.1 523.1,216.3 523.3,215.1 523.5,216.1 523.7,216.9 523.9,216.6 523.9,216.9 524.1,216.9 524.4,217.3 524.5,216.6 524.6,216.6 524.8,217.8 525.0,217.2 525.2,217.6 525.4,217.6 525.6,218.6 525.8,217.8 526.0,217.8 526.2,219.3 526.4,218.3 526.6,219.5 526.8,219.3 527.0,218.2 527.2,218.8 527.5,219.0 527.7,219.2 527.9,219.5 528.1,219.4 528.3,220.3 528.5,220.8 528.7,220.4 528.9,220.4 529.1,221.0 529.3,221.0 529.5,219.7 529.7,220.6 529.9,219.6 530.1,220.0 530.4,221.0 530.6,219.8 530.8,221.0 531.0,221.1 531.2,219.6 531.4,220.9 531.6,221.3 531.8,220.9 532.0,220.5 532.2,220.9 532.4,220.5 532.6,220.7 532.8,220.7 533.0,221.6 533.3,220.0 533.5,219.8 533.7,219.4 533.9,219.6 534.1,219.6 534.3,221.1 534.5,220.2 534.7,221.0 534.9,220.6 535.1,221.5 535.3,220.1 535.5,220.5 535.7,220.3 535.9,220.0 536.2,220.0 536.4,220.5 536.6,220.1 536.8,219.6 537.0,221.7 537.2,220.4 537.4,219.8 537.6,220.6 537.8,220.6 538.0,221.1 538.2,220.4 538.4,220.1 538.6,220.9 538.8,220.3 539.0,220.9 539.3,220.6 539.5,220.1 539.7,220.4 539.9,220.2 540.1,220.0 540.3,220.8 540.5,220.4 540.7,221.5 540.9,220.0 541.1,221.5 541.3,220.7 541.5,220.5 541.7,221.8 541.9,221.1 542.2,221.5 542.4,220.3 542.6,219.6 542.8,221.1 543.0,221.1 543.2,219.7 543.4,219.0 543.6,220.9 543.8,220.6 544.0,220.6 544.2,219.4 544.4,220.4 544.6,219.3 544.8,218.5 545.1,218.9 545.2,219.1 545.3,218.2 545.5,219.6 545.7,219.7 545.7,218.5 545.9,219.4 546.1,220.1 546.3,219.3 546.5,219.2 546.7,219.0 546.9,219.8 547.1,219.3 547.3,220.4 547.5,219.3 547.7,219.5 548.0,220.8 548.2,219.6 548.4,220.5 548.6,221.1 548.8,220.3 549.0,221.5 549.2,220.4 549.4,220.0 549.6,219.7 549.8,221.2 550.0,220.1 550.2,221.5 550.4,220.7 550.6,221.6 550.9,220.2 551.1,221.4 551.3,221.5 551.5,221.1 551.7,219.9 551.9,221.2 552.1,221.5 552.3,220.1 552.5,221.4 552.7,219.9 552.9,220.2 553.1,219.8 553.3,221.1 553.5,220.7 553.7,220.0 554.0,220.9 554.2,221.7 554.4,220.2 554.6,220.8 554.8,220.1 555.0,220.6 555.2,220.5 555.4,220.4 555.6,220.2 555.8,221.3 556.0,221.0 556.2,221.5 556.4,220.4 556.6,222.3 556.9,220.5 557.1,220.8 557.3,221.2 557.5,220.3 557.7,220.6 557.9,220.9 558.1,221.4 558.3,221.4 558.5,220.8 558.7,221.2 558.9,220.2 559.1,221.5 559.3,220.9 559.5,221.8 559.8,220.7 560.0,220.6 560.2,221.1 560.4,220.0 560.6,221.4 560.8,221.0 561.0,221.8 561.2,220.6 561.4,221.2 561.6,220.7 561.8,220.3 562.0,220.6 562.2,221.7 562.4,221.0 562.7,220.3 562.9,220.6 563.1,220.9 563.3,220.6 563.5,220.3 563.7,220.6 563.9,221.2 564.1,221.4 564.3,221.8 564.5,220.5 564.7,220.7 564.9,221.1 565.1,220.7 565.3,220.0 565.5,221.3 565.8,220.2 566.0,220.5 566.2,220.9 566.4,221.8 566.6,220.4 566.8,221.2 567.0,220.4 567.2,221.5 567.4,220.7 567.6,220.0 567.8,220.7 568.0,220.7 568.2,220.4 568.4,220.4 568.7,219.7 568.9,221.2 569.1,220.6 569.3,221.6 569.5,220.9 569.7,220.6 569.9,220.6 570.1,220.6 570.3,221.7 570.5,220.5 570.7,220.0 570.9,219.6 571.1,220.2 571.3,220.6 571.6,221.3 571.8,221.0 572.0,220.9 572.2,220.0 572.4,220.8 572.6,220.1 572.8,219.6 573.0,220.8 573.2,221.3 573.4,219.6 573.6,220.2 573.8,219.7 574.0,221.2 574.2,220.8 574.5,220.0 574.7,220.5 574.9,220.1 575.1,220.1 575.3,220.8 575.5,220.4 575.7,221.1 575.9,221.2 576.1,221.3 576.3,220.3 576.5,221.0 576.7,219.8 576.9,220.9 577.1,220.1 577.4,220.7 577.6,219.6 577.8,220.8 578.0,219.2 578.2,219.2 578.4,219.9 578.6,219.1 578.8,219.9 579.0,219.6 579.2,219.4 579.4,219.9 579.6,219.9 579.8,218.9 580.0,219.7 580.2,220.1 580.5,220.1 580.7,220.1 580.9,218.8 581.1,219.7 581.3,219.6 581.5,218.1 581.7,219.2 581.9,218.5 582.1,218.7 582.3,219.1 582.5,218.7 582.7,218.3 582.9,218.9 583.1,217.7 583.4,218.1 583.6,218.1 583.8,219.4 584.0,219.4 584.0,219.0 584.2,219.5 584.4,219.1 584.6,218.2 584.8,218.6 585.0,218.5 585.0,217.5 585.2,218.3 585.4,217.6 585.6,218.2 585.8,217.7 586.0,218.4 586.3,218.7 586.5,219.1 586.7,219.1 586.9,217.2 587.1,217.7 587.1,217.8 587.3,219.0 587.5,218.1 587.7,219.5 587.9,218.4 588.1,219.5 588.3,219.6 588.5,219.4 588.7,219.2 588.9,219.9 589.2,219.3 589.4,219.9 589.6,220.0 589.8,219.9 590.0,219.7 590.2,219.1 590.4,219.1 590.6,219.9 590.8,219.4 591.0,218.6 591.2,220.9 591.4,220.6 591.6,219.7 591.8,219.8 592.0,219.9 592.3,220.8 592.5,220.0 592.7,220.7 592.9,221.1 593.1,219.5 593.3,220.0 593.5,221.0 593.7,220.8 593.9,221.3 594.1,219.9 594.3,220.8 594.5,220.1 594.7,221.4 594.9,221.5 595.2,220.3 595.4,220.8 595.6,220.5 595.8,221.2 596.0,221.0 596.2,219.9 596.4,220.6 596.6,219.8 596.8,219.8 597.0,220.3 597.2,220.9 597.4,220.1 597.6,220.3 597.8,220.4 598.1,220.5 598.3,220.5 598.5,219.9 598.7,219.6 598.9,220.2 599.1,220.9 599.3,222.0 599.5,221.2 599.7,220.0 599.9,221.2 600.1,221.2 600.3,221.5 600.5,221.0 600.7,220.0 601.0,220.4 601.2,220.2 601.4,219.8 601.6,220.6 601.8,220.2 602.0,220.9 602.2,220.7 602.4,220.7 602.6,219.4 602.8,220.8 603.0,220.8 603.2,220.0 603.4,219.7 603.6,220.1 603.9,220.3 604.1,219.2 604.3,219.3 604.5,219.7 604.7,220.0 604.9,218.9 605.1,219.6 605.3,217.8 605.5,218.9 605.7,218.4 605.9,219.0 606.1,218.0 606.3,217.1 606.5,216.8 606.7,218.5 607.0,217.5 607.2,218.2 607.4,217.0 607.6,217.5 607.8,216.1 608.0,217.3 608.2,215.8 608.4,214.7 608.6,215.1 608.8,214.5 609.0,214.3 609.2,215.0 609.3,214.1 609.4,215.3 609.6,213.4 609.9,214.9 609.9,213.4 610.1,213.2 610.3,214.2 610.4,214.5 610.5,214.5 610.7,215.8 610.9,214.5 611.1,214.9 611.3,214.4 611.5,216.8 611.7,215.7 611.9,216.7 612.1,217.4 612.3,216.7 612.5,216.9 612.8,217.0 613.0,218.5 613.2,217.1 613.4,218.9 613.6,218.0 613.8,217.8 614.0,219.2 614.2,219.0 614.4,219.0 614.6,219.5 614.8,218.7 615.0,220.5 615.2,219.8 615.4,220.2 615.7,219.8 615.9,219.9 616.1,221.0 616.3,220.4 616.5,219.3 616.7,220.5 616.9,220.2 617.1,220.4 617.3,221.6 617.5,220.9 617.7,221.2 617.9,219.8 618.1,219.5 618.3,219.9 618.6,219.5 618.8,220.5 619.0,220.2 619.2,220.0 619.4,221.0 619.6,221.3 619.8,221.5 620.0,221.2 620.2,221.7 620.4,221.2 620.6,220.7 620.8,220.3 621.0,219.8 621.2,219.8 621.4,221.2 621.7,220.1 621.9,221.4 622.1,220.8 622.3,220.2 622.5,221.6 622.7,221.6 622.9,221.9 623.1,220.9 623.3,221.3 623.5,220.8 623.7,220.2 623.9,220.2 624.1,221.5 624.3,221.3 624.6,221.6 624.8,221.9 625.0,221.0 625.2,221.4 625.4,221.0 625.6,221.5 625.8,221.1 626.0,219.9 626.2,220.2 626.4,220.9 626.6,221.4 626.8,221.8 627.0,221.4 627.2,221.2 627.5,221.6 627.7,222.0 627.9,221.0 628.1,221.7 628.3,221.8 628.5,220.3 628.7,219.9 628.9,221.5 629.1,221.0 629.3,220.4 629.5,221.8 629.7,219.7 629.9,220.3 630.1,220.3 630.4,220.0 630.6,220.3 630.8,220.0 631.0,220.9 631.2,220.3 631.4,221.0 631.6,220.7 631.8,221.1 632.0,221.3 632.2,221.6 632.4,221.5 632.6,221.0 632.8,220.2 633.0,221.8 633.2,220.9 633.5,220.8 633.7,221.0 633.9,220.2 634.1,220.7 634.3,219.8 634.5,221.6 634.7,221.0 634.9,220.2 635.1,221.0 635.3,220.4 635.5,221.2 635.7,221.1 635.9,220.8 636.1,220.3 636.4,219.8 636.6,219.5 636.8,220.5 637.0,219.6 637.2,220.2 637.4,220.9 637.6,221.5 637.8,220.7 638.0,220.4 638.2,220.9 638.4,219.9 638.6,221.3 638.8,220.9 639.0,221.4 639.3,221.3 639.5,220.0 639.7,220.0 639.9,221.3 640.1,219.9 640.3,219.5 640.5,220.1 640.7,219.6 640.9,220.1 641.1,219.7 641.3,220.1 641.5,221.0 641.7,220.6 641.9,221.5 641.9,220.7 642.2,220.8 642.4,219.9 642.6,220.8 642.8,219.5 643.0,219.7 643.2,219.6 643.4,219.9 643.6,219.6 643.8,220.3 644.0,219.6 644.0,220.2 644.2,220.4 644.4,220.4 644.6,220.6 644.8,221.0 645.1,219.6 645.1,220.6 645.3,219.7 645.5,219.9 645.7,218.8 645.9,220.7 646.1,220.4 646.1,219.3 646.3,219.0 646.5,220.1 646.7,220.0 646.9,220.2 647.1,220.0 647.3,220.8 647.5,219.9 647.7,220.1 647.9,218.9 648.2,219.9 648.4,219.3 648.6,220.7 648.8,219.9 649.0,219.8 649.2,220.6 649.4,220.9 649.6,219.6 649.8,219.8 650.0,221.4 650.2,221.5 650.4,220.3 650.6,220.0 650.8,221.3 651.1,219.8 651.3,219.4 651.5,220.1 651.7,220.4 651.9,221.1 652.1,220.9 652.3,221.9 652.5,220.5 652.7,220.1 652.9,221.4 653.1,220.1 653.3,221.3 653.5,220.8 653.7,221.0 654.0,220.7 654.2,219.9 654.4,220.8 654.6,220.2 654.8,220.1 655.0,219.8 655.2,220.1 655.4,219.8 655.6,219.4 655.8,221.6 656.0,221.6 656.2,221.9 656.4,221.3 656.6,221.2 656.9,220.1 657.1,220.0 657.3,221.3 657.5,221.2 657.7,221.1 657.9,221.3 658.1,221.6 658.3,221.4 658.5,220.2 658.7,220.9 658.9,221.9 659.1,221.7 659.3,222.0 659.5,221.1 659.7,220.9 660.0,219.8 660.2,220.8 660.4,221.2 660.6,222.1 660.8,221.8 661.0,220.1 661.2,220.1 661.4,221.0 661.6,221.5 661.8,220.3 662.0,221.6 662.2,221.0 662.4,221.7 662.6,220.8 662.9,220.8 663.1,219.9 663.3,221.2 663.5,222.0 663.7,220.9 663.9,221.1 664.1,222.0 664.3,222.2 664.5,220.7 664.7,221.6 664.9,221.5 665.1,221.2 665.3,220.5 665.5,221.4 665.8,221.5 666.0,220.8 666.2,219.8 666.4,221.6 666.6,222.0 666.8,220.7 667.0,220.8 667.2,221.9 667.4,222.1 667.6,220.3 667.8,220.9 668.0,220.8 668.2,220.6 668.4,221.0 668.7,221.8 668.9,221.0 669.1,220.3 669.3,221.8 669.5,221.8 669.7,220.9 669.9,220.6 670.1,220.8 670.3,222.1 670.5,221.6 670.7,220.8 670.9,220.9 671.1,220.4 671.3,221.5 671.6,221.5 671.8,220.7 672.0,220.7 672.2,220.7 672.4,220.6 672.6,221.4 672.8,220.7 673.0,220.2" fill="none" stroke="#ff0000" stroke-width="1.60" stroke-linejoin="round"/>
<polyline points="51.9,261.0 52.1,261.2 52.3,261.4 52.5,261.7 52.7,261.2 52.9,261.5 53.1,261.2 53.3,261.3 53.6,261.8 53.8,260.5 54.0,262.5 54.2,261.1 54.4,262.2 54.6,261.1 54.8,260.5 55.0,262.0 55.2,261.9 55.4,261.1 55.6,261.2 55.8,261.9 56.0,261.9 56.2,261.1 56.5,260.6 56.7,261.7 56.9,260.4 57.1,260.8 57.3,261.7 57.5,261.6 57.7,260.1 57.9,260.7 58.1,260.9 58.3,261.3 58.5,260.7 58.7,260.4 58.9,261.5 59.1,260.2 59.4,260.8 59.6,260.5 59.8,260.6 60.0,259.8 60.2,260.9 60.4,259.6 60.6,259.8 60.8,260.3 61.0,259.8 61.2,259.6 61.4,258.5 61.6,259.0 61.8,259.2 62.0,259.5 62.3,258.0 62.5,257.8 62.7,258.0 62.9,258.5 63.1,257.0 63.3,256.7 63.5,258.0 63.7,256.8 63.9,256.2 64.1,255.8 64.3,254.7 64.5,255.2 64.7,253.8 64.9,253.0 65.2,251.5 65.4,250.6 65.6,246.9 65.8,242.7 66.0,235.1 66.2,225.5 66.2,225.2 66.4,209.1 66.4,209.7 66.6,188.0 66.6,188.2 66.8,159.5 66.9,142.8 67.0,122.4 67.2,80.4 67.4,34.7 67.4,33.3 67.6,79.2 67.8,123.5 68.0,158.8 68.3,188.8 68.5,210.0 68.7,226.4 68.9,235.8 69.1,243.2 69.3,246.8 69.5,250.6 69.7,251.4 69.9,253.8 70.1,254.6 70.3,255.1 70.5,255.2 70.7,255.8 70.9,257.3 71.2,256.3 71.4,257.4 71.6,258.7 71.8,257.6 72.0,257.9 72.2,258.7 72.4,259.0 72.6,257.8 72.8,260.3 73.0,260.6 73.2,259.9 73.4,261.0 73.6,260.7 73.8,259.9 74.1,261.3 74.3,261.1 74.5,260.8 74.7,259.8 74.9,261.7 75.1,261.9 75.3,261.2 75.5,261.0 75.7,262.4 75.9,260.7 76.1,262.5 76.3,261.6 76.5,261.8 76.7,262.3 77.0,261.0 77.2,261.4 77.4,261.3 77.6,261.3 77.8,261.6 78.0,263.3 78.2,262.6 78.4,262.8 78.6,262.0 78.8,262.0 79.0,262.9 79.2,262.9 79.4,263.5 79.6,263.2 79.8,262.8 80.1,262.7 80.3,262.4 80.5,262.9 80.7,263.1 80.9,262.3 81.1,262.2 81.3,262.6 81.5,262.6 81.7,263.3 81.9,262.5 82.1,261.8 82.3,262.9 82.5,263.8 82.7,262.8 83.0,262.5 83.2,263.3 83.4,263.1 83.6,263.1 83.8,262.8 84.0,263.8 84.2,263.7 84.4,263.4 84.6,263.1 84.8,263.5 85.0,264.2 85.2,262.4 85.4,262.1 85.6,262.3 85.9,263.4 86.1,263.2 86.3,262.9 86.5,264.1 86.7,264.0 86.9,262.9 87.1,262.6 87.3,263.2 87.5,263.1 87.7,263.6 87.9,263.9 88.1,262.9 88.3,263.6 88.5,262.1 88.8,262.6 89.0,263.2 89.2,262.4 89.4,262.8 89.6,261.8 89.8,263.9 90.0,263.4 90.2,263.0 90.4,263.2 90.6,263.0 90.8,263.8 91.0,262.6 91.2,263.3 91.4,263.5 91.7,263.9 91.9,263.6 92.1,262.5 92.3,262.7 92.5,263.7 92.7,264.3 92.9,263.0 93.1,263.3 93.3,263.4 93.5,262.8 93.7,262.2 93.9,262.5 94.1,264.1 94.3,263.5 94.5,262.9 94.8,262.9 95.0,263.6 95.2,264.1 95.4,263.1 95.6,263.5 95.8,262.6 96.0,262.4 96.2,263.5 96.4,263.2 96.6,263.0 96.8,263.4 97.0,262.6 97.2,264.0 97.4,263.9 97.7,263.9 97.9,264.2 98.1,262.6 98.3,263.5 98.5,263.9 98.7,263.8 98.9,263.7 99.1,262.8 99.3,264.0 99.5,264.0 99.7,263.2 99.9,263.2 100.1,264.3 100.3,263.7 100.6,262.9 100.8,262.9 101.0,263.9 101.2,264.3 101.4,263.9 101.6,263.5 101.8,262.4 102.0,262.3 102.2,263.6 102.4,262.9 102.6,263.1 102.8,264.1 103.0,263.5 103.2,263.5 103.5,263.7 103.7,262.7 103.9,263.3 104.1,263.4 104.3,262.1 104.5,264.1 104.7,263.3 104.9,264.1 105.1,263.6 105.3,261.7 105.5,261.6 105.7,263.2 105.9,262.3 106.1,263.4 106.3,263.7 106.6,262.9 106.8,262.8 107.0,262.1 107.2,262.9 107.4,263.1 107.6,261.8 107.8,262.3 108.0,262.0 108.2,261.4 108.4,261.6 108.6,262.5 108.8,261.8 109.0,260.9 109.2,261.2 109.5,260.8 109.7,259.6 109.9,258.9 110.1,259.7 110.3,258.3 110.5,258.3 110.7,257.5 110.9,256.8 111.1,255.4 111.3,254.2 111.5,253.6 111.7,253.0 111.9,251.4 112.1,248.4 112.4,246.5 112.6,244.5 112.8,242.8 113.0,238.8 113.2,236.4 113.4,231.9 113.6,229.5 113.8,223.9 114.0,220.1 114.2,214.9 114.4,210.2 114.6,204.7 114.8,199.6 115.0,193.6 115.3,186.9 115.5,178.8 115.7,171.8 115.8,170.0 115.9,165.9 116.0,162.7 116.1,161.9 116.1,162.2 116.3,166.4 116.3,165.7 116.5,169.9 116.6,172.2 116.7,174.2 116.9,179.5 117.1,185.3 117.3,187.7 117.5,192.8 117.7,196.7 117.9,201.7 118.2,206.0 118.4,209.1 118.6,212.4 118.8,215.9 119.0,219.0 119.2,222.4 119.4,225.9 119.6,227.5 119.8,230.5 120.0,233.0 120.2,234.6 120.4,237.6 120.6,239.9 120.8,241.6 121.0,243.4 121.3,245.2 121.5,246.6 121.7,247.1 121.9,249.6 122.1,251.2 122.3,251.6 122.5,252.7 122.7,252.6 122.9,254.8 123.1,255.2 123.3,256.5 123.5,257.2 123.7,257.5 123.9,257.6 124.2,259.1 124.4,259.3 124.6,259.2 124.8,259.2 125.0,260.5 125.2,261.1 125.4,260.3 125.6,261.6 125.8,260.5 126.0,261.8 126.2,261.0 126.4,262.1 126.6,261.6 126.8,262.8 127.1,261.2 127.3,262.2 127.5,261.7 127.7,262.5 127.9,262.5 128.1,262.6 128.3,263.2 128.5,263.3 128.7,262.9 128.9,262.6 129.1,262.8 129.3,262.8 129.5,263.3 129.7,263.0 130.0,263.4 130.2,262.7 130.4,263.1 130.6,263.3 130.8,263.7 131.0,264.1 131.2,262.5 131.4,263.4 131.6,263.0 131.8,263.4 132.0,264.5 132.2,263.7 132.4,264.8 132.6,264.5 132.9,263.4 133.1,263.3 133.3,263.5 133.5,263.8 133.7,264.2 133.9,264.4 134.1,264.6 134.3,264.2 134.5,263.6 134.7,264.5 134.9,264.9 135.1,264.7 135.3,263.7 135.5,263.9 135.7,264.1 136.0,264.8 136.2,265.1 136.4,263.1 136.6,264.7 136.8,264.3 137.0,265.1 137.2,265.1 137.4,265.0 137.6,266.1 137.8,264.6 138.0,264.0 138.2,264.2 138.4,264.6 138.6,264.8 138.9,264.6 139.1,265.4 139.3,264.4 139.5,265.7 139.7,264.9 139.9,265.6 140.1,264.7 140.3,264.9 140.5,264.4 140.7,264.9 140.9,265.7 141.1,265.3 141.3,265.6 141.5,264.7 141.8,264.2 142.0,264.9 142.2,265.9 142.4,265.5 142.6,264.7 142.8,265.3 143.0,265.7 143.2,265.5 143.4,265.6 143.6,265.4 143.8,265.0 144.0,264.5 144.2,265.7 144.4,265.2 144.7,264.3 144.9,266.1 145.1,266.0 145.3,264.6 145.5,265.9 145.7,265.3 145.9,264.7 146.1,264.4 146.3,264.5 146.5,265.1 146.7,264.8 146.9,265.6 147.1,266.1 147.3,265.2 147.5,264.5 147.8,265.3 148.0,264.7 148.2,264.5 148.4,265.0 148.6,266.0 148.8,265.7 149.0,266.1 149.2,266.0 149.4,265.4 149.6,265.0 149.8,264.5 150.0,265.7 150.2,265.2 150.4,266.0 150.7,265.7 150.9,264.8 151.1,265.2 151.3,265.3 151.5,264.7 151.7,264.3 151.9,265.6 152.1,265.6 152.3,265.0 152.5,264.6 152.7,265.1 152.9,265.1 153.1,265.4 153.3,265.3 153.6,266.6 153.8,265.2 154.0,265.7 154.2,265.9 154.4,265.6 154.6,265.8 154.8,264.7 155.0,265.0 155.2,265.6 155.4,264.9 155.6,264.6 155.8,265.5 156.0,266.3 156.2,266.7 156.5,266.0 156.7,265.4 156.9,265.0 157.1,265.3 157.3,264.6 157.5,264.9 157.7,265.9 157.9,266.0 158.1,266.5 158.3,265.4 158.5,265.8 158.7,266.1 158.9,265.3 159.1,265.3 159.4,266.7 159.6,265.6 159.8,266.4 160.0,266.0 160.2,266.5 160.4,266.4 160.6,265.5 160.8,265.2 161.0,266.3 161.2,265.5 161.4,265.6 161.6,266.3 161.8,265.7 162.0,265.5 162.2,266.6 162.5,266.5 162.7,266.8 162.9,265.5 163.1,267.0 163.3,266.4 163.5,266.0 163.7,265.2 163.9,266.3 164.1,265.9 164.3,266.7 164.5,265.7 164.7,264.6 164.9,266.1 165.1,265.6 165.4,265.7 165.6,264.7 165.8,265.7 166.0,265.4 166.2,264.7 166.4,266.8 166.6,265.0 166.8,265.8 167.0,265.4 167.2,266.3 167.4,266.1 167.6,266.7 167.8,265.9 168.0,266.4 168.3,266.5 168.5,266.6 168.7,265.6 168.9,265.7 169.1,266.2 169.3,265.7 169.5,266.5 169.7,266.5 169.9,266.9 170.1,266.5 170.3,266.0 170.5,264.6 170.7,265.3 170.9,266.1 171.2,266.6 171.4,265.8 171.6,266.2 171.8,265.9 172.0,266.0 172.2,266.6 172.4,265.9 172.6,265.4 172.8,265.4 173.0,266.1 173.2,266.3 173.4,266.5 173.6,265.6 173.8,266.8 174.0,266.6 174.3,265.9 174.5,265.5 174.7,266.2 174.9,266.7 175.1,266.4 175.3,266.4 175.5,266.6 175.7,267.2 175.9,265.2 176.1,266.0 176.3,265.4 176.5,265.6 176.7,266.4 176.9,265.7 177.2,266.3 177.4,266.6 177.6,266.5 177.8,266.9 178.0,266.6 178.2,266.1 178.4,267.0 178.6,265.3 178.8,265.6 179.0,265.7 179.2,266.2 179.4,266.4 179.6,266.9 179.8,265.5 180.1,265.7 180.3,266.0 180.5,265.5 180.7,266.2 180.9,265.8 181.1,265.9 181.3,266.3 181.5,266.7 181.7,265.0 181.9,266.2 182.1,266.0 182.3,265.9 182.5,265.6 182.7,266.1 183.0,266.9 183.2,266.4 183.4,266.4 183.6,266.2 183.8,265.5 184.0,266.2 184.2,265.3 184.4,265.4 184.6,264.9 184.8,264.9 185.0,265.7 185.2,265.4 185.4,266.7 185.6,266.7 185.9,266.3 186.1,266.5 186.3,265.0 186.5,265.0 186.7,266.3 186.9,267.0 187.1,264.6 187.3,265.4 187.5,265.7 187.7,265.6 187.9,265.7 188.1,265.5 188.3,265.4 188.5,266.0 188.7,266.0 189.0,265.4 189.2,264.7 189.4,266.0 189.6,263.8 189.8,265.4 190.0,264.5 190.2,264.6 190.4,265.5 190.6,264.4 190.8,263.6 191.0,264.3 191.2,265.2 191.4,264.1 191.6,263.5 191.9,264.3 192.1,264.2 192.3,262.5 192.5,261.6 192.7,262.6 192.9,261.3 193.1,260.7 193.3,259.2 193.5,258.7 193.7,258.5 193.9,257.7 194.1,254.6 194.3,253.5 194.5,250.7 194.8,248.9 195.0,246.6 195.2,242.9 195.4,240.6 195.6,236.0 195.8,232.2 196.0,228.1 196.2,222.6 196.4,217.3 196.6,212.5 196.8,207.1 197.0,200.5 197.1,198.1 197.2,194.2 197.3,191.6 197.4,187.5 197.4,187.4 197.5,184.4 197.7,186.2 197.9,189.2 198.1,193.9 198.1,195.2 198.3,197.7 198.5,201.6 198.7,205.7 198.9,210.4 199.1,215.0 199.3,217.1 199.5,221.4 199.7,223.9 199.9,228.7 200.1,230.6 200.3,234.1 200.5,235.7 200.8,239.2 201.0,241.8 201.2,242.8 201.4,244.5 201.6,247.0 201.8,249.8 202.0,251.1 202.2,252.4 202.4,252.8 202.6,254.0 202.8,256.4 203.0,257.1 203.2,257.1 203.4,259.5 203.7,258.8 203.9,260.6 204.1,259.4 204.3,261.5 204.5,261.4 204.7,262.5 204.9,263.0 205.1,263.3 205.3,263.5 205.5,262.7 205.7,263.2 205.9,264.4 206.1,263.3 206.3,264.4 206.6,264.4 206.8,264.2 207.0,264.9 207.2,264.0 207.4,264.1 207.6,264.5 207.8,263.9 208.0,265.4 208.2,265.9 208.4,264.5 208.6,264.5 208.8,264.8 209.0,264.5 209.2,265.5 209.5,264.9 209.7,265.8 209.9,266.4 210.1,266.7 210.3,266.4 210.5,266.4 210.7,266.5 210.9,265.8 211.1,265.3 211.3,265.2 211.5,265.6 211.7,266.5 211.9,266.5 212.1,265.6 212.4,266.0 212.6,265.0 212.8,266.5 213.0,267.1 213.2,266.1 213.4,266.2 213.6,266.5 213.8,266.7 214.0,265.6 214.2,266.6 214.4,265.1 214.6,266.2 214.8,265.1 215.0,266.8 215.2,265.9 215.5,266.0 215.7,267.0 215.9,266.3 216.1,266.3 216.3,266.9 216.5,266.4 216.7,266.1 216.9,266.9 217.1,266.2 217.3,265.4 217.5,266.8 217.7,266.9 217.9,267.5 218.1,266.8 218.4,267.3 218.6,265.7 218.8,265.7 219.0,266.0 219.2,267.2 219.4,266.4 219.6,267.0 219.8,266.2 220.0,266.5 220.2,266.7 220.4,266.0 220.6,266.0 220.8,267.0 221.0,266.7 221.3,267.5 221.5,267.0 221.7,266.1 221.9,266.7 222.1,265.8 222.3,267.4 222.5,266.5 222.7,266.8 222.9,266.7 223.1,266.8 223.3,267.8 223.5,267.4 223.7,266.5 223.9,265.9 224.2,266.3 224.4,266.3 224.6,267.1 224.8,267.7 225.0,267.8 225.2,267.6 225.4,267.1 225.6,267.4 225.8,266.3 226.0,267.2 226.2,266.3 226.4,267.0 226.6,266.4 226.8,267.4 227.1,267.6 227.3,266.9 227.5,267.7 227.7,266.9 227.9,266.9 228.1,266.5 228.3,266.5 228.5,267.8 228.7,266.6 228.9,266.2 229.1,267.5 229.3,266.5 229.5,266.4 229.7,266.7 229.9,266.5 230.2,266.6 230.4,267.2 230.6,266.9 230.8,268.0 231.0,266.2 231.2,266.8 231.4,267.3 231.6,266.7 231.8,266.9 232.0,267.4 232.2,267.2 232.4,268.1 232.6,267.3 232.8,268.0 233.1,266.9 233.3,267.4 233.5,267.4 233.7,267.7 233.9,267.2 234.1,267.9 234.3,266.7 234.5,266.6 234.7,267.5 234.9,267.5 235.1,267.2 235.3,267.5 235.5,266.8 235.7,268.0 236.0,268.0 236.2,266.5 236.4,267.6 236.6,268.3 236.8,266.9 237.0,267.9 237.2,267.4 237.4,267.5 237.6,266.8 237.8,267.9 238.0,266.7 238.2,267.0 238.4,267.1 238.6,268.2 238.9,267.0 239.1,266.7 239.3,267.0 239.5,267.9 239.7,267.5 239.9,267.7 240.1,268.2 240.3,267.4 240.5,266.8 240.7,268.0 240.9,267.4 241.1,267.4 241.3,268.0 241.5,268.2 241.7,268.1 242.0,266.7 242.2,267.5 242.4,267.5 242.6,266.8 242.8,267.2 243.0,267.2 243.2,267.8 243.4,267.8 243.6,266.9 243.8,267.6 244.0,267.9 244.2,267.6 244.4,266.8 244.6,267.8 244.9,267.6 245.1,267.7 245.3,266.7 245.5,266.7 245.7,267.9 245.9,267.5 246.1,267.1 246.3,267.2 246.5,267.3 246.7,266.7 246.9,267.0 247.1,267.6 247.3,266.7 247.5,268.4 247.8,267.1 248.0,268.0 248.2,267.1 248.4,267.1 248.6,268.0 248.8,267.2 249.0,267.1 249.2,267.9 249.4,268.0 249.6,267.8 249.8,267.3 250.0,268.3 250.2,267.8 250.4,266.8 250.7,268.6 250.9,267.7 251.1,267.4 251.3,266.5 251.5,266.6 251.7,267.0 251.9,266.8 252.1,267.7 252.3,266.7 252.5,267.8 252.7,267.6 252.9,267.7 253.1,267.7 253.3,267.0 253.6,267.6 253.8,267.2 254.0,266.9 254.2,267.7 254.4,268.2 254.6,267.7 254.8,268.0 255.0,267.3 255.2,268.2 255.4,267.0 255.6,267.7 255.8,267.6 256.0,267.6 256.2,266.8 256.4,267.5 256.7,267.3 256.9,267.9 257.1,268.2 257.3,268.3 257.5,268.2 257.7,267.6 257.9,268.1 258.1,269.1 258.3,267.9 258.5,267.7 258.7,268.0 258.9,267.0 259.1,268.5 259.3,267.5 259.6,268.2 259.8,267.3 260.0,267.2 260.2,268.1 260.4,268.3 260.6,268.2 260.8,268.0 261.0,268.5 261.2,267.4 261.4,267.7 261.6,268.7 261.8,267.7 262.0,267.7 262.2,267.6 262.5,268.4 262.7,268.4 262.9,268.2 263.1,267.3 263.3,267.6 263.5,268.2 263.7,267.5 263.9,268.2 264.1,268.6 264.3,268.6 264.5,268.5 264.7,267.2 264.9,267.6 265.1,268.8 265.4,267.5 265.6,268.5 265.8,268.4 266.0,268.8 266.2,267.2 266.4,268.8 266.6,268.6 266.8,268.5 267.0,267.4 267.2,267.1 267.4,268.9 267.6,267.6 267.8,268.5 268.0,269.0 268.2,267.3 268.5,266.8 268.7,266.8 268.9,267.7 269.1,268.8 269.3,268.6 269.5,268.5 269.7,267.2 269.9,267.2 270.1,267.0 270.3,267.2 270.5,267.0 270.7,266.9 270.9,268.0 271.1,267.7 271.4,267.8 271.6,267.3 271.8,268.2 272.0,267.2 272.2,266.8 272.4,267.3 272.6,267.4 272.8,267.5 273.0,267.7 273.2,267.8 273.4,267.9 273.6,267.2 273.8,268.5 274.0,268.5 274.3,268.3 274.5,268.4 274.7,267.7 274.9,267.3 275.1,269.1 275.3,268.5 275.5,268.3 275.7,268.6 275.9,268.4 276.1,268.0 276.3,267.4 276.5,267.2 276.7,268.7 276.9,268.3 277.2,266.7 277.4,268.3 277.6,267.5 277.8,268.7 278.0,267.3 278.2,266.7 278.4,268.6 278.6,268.9 278.8,268.2 279.0,268.8 279.2,267.5 279.4,267.4 279.6,268.4 279.8,268.9 280.1,268.6 280.3,267.7 280.5,268.7 280.7,267.0 280.9,267.7 281.1,268.3 281.3,267.5 281.5,267.1 281.7,267.6 281.9,268.0 282.1,267.7 282.3,268.6 282.5,268.7 282.7,267.2 282.9,267.5 283.2,268.7 283.4,267.8 283.6,268.6 283.8,267.3 284.0,268.5 284.2,268.8 284.4,268.8 284.6,268.7 284.8,267.6 285.0,267.6 285.2,268.7 285.4,268.4 285.6,267.9 285.8,267.0 286.1,267.3 286.3,267.8 286.5,268.6 286.7,268.3 286.9,269.0 287.1,267.7 287.3,268.7 287.5,267.7 287.7,267.2 287.9,268.8 288.1,267.3 288.3,267.4 288.5,268.3 288.7,268.1 289.0,268.6 289.2,267.9 289.4,267.6 289.6,267.6 289.8,267.7 290.0,268.3 290.2,267.6 290.4,267.7 290.6,267.8 290.8,268.2 291.0,267.9 291.2,268.3 291.4,267.0 291.6,267.0 291.9,266.9 292.1,267.8 292.3,267.1 292.5,268.0 292.7,267.2 292.9,267.2 293.1,266.4 293.3,266.1 293.5,264.2 293.7,264.8 293.9,262.8 294.1,262.6 294.3,260.9 294.5,258.5 294.8,256.7 295.0,254.7 295.2,251.3 295.4,249.9 295.6,247.3 295.8,242.9 295.9,240.9 296.0,239.4 296.2,237.0 296.2,237.4 296.4,241.6 296.6,244.2 296.8,247.7 297.0,249.6 297.2,251.8 297.4,255.4 297.6,257.0 297.9,259.3 298.1,260.4 298.3,262.3 298.5,264.2 298.7,265.1 298.9,264.4 299.1,264.8 299.3,265.2 299.5,267.1 299.7,266.5 299.9,266.1 300.1,267.4 300.3,266.9 300.5,266.7 300.8,266.9 301.0,266.2 301.2,267.4 301.4,267.4 301.6,267.3 301.8,267.6 302.0,268.3 302.2,267.3 302.4,267.5 302.6,268.4 302.8,267.5 303.0,266.7 303.2,268.4 303.4,267.2 303.7,267.6 303.9,267.4 304.1,268.5 304.3,268.9 304.5,268.6 304.7,267.4 304.9,268.5 305.1,267.9 305.3,267.3 305.5,267.2 305.7,268.2 305.9,267.6 306.1,267.4 306.3,267.3 306.6,267.7 306.8,268.3 307.0,267.1 307.2,267.3 307.4,268.5 307.6,268.0 307.8,267.8 308.0,268.9 308.2,268.6 308.4,268.3 308.6,267.8 308.8,268.1 309.0,267.4 309.2,267.9 309.4,268.6 309.7,267.3 309.9,266.9 310.1,268.0 310.3,267.3 310.5,267.7 310.7,268.0 310.9,267.8 311.1,266.6 311.3,267.6 311.5,267.0 311.7,267.3 311.9,266.2 312.1,268.1 312.3,266.7 312.6,267.5 312.8,267.8 313.0,267.2 313.2,266.7 313.4,266.3 313.6,265.3 313.8,266.1 314.0,265.8 314.2,265.4 314.4,265.3 314.6,265.8 314.8,266.0 315.0,266.2 315.2,265.0 315.5,265.8 315.7,265.0 315.9,263.3 316.1,263.6 316.3,264.4 316.5,264.1 316.7,263.6 316.9,263.0 317.1,263.5 317.3,262.1 317.5,261.4 317.7,260.6 317.9,261.3 318.1,259.7 318.4,260.5 318.6,260.2 318.8,259.5 318.9,258.9 319.0,258.3 319.0,259.3 319.2,258.3 319.2,258.4 319.4,258.3 319.6,259.4 319.8,258.7 320.0,260.0 320.2,260.2 320.4,259.6 320.6,260.2 320.8,259.9 321.0,260.6 321.3,261.7 321.5,261.3 321.7,260.8 321.9,261.5 322.1,261.0 322.3,261.3 322.5,261.3 322.7,262.0 322.9,261.8 323.1,260.7 323.3,262.3 323.5,261.0 323.6,260.8 323.7,261.2 323.9,262.1 324.1,260.3 324.4,261.2 324.6,261.3 324.6,260.7 324.8,260.5 325.0,260.1 325.2,260.5 325.4,260.0 325.6,260.2 325.7,259.5 325.8,259.3 326.0,259.8 326.2,257.9 326.2,259.3 326.4,258.8 326.6,258.8 326.8,260.0 327.0,259.9 327.3,260.2 327.5,261.5 327.7,263.0 327.9,262.6 328.1,262.1 328.3,262.9 328.5,263.6 328.7,262.9 328.9,263.3 329.1,263.6 329.3,263.7 329.5,264.3 329.7,263.9 329.9,264.4 330.2,264.5 330.4,265.6 330.6,265.5 330.8,265.4 331.0,267.0 331.2,266.9 331.4,266.9 331.6,267.0 331.8,266.9 332.0,266.6 332.2,267.4 332.4,266.8 332.6,266.4 332.8,266.7 333.1,267.8 333.3,267.4 333.5,268.1 333.7,268.6 333.9,268.7 334.1,267.6 334.3,268.4 334.5,268.1 334.7,267.2 334.9,268.4 335.1,268.6 335.3,267.6 335.5,268.0 335.7,268.3 335.9,268.8 336.2,268.0 336.4,268.4 336.6,267.4 336.8,268.1 337.0,267.9 337.2,268.5 337.4,267.6 337.6,267.2 337.8,267.8 338.0,268.9 338.2,268.8 338.4,267.9 338.6,269.0 338.8,267.7 339.1,267.7 339.3,268.8 339.5,267.9 339.7,267.9 339.9,268.1 340.1,267.9 340.3,268.2 340.5,268.2 340.7,268.3 340.9,267.3 341.1,268.7 341.3,268.1 341.5,267.5 341.7,268.5 342.0,267.6 342.2,268.0 342.4,268.8 342.6,268.0 342.8,269.4 343.0,267.8 343.2,268.7 343.4,267.5 343.6,269.6 343.8,269.5 344.0,268.6 344.2,267.5 344.4,268.0 344.6,268.3 344.9,268.3 345.1,268.3 345.3,269.2 345.5,268.0 345.7,268.0 345.9,269.4 346.1,269.2 346.3,267.8 346.5,267.4 346.7,268.8 346.9,268.9 347.1,269.5 347.3,267.6 347.5,268.3 347.8,268.6 348.0,269.4 348.2,268.2 348.4,267.4 348.6,267.4 348.8,268.6 349.0,267.6 349.2,268.6 349.4,268.6 349.6,268.2 349.8,268.6 350.0,267.3 350.2,268.9 350.4,267.9 350.6,268.7 350.9,267.6 351.1,268.6 351.3,269.3 351.5,268.8 351.7,269.7 351.9,269.4 352.1,268.4 352.3,269.1 352.5,267.5 352.7,267.4 352.9,269.1 353.1,269.1 353.3,268.2 353.5,268.0 353.8,269.1 354.0,268.1 354.2,268.1 354.4,269.3 354.6,269.3 354.8,269.4 355.0,269.5 355.2,269.7 355.4,268.1 355.6,267.9 355.8,268.1 356.0,268.2 356.2,268.0 356.4,268.7 356.7,269.1 356.9,268.5 357.1,268.1 357.3,267.8 357.5,269.1 357.7,268.6 357.9,267.6 358.1,268.6 358.3,267.9 358.5,267.3 358.7,267.8 358.9,268.6 359.1,268.6 359.3,268.6 359.6,269.4 359.8,269.2 360.0,269.1 360.2,268.5 360.4,268.6 360.6,267.1 360.8,267.3 361.0,268.1 361.2,267.5 361.4,268.4 361.6,267.4 361.8,269.1 362.0,268.0 362.2,267.6 362.4,268.5 362.7,268.6 362.9,268.5 363.1,269.3 363.3,268.6 363.5,267.1 363.7,267.3 363.9,267.8 364.1,267.2 364.3,267.8 364.5,268.6 364.7,267.9 364.9,267.0 365.1,267.2 365.3,267.0 365.6,268.1 365.8,267.6 366.0,267.8 366.2,267.5 366.4,268.1 366.6,268.6 366.8,268.0 367.0,266.5 367.2,267.8 367.4,266.7 367.6,267.4 367.8,267.1 368.0,266.2 368.2,266.1 368.5,266.2 368.7,266.1 368.9,267.1 369.1,267.0 369.3,266.4 369.5,265.7 369.7,264.8 369.9,264.8 370.1,265.9 370.3,264.9 370.5,264.6 370.7,265.5 370.9,264.2 371.1,264.9 371.4,263.3 371.6,263.1 371.8,262.6 372.0,261.9 372.2,261.6 372.4,261.4 372.6,261.9 372.8,261.2 372.8,260.3 373.0,260.6 373.2,260.9 373.3,260.9 373.4,259.4 373.6,258.7 373.8,259.2 373.8,260.2 374.0,258.1 374.3,257.8 374.5,257.8 374.7,257.3 374.9,256.6 375.1,256.3 375.3,255.5 375.5,254.8 375.7,252.7 375.9,252.9 376.1,250.7 376.3,249.1 376.5,249.4 376.7,248.3 376.9,245.4 377.1,244.9 377.4,241.7 377.6,241.4 377.8,238.7 378.0,236.8 378.2,235.3 378.4,232.1 378.4,232.8 378.6,229.4 378.6,229.1 378.8,227.8 379.0,226.2 379.2,222.7 379.3,220.8 379.4,222.7 379.6,225.6 379.8,227.4 380.0,229.9 380.3,232.8 380.5,236.3 380.7,237.8 380.9,239.6 381.1,242.9 381.3,244.3 381.5,246.4 381.7,248.8 381.9,249.9 382.1,251.2 382.3,252.9 382.5,254.4 382.7,255.7 382.9,256.6 383.2,257.7 383.4,259.4 383.6,260.6 383.8,260.4 384.0,261.7 384.2,262.3 384.4,263.5 384.6,263.8 384.8,263.3 385.0,265.0 385.2,265.6 385.4,265.2 385.6,265.4 385.8,266.0 386.1,266.4 386.3,265.9 386.5,266.3 386.7,266.9 386.9,267.7 387.1,267.3 387.3,267.6 387.5,266.5 387.7,267.9 387.9,267.5 388.1,268.3 388.3,268.1 388.5,268.7 388.7,268.2 389.0,266.9 389.2,267.1 389.4,268.0 389.6,268.4 389.8,267.9 390.0,267.5 390.2,268.8 390.4,268.1 390.6,268.8 390.8,268.4 391.0,267.8 391.2,267.9 391.4,268.7 391.6,267.5 391.8,268.0 392.1,267.5 392.3,268.3 392.5,268.0 392.7,268.6 392.9,267.7 393.1,268.9 393.3,267.8 393.5,268.6 393.7,268.8 393.9,267.5 394.1,267.8 394.3,267.4 394.5,267.8 394.7,268.0 395.0,267.9 395.2,267.6 395.4,267.7 395.6,267.8 395.8,267.0 396.0,267.9 396.2,267.6 396.4,266.9 396.6,267.9 396.8,267.4 397.0,267.3 397.2,266.8 397.4,266.5 397.6,266.4 397.9,265.1 398.1,266.0 398.3,265.7 398.5,266.2 398.7,265.4 398.9,266.6 399.1,265.4 399.3,263.7 399.5,263.6 399.7,264.6 399.7,264.6 399.9,264.5 400.1,264.2 400.2,264.9 400.3,263.3 400.5,264.3 400.8,263.6 400.8,264.0 401.0,264.7 401.2,263.0 401.4,263.1 401.6,264.4 401.8,265.0 401.8,265.1 402.0,265.7 402.2,265.5 402.4,265.3 402.6,264.6 402.8,264.5 403.0,265.9 403.2,266.0 403.4,265.9 403.6,266.4 403.9,267.0 404.1,265.9 404.3,265.6 404.5,264.8 404.7,265.6 404.9,266.2 405.1,265.9 405.3,265.6 405.5,265.4 405.7,265.5 405.9,266.1 406.1,266.3 406.3,267.1 406.5,266.7 406.8,265.5 407.0,265.4 407.2,266.6 407.4,265.8 407.6,266.0 407.8,266.8 408.0,266.6 408.0,265.1 408.2,265.7 408.4,266.0 408.6,266.1 408.8,265.1 409.0,267.5 409.2,266.7 409.4,267.4 409.7,267.2 409.9,266.5 410.1,266.1 410.3,267.2 410.5,268.2 410.7,268.2 410.9,268.2 411.1,267.1 411.3,267.9 411.5,266.8 411.7,267.2 411.9,268.9 412.1,267.5 412.3,268.8 412.6,269.0 412.8,269.1 413.0,269.4 413.2,268.9 413.4,267.6 413.6,267.8 413.8,267.9 414.0,268.2 414.2,268.3 414.4,269.7 414.6,269.8 414.8,268.2 415.0,269.0 415.2,269.4 415.5,269.1 415.7,268.6 415.9,269.7 416.1,269.8 416.3,268.3 416.5,269.1 416.7,269.0 416.9,267.9 417.1,268.2 417.3,269.4 417.5,268.3 417.7,268.2 417.9,269.5 418.1,268.7 418.3,269.8 418.6,268.6 418.8,268.5 419.0,269.6 419.2,268.8 419.4,270.1 419.6,269.4 419.8,269.8 420.0,268.8 420.2,269.4 420.4,270.0 420.6,269.2 420.8,269.7 421.0,269.5 421.2,269.1 421.5,270.1 421.7,269.5 421.9,270.0 422.1,268.3 422.3,268.8 422.5,268.3 422.7,267.9 422.9,269.6 423.1,270.0 423.3,269.5 423.5,270.0 423.7,269.9 423.9,269.4 424.1,268.6 424.4,268.5 424.6,270.0 424.8,270.1 425.0,269.9 425.2,269.2 425.4,269.4 425.6,269.2 425.8,269.7 426.0,269.0 426.2,267.9 426.4,268.7 426.6,268.7 426.8,268.7 427.0,268.4 427.3,268.0 427.5,269.0 427.7,270.0 427.9,269.6 428.1,268.7 428.3,270.1 428.5,270.3 428.7,269.4 428.9,268.6 429.1,269.3 429.3,268.9 429.5,269.7 429.7,268.7 429.9,268.4 430.1,270.0 430.4,269.8 430.6,269.6 430.8,269.0 431.0,269.6 431.2,269.4 431.4,269.4 431.6,268.8 431.8,268.7 432.0,269.5 432.2,268.4 432.4,268.6 432.6,268.7 432.8,270.1 433.0,269.5 433.3,268.6 433.5,268.5 433.7,269.3 433.9,269.8 434.1,268.9 434.3,269.0 434.5,269.0 434.7,268.6 434.9,269.3 435.1,269.3 435.3,269.7 435.5,268.9 435.7,269.3 435.9,268.4 436.2,268.3 436.4,268.8 436.6,268.9 436.8,268.9 437.0,268.6 437.2,268.7 437.4,268.2 437.6,268.0 437.8,269.8 438.0,269.3 438.2,268.3 438.4,269.1 438.6,270.1 438.8,269.9 439.1,268.5 439.3,269.2 439.5,269.0 439.7,269.1 439.9,268.5 440.1,267.8 440.3,269.2 440.5,268.5 440.7,268.2 440.9,268.4 441.1,268.4 441.3,268.1 441.5,268.9 441.7,268.7 442.0,269.3 442.2,269.5 442.4,269.6 442.6,269.8 442.8,269.3 443.0,269.4 443.2,269.4 443.4,267.5 443.6,267.9 443.8,268.0 444.0,268.2 444.2,267.4 444.4,267.9 444.6,268.6 444.8,268.0 445.1,268.0 445.3,267.8 445.5,267.4 445.7,266.1 445.9,266.3 446.1,267.2 446.3,266.3 446.5,266.7 446.7,266.4 446.9,265.7 447.1,266.4 447.3,264.8 447.5,265.3 447.7,265.5 448.0,263.6 448.2,264.3 448.4,264.2 448.6,264.0 448.8,263.3 449.0,263.5 449.2,263.9 449.4,262.6 449.4,262.5 449.6,263.2 449.8,263.0 449.9,263.1 450.0,263.3 450.2,263.3 450.4,262.2 450.4,262.0 450.6,262.9 450.9,261.9 451.1,263.2 451.3,263.4 451.5,263.0 451.7,263.4 451.9,262.3 452.1,262.5 452.3,264.5 452.5,264.6 452.7,263.4 452.9,264.9 453.1,264.9 453.3,264.4 453.5,265.1 453.8,265.6 454.0,265.9 454.2,265.5 454.4,265.4 454.6,265.4 454.8,265.7 455.0,266.2 455.2,266.6 455.4,266.6 455.6,266.8 455.6,267.0 455.8,267.2 456.0,267.1 456.2,267.7 456.4,268.6 456.7,268.7 456.9,267.1 457.1,267.5 457.3,268.0 457.5,267.5 457.7,269.1 457.9,268.3 458.1,269.6 458.3,268.5 458.5,268.7 458.7,267.7 458.9,268.2 459.1,268.4 459.3,269.5 459.5,269.7 459.8,269.3 460.0,269.0 460.2,269.4 460.4,269.0 460.6,269.9 460.8,268.9 461.0,269.8 461.2,268.0 461.4,268.9 461.6,269.4 461.8,270.0 462.0,268.5 462.2,268.5 462.4,270.1 462.7,268.6 462.9,268.8 463.1,269.4 463.3,269.9 463.5,268.8 463.7,268.3 463.9,268.4 464.1,270.1 464.3,268.7 464.5,269.7 464.7,268.0 464.9,269.0 465.1,269.4 465.3,269.6 465.6,269.2 465.8,269.0 466.0,268.3 466.2,269.2 466.4,269.1 466.6,268.8 466.8,268.5 467.0,270.0 467.2,268.7 467.4,269.0 467.6,268.9 467.8,268.8 468.0,269.6 468.2,268.8 468.5,269.9 468.7,268.6 468.9,268.3 469.1,268.9 469.3,269.1 469.5,269.1 469.7,270.3 469.9,269.8 470.1,269.9 470.3,270.1 470.5,269.8 470.7,270.0 470.9,270.1 471.1,269.7 471.3,268.8 471.6,269.5 471.8,269.9 472.0,269.3 472.2,269.9 472.4,269.1 472.6,268.6 472.8,269.8 473.0,268.9 473.2,268.5 473.4,268.4 473.6,270.1 473.8,268.2 474.0,270.1 474.2,268.8 474.5,268.1 474.7,269.9 474.9,269.2 475.1,270.1 475.3,268.9 475.5,268.9 475.7,270.4 475.9,269.2 476.1,270.1 476.3,270.2 476.5,269.3 476.7,268.4 476.9,270.1 477.1,268.7 477.4,268.8 477.6,268.6 477.8,269.9 478.0,269.1 478.2,269.5 478.4,270.0 478.6,268.9 478.8,269.3 479.0,269.7 479.2,270.1 479.4,269.1 479.6,269.4 479.8,268.9 480.0,269.3 480.3,269.1 480.5,269.2 480.7,269.8 480.9,269.7 481.1,269.6 481.3,269.9 481.5,268.6 481.7,269.6 481.9,268.9 482.1,269.6 482.3,270.1 482.5,268.9 482.7,270.3 482.9,269.7 483.2,269.4 483.4,270.0 483.6,269.2 483.8,268.6 484.0,269.3 484.2,270.1 484.4,270.1 484.6,269.5 484.8,270.1 485.0,270.1 485.2,269.5 485.4,270.1 485.6,269.2 485.8,268.7 486.0,269.3 486.3,269.8 486.5,269.7 486.7,269.2 486.9,269.6 487.1,270.3 487.3,269.7 487.5,270.2 487.7,268.8 487.9,269.7 488.1,269.5 488.3,269.4 488.5,270.6 488.7,269.5 488.9,269.5 489.2,270.3 489.4,269.3 489.6,269.6 489.8,269.7 490.0,270.4 490.2,270.0 490.4,269.0 490.6,268.3 490.8,269.3 491.0,270.1 491.2,268.8 491.4,270.0 491.6,270.1 491.8,269.4 492.1,269.6 492.3,270.1 492.5,269.4 492.7,268.7 492.9,269.3 493.1,269.4 493.3,269.8 493.5,269.8 493.7,269.6 493.9,270.4 494.1,268.9 494.3,269.0 494.5,269.2 494.7,268.9 495.0,269.3 495.2,268.9 495.4,270.1 495.6,269.9 495.8,269.7 496.0,269.9 496.2,268.9 496.4,269.5 496.6,269.3 496.8,268.3 497.0,268.6 497.2,269.5 497.4,268.9 497.6,270.0 497.8,269.3 498.1,269.4 498.3,268.8 498.5,270.1 498.7,269.3 498.9,268.9 499.1,268.5 499.3,268.4 499.5,269.9 499.7,269.3 499.9,269.9 500.1,269.1 500.3,269.9 500.5,269.5 500.7,269.2 501.0,269.9 501.2,270.3 501.4,270.7 501.6,270.0 501.8,268.7 502.0,269.2 502.2,269.8 502.4,268.5 502.6,269.3 502.8,268.6 503.0,269.4 503.2,269.3 503.4,268.6 503.6,269.3 503.9,268.2 504.1,269.6 504.3,269.2 504.5,269.4 504.7,269.0 504.9,268.2 505.1,270.1 505.3,269.3 505.5,269.2 505.7,268.4 505.9,269.6 506.1,269.8 506.3,269.6 506.5,269.2 506.8,269.2 507.0,269.7 507.2,269.9 507.4,269.3 507.6,269.4 507.8,269.7 508.0,268.7 508.2,268.0 508.4,269.8 508.6,269.0 508.8,269.0 509.0,269.7 509.2,269.7 509.4,268.1 509.7,268.9 509.9,269.2 510.1,269.7 510.3,269.4 510.5,268.5 510.7,267.7 510.9,269.4 511.1,269.6 511.3,268.6 511.5,267.9 511.7,268.7 511.9,268.5 512.1,267.6 512.3,267.3 512.5,268.8 512.8,267.3 513.0,267.0 513.2,266.7 513.4,266.4 513.6,267.4 513.8,266.7 514.0,266.8 514.2,266.0 514.4,266.8 514.6,265.9 514.8,266.8 515.0,266.4 515.2,265.6 515.4,266.3 515.7,265.0 515.9,264.8 516.1,264.5 516.3,263.4 516.5,263.7 516.7,263.3 516.9,263.3 517.1,262.7 517.3,262.8 517.5,263.8 517.7,263.6 517.7,263.9 517.9,262.8 518.1,262.7 518.3,262.2 518.6,263.5 518.8,262.8 518.8,263.5 519.0,263.2 519.2,262.0 519.4,263.5 519.6,263.0 519.8,263.2 519.8,263.0 520.0,262.8 520.2,263.3 520.4,262.4 520.6,263.8 520.8,263.1 521.0,263.6 521.2,264.0 521.3,262.9 521.5,263.2 521.7,262.7 521.9,263.0 522.1,262.7 522.3,263.5 522.5,263.5 522.7,263.5 522.9,262.6 523.1,262.2 523.3,261.6 523.5,262.9 523.7,262.3 523.9,262.4 523.9,262.8 524.1,263.4 524.4,263.9 524.5,264.2 524.6,262.8 524.8,263.1 525.0,264.4 525.2,263.6 525.4,264.1 525.6,264.1 525.8,264.9 526.0,265.4 526.2,264.6 526.4,264.7 526.6,265.9 526.8,266.4 527.0,265.6 527.2,266.1 527.5,265.8 527.7,267.3 527.9,266.3 528.1,266.6 528.3,266.4 528.5,267.0 528.7,267.5 528.9,266.9 529.1,267.8 529.3,267.7 529.5,267.3 529.7,267.7 529.9,268.7 530.1,269.0 530.4,267.9 530.6,267.4 530.8,267.3 531.0,268.4 531.2,268.1 531.4,268.6 531.6,269.3 531.8,268.7 532.0,268.4 532.2,269.5 532.4,269.2 532.6,268.3 532.8,269.8 533.0,269.9 533.3,268.9 533.5,268.2 533.7,269.5 533.9,269.4 534.1,269.6 534.3,269.9 534.5,269.0 534.7,270.0 534.9,270.3 535.1,268.4 535.3,269.3 535.5,269.8 535.7,270.1 535.9,269.6 536.2,269.5 536.4,269.9 536.6,269.1 536.8,268.8 537.0,269.0 537.2,270.3 537.4,268.6 537.6,268.1 537.8,268.3 538.0,268.8 538.2,268.5 538.4,268.1 538.6,268.5 538.8,268.9 539.0,269.3 539.3,269.7 539.5,269.5 539.7,269.5 539.9,268.6 540.1,269.8 540.3,268.5 540.5,269.3 540.7,269.3 540.9,269.4 541.1,269.8 541.3,269.1 541.5,268.6 541.7,268.4 541.9,269.0 542.2,268.7 542.4,268.6 542.6,268.7 542.8,268.8 543.0,269.1 543.2,267.7 543.4,267.9 543.6,268.9 543.8,267.0 544.0,268.2 544.2,267.9 544.4,266.6 544.6,266.8 544.8,266.3 545.1,267.5 545.2,267.0 545.3,266.7 545.5,265.4 545.7,266.4 545.7,265.6 545.9,265.9 546.1,266.0 546.3,267.0 546.5,266.6 546.7,266.7 546.9,266.5 547.1,267.3 547.3,267.3 547.5,268.6 547.7,267.6 548.0,268.2 548.2,269.3 548.4,268.7 548.6,269.2 548.8,269.3 549.0,268.9 549.2,268.1 549.4,269.0 549.6,269.6 549.8,268.8 550.0,268.5 550.2,268.5 550.4,269.5 550.6,269.2 550.9,269.9 551.1,269.1 551.3,269.8 551.5,269.6 551.7,270.3 551.9,268.9 552.1,269.3 552.3,269.7 552.5,269.1 552.7,268.7 552.9,269.2 553.1,269.5 553.3,270.4 553.5,269.2 553.7,269.3 554.0,268.6 554.2,269.5 554.4,268.9 554.6,269.3 554.8,270.3 555.0,269.7 555.2,269.0 555.4,270.3 555.6,268.7 555.8,269.8 556.0,270.0 556.2,269.2 556.4,268.7 556.6,268.5 556.9,270.2 557.1,270.0 557.3,270.5 557.5,268.7 557.7,269.1 557.9,269.9 558.1,269.9 558.3,269.2 558.5,268.4 558.7,270.5 558.9,269.2 559.1,269.5 559.3,270.0 559.5,270.4 559.8,270.4 560.0,269.0 560.2,269.5 560.4,268.5 560.6,269.8 560.8,268.8 561.0,269.1 561.2,268.4 561.4,269.0 561.6,268.9 561.8,268.9 562.0,269.3 562.2,269.1 562.4,269.1 562.7,268.8 562.9,269.1 563.1,269.8 563.3,269.2 563.5,268.8 563.7,269.9 563.9,268.5 564.1,268.9 564.3,268.5 564.5,269.9 564.7,269.9 564.9,270.3 565.1,269.6 565.3,270.0 565.5,268.7 565.8,268.1 566.0,269.2 566.2,270.0 566.4,270.5 566.6,270.4 566.8,270.1 567.0,269.6 567.2,269.6 567.4,269.1 567.6,270.4 567.8,270.3 568.0,270.1 568.2,268.8 568.4,269.6 568.7,269.9 568.9,270.0 569.1,269.7 569.3,269.9 569.5,270.4 569.7,269.6 569.9,268.9 570.1,270.0 570.3,269.3 570.5,270.3 570.7,268.2 570.9,269.3 571.1,269.0 571.3,269.3 571.6,270.4 571.8,269.9 572.0,270.0 572.2,270.3 572.4,268.5 572.6,269.4 572.8,269.9 573.0,269.8 573.2,268.7 573.4,269.0 573.6,269.3 573.8,268.5 574.0,269.0 574.2,268.9 574.5,268.3 574.7,267.9 574.9,268.8 575.1,269.1 575.3,269.8 575.5,269.6 575.7,268.1 575.9,269.5 576.1,269.3 576.3,269.8 576.5,269.0 576.7,269.2 576.9,268.9 577.1,267.8 577.4,269.0 577.6,267.9 577.8,268.3 578.0,268.5 578.2,268.1 578.4,267.5 578.6,268.2 578.8,267.2 579.0,267.2 579.2,268.0 579.4,266.9 579.6,268.5 579.8,268.6 580.0,267.6 580.2,268.0 580.5,267.9 580.7,267.8 580.9,266.9 581.1,266.6 581.3,266.1 581.5,267.4 581.7,267.4 581.9,267.8 582.1,266.4 582.3,265.6 582.5,265.3 582.7,265.1 582.9,265.6 583.1,265.7 583.4,265.6 583.6,265.8 583.8,265.8 584.0,266.7 584.0,265.4 584.2,265.1 584.4,265.4 584.6,265.4 584.8,264.7 585.0,265.9 585.0,265.5 585.2,264.8 585.4,264.7 585.6,264.8 585.8,265.2 586.0,265.3 586.3,264.3 586.5,265.5 586.7,265.1 586.9,265.0 587.1,266.6 587.1,266.0 587.3,266.8 587.5,266.3 587.7,266.7 587.9,267.2 588.1,266.1 588.3,265.8 588.5,266.2 588.7,267.4 588.9,267.0 589.2,267.0 589.4,267.2 589.6,266.3 589.8,267.7 590.0,267.4 590.2,268.1 590.4,268.1 590.6,268.3 590.8,266.8 591.0,267.5 591.2,267.4 591.4,267.9 591.6,267.3 591.8,267.4 592.0,267.8 592.3,267.9 592.5,267.4 592.7,269.0 592.9,268.7 593.1,268.3 593.3,269.1 593.5,269.3 593.7,269.2 593.9,268.7 594.1,269.3 594.3,268.5 594.5,269.3 594.7,268.7 594.9,270.1 595.2,268.9 595.4,268.1 595.6,269.6 595.8,268.1 596.0,269.7 596.2,270.0 596.4,268.9 596.6,268.3 596.8,268.7 597.0,269.0 597.2,269.3 597.4,268.7 597.6,269.7 597.8,268.5 598.1,269.0 598.3,269.8 598.5,269.0 598.7,269.5 598.9,268.6 599.1,269.1 599.3,269.7 599.5,270.0 599.7,270.1 599.9,268.6 600.1,268.2 600.3,267.6 600.5,268.7 600.7,269.3 601.0,268.4 601.2,269.5 601.4,268.3 601.6,269.5 601.8,268.6 602.0,267.8 602.2,268.8 602.4,269.1 602.6,267.8 602.8,268.4 603.0,267.9 603.2,269.6 603.4,268.4 603.6,267.9 603.9,268.5 604.1,269.0 604.3,268.6 604.5,267.9 604.7,267.7 604.9,268.2 605.1,268.1 605.3,267.8 605.5,267.9 605.7,268.1 605.9,266.1 606.1,266.6 606.3,266.5 606.5,266.7 606.7,265.0 607.0,265.2 607.2,265.4 607.4,264.5 607.6,264.1 607.8,264.4 608.0,263.1 608.2,264.7 608.4,263.1 608.6,263.2 608.8,263.2 609.0,263.3 609.2,261.4 609.3,262.1 609.4,261.2 609.6,261.9 609.9,261.7 609.9,260.7 610.1,259.4 610.3,260.1 610.4,260.0 610.5,260.3 610.7,260.5 610.9,261.7 611.1,260.8 611.3,262.0 611.5,261.5 611.7,263.0 611.9,262.2 612.1,262.9 612.3,263.4 612.5,263.2 612.8,264.8 613.0,264.6 613.2,264.4 613.4,263.8 613.6,266.0 613.8,266.2 614.0,266.0 614.2,266.9 614.4,265.7 614.6,266.5 614.8,266.3 615.0,267.6 615.2,267.9 615.4,267.2 615.7,267.3 615.9,268.0 616.1,267.9 616.3,268.4 616.5,267.2 616.7,268.3 616.9,268.9 617.1,268.0 617.3,268.2 617.5,268.6 617.7,268.6 617.9,269.5 618.1,268.1 618.3,269.0 618.6,269.0 618.8,269.2 619.0,268.3 619.2,269.3 619.4,269.4 619.6,268.5 619.8,268.9 620.0,269.3 620.2,268.5 620.4,269.6 620.6,269.2 620.8,268.3 621.0,269.9 621.2,268.3 621.4,270.0 621.7,269.3 621.9,268.5 622.1,268.8 622.3,268.9 622.5,269.1 622.7,270.2 622.9,268.8 623.1,269.8 623.3,269.5 623.5,270.1 623.7,268.7 623.9,268.8 624.1,269.3 624.3,269.9 624.6,268.8 624.8,270.1 625.0,268.9 625.2,270.1 625.4,269.3 625.6,269.9 625.8,269.6 626.0,269.6 626.2,270.0 626.4,268.8 626.6,268.2 626.8,269.1 627.0,268.7 627.2,268.6 627.5,268.7 627.7,268.3 627.9,269.9 628.1,269.5 628.3,269.5 628.5,270.3 628.7,268.5 628.9,269.6 629.1,269.6 629.3,269.3 629.5,270.0 629.7,269.1 629.9,268.1 630.1,268.0 630.4,269.5 630.6,268.8 630.8,268.3 631.0,269.4 631.2,270.0 631.4,268.8 631.6,268.8 631.8,269.4 632.0,268.9 632.2,269.7 632.4,269.0 632.6,268.8 632.8,267.6 633.0,269.3 633.2,268.6 633.5,269.3 633.7,269.8 633.9,268.6 634.1,268.3 634.3,269.0 634.5,267.9 634.7,267.7 634.9,267.2 635.1,268.3 635.3,269.0 635.5,269.3 635.7,269.6 635.9,267.9 636.1,268.6 636.4,269.0 636.6,269.1 636.8,268.6 637.0,268.2 637.2,267.6 637.4,267.4 637.6,268.9 637.8,268.5 638.0,268.9 638.2,268.4 638.4,267.2 638.6,268.3 638.8,267.8 639.0,268.3 639.3,267.6 639.5,267.7 639.7,267.4 639.9,268.4 640.1,267.2 640.3,268.3 640.5,268.4 640.7,267.8 640.9,266.9 641.1,267.4 641.3,267.7 641.5,266.9 641.7,266.3 641.9,268.5 641.9,267.6 642.2,267.1 642.4,266.2 642.6,267.3 642.8,267.8 643.0,266.4 643.2,267.8 643.4,266.6 643.6,266.7 643.8,267.8 644.0,266.8 644.0,267.7 644.2,266.9 644.4,266.6 644.6,267.5 644.8,266.7 645.1,266.5 645.1,267.6 645.3,267.9 645.5,267.3 645.7,268.3 645.9,267.0 646.1,268.1 646.1,267.2 646.3,267.9 646.5,266.8 646.7,267.3 646.9,266.9 647.1,267.0 647.3,267.5 647.5,267.9 647.7,267.6 647.9,267.4 648.2,267.2 648.4,268.5 648.6,267.0 648.8,267.6 649.0,268.8 649.2,269.0 649.4,268.3 649.6,267.7 649.8,267.5 650.0,269.1 650.2,268.3 650.4,267.7 650.6,269.3 650.8,269.1 651.1,269.0 651.3,267.7 651.5,268.5 651.7,269.1 651.9,268.0 652.1,269.3 652.3,268.6 652.5,268.8 652.7,269.5 652.9,267.8 653.1,268.7 653.3,269.3 653.5,268.7 653.7,268.0 654.0,267.8 654.2,268.2 654.4,268.9 654.6,267.9 654.8,268.8 655.0,268.1 655.2,269.7 655.4,268.3 655.6,268.0 655.8,269.5 656.0,268.8 656.2,269.6 656.4,269.0 656.6,270.2 656.9,269.3 657.1,269.3 657.3,269.0 657.5,269.6 657.7,268.5 657.9,269.2 658.1,269.3 658.3,269.6 658.5,268.6 658.7,270.0 658.9,270.0 659.1,270.0 659.3,269.6 659.5,270.3 659.7,270.4 660.0,269.5 660.2,270.3 660.4,269.6 660.6,269.3 660.8,269.7 661.0,269.0 661.2,269.6 661.4,269.8 661.6,270.7 661.8,268.3 662.0,269.1 662.2,270.4 662.4,269.7 662.6,269.2 662.9,270.4 663.1,269.8 663.3,269.5 663.5,268.6 663.7,268.3 663.9,270.0 664.1,270.2 664.3,270.6 664.5,269.7 664.7,269.4 664.9,268.8 665.1,269.7 665.3,270.0 665.5,270.3 665.8,269.5 666.0,268.9 666.2,269.4 666.4,270.5 666.6,270.0 666.8,270.0 667.0,270.3 667.2,270.4 667.4,269.8 667.6,270.6 667.8,270.0 668.0,270.1 668.2,269.2 668.4,269.7 668.7,269.1 668.9,268.5 669.1,269.6 669.3,270.1 669.5,269.4 669.7,269.8 669.9,269.7 670.1,270.0 670.3,270.4 670.5,270.2 670.7,270.4 670.9,269.3 671.1,269.1 671.3,269.7 671.6,269.8 671.8,269.9 672.0,269.7 672.2,268.9 672.4,270.3 672.6,269.8 672.8,270.2 673.0,268.7" fill="none" stroke="#0000ff" stroke-width="1.60" stroke-linejoin="round"/>
<polyline points="51.9,311.0 52.1,310.6 52.3,310.8 52.5,310.4 52.7,308.6 52.9,310.2 53.1,309.9 53.3,309.4 53.6,310.3 53.8,309.6 54.0,309.2 54.2,309.7 54.4,310.3 54.6,309.7 54.8,310.6 55.0,310.9 55.2,310.0 55.4,309.2 55.6,309.3 55.8,309.0 56.0,309.8 56.2,309.4 56.5,309.2 56.7,309.2 56.9,308.8 57.1,310.0 57.3,310.1 57.5,309.0 57.7,308.6 57.9,309.1 58.1,309.4 58.3,309.9 58.5,309.3 58.7,307.6 58.9,308.4 59.1,307.8 59.4,308.3 59.6,308.1 59.8,307.8 60.0,307.9 60.2,307.1 60.4,308.2 60.6,307.7 60.8,306.0 61.0,306.5 61.2,306.1 61.4,307.3 61.6,306.0 61.8,307.3 62.0,306.9 62.3,305.0 62.5,306.3 62.7,305.0 62.9,305.3 63.1,305.6 63.3,304.2 63.5,303.1 63.7,303.5 63.9,303.0 64.1,301.5 64.3,300.8 64.5,299.9 64.7,298.2 64.9,295.8 65.2,293.7 65.4,288.7 65.6,282.0 65.8,273.6 66.0,262.5 66.2,249.1 66.2,248.5 66.4,232.0 66.4,230.7 66.6,212.7 66.6,212.4 66.8,190.1 66.9,180.1 67.0,190.2 67.2,213.1 67.4,232.1 67.4,230.6 67.6,248.4 67.8,261.2 68.0,272.7 68.3,282.4 68.5,289.0 68.7,293.4 68.9,297.0 69.1,298.8 69.3,300.1 69.5,301.1 69.7,302.2 69.9,303.7 70.1,302.6 70.3,303.1 70.5,305.0 70.7,304.4 70.9,305.5 71.2,306.3 71.4,306.0 71.6,306.7 71.8,305.5 72.0,307.2 72.2,307.4 72.4,307.6 72.6,307.1 72.8,307.3 73.0,308.3 73.2,308.5 73.4,307.1 73.6,309.5 73.8,309.0 74.1,308.8 74.3,309.3 74.5,309.4 74.7,309.7 74.9,309.7 75.1,310.3 75.3,310.1 75.5,309.5 75.7,309.7 75.9,310.7 76.1,309.9 76.3,309.6 76.5,310.9 76.7,309.9 77.0,311.1 77.2,310.9 77.4,311.2 77.6,310.3 77.8,311.3 78.0,310.3 78.2,309.6 78.4,311.0 78.6,311.4 78.8,311.4 79.0,310.4 79.2,310.9 79.4,311.1 79.6,310.5 79.8,311.5 80.1,310.8 80.3,311.6 80.5,311.3 80.7,311.0 80.9,310.9 81.1,310.8 81.3,311.4 81.5,311.6 81.7,311.2 81.9,310.5 82.1,311.5 82.3,311.2 82.5,312.3 82.7,310.4 83.0,311.7 83.2,310.9 83.4,311.9 83.6,310.9 83.8,310.7 84.0,311.4 84.2,311.0 84.4,312.1 84.6,311.7 84.8,312.1 85.0,312.2 85.2,312.0 85.4,311.8 85.6,310.6 85.9,310.8 86.1,311.0 86.3,311.6 86.5,312.5 86.7,310.5 86.9,311.2 87.1,310.6 87.3,311.9 87.5,312.4 87.7,312.2 87.9,311.1 88.1,312.3 88.3,311.3 88.5,312.0 88.8,312.4 89.0,311.8 89.2,311.2 89.4,310.9 89.6,312.1 89.8,311.0 90.0,312.5 90.2,312.8 90.4,311.8 90.6,311.2 90.8,312.3 91.0,311.1 91.2,311.6 91.4,311.6 91.7,312.3 91.9,312.2 92.1,311.7 92.3,311.9 92.5,312.5 92.7,311.7 92.9,311.4 93.1,311.0 93.3,311.3 93.5,311.7 93.7,311.1 93.9,312.3 94.1,310.8 94.3,312.5 94.5,312.5 94.8,312.1 95.0,312.0 95.2,312.6 95.4,312.1 95.6,312.5 95.8,312.2 96.0,312.4 96.2,311.9 96.4,312.7 96.6,311.9 96.8,312.6 97.0,311.6 97.2,313.0 97.4,311.6 97.7,311.1 97.9,312.0 98.1,312.4 98.3,311.8 98.5,311.2 98.7,311.4 98.9,312.6 99.1,312.6 99.3,311.1 99.5,311.3 99.7,312.1 99.9,310.8 100.1,311.2 100.3,311.9 100.6,311.9 100.8,312.0 101.0,312.2 101.2,312.0 101.4,311.8 101.6,311.2 101.8,310.8 102.0,310.7 102.2,312.4 102.4,311.1 102.6,311.4 102.8,311.8 103.0,311.2 103.2,311.9 103.5,312.1 103.7,312.0 103.9,311.8 104.1,311.9 104.3,311.7 104.5,310.6 104.7,311.1 104.9,312.1 105.1,312.9 105.3,312.1 105.5,311.5 105.7,310.5 105.9,310.2 106.1,312.0 106.3,310.9 106.6,310.9 106.8,311.0 107.0,310.6 107.2,311.8 107.4,310.4 107.6,309.7 107.8,309.7 108.0,311.1 108.2,310.7 108.4,310.6 108.6,310.1 108.8,309.3 109.0,310.4 109.2,310.4 109.5,309.1 109.7,309.4 109.9,309.2 110.1,309.7 110.3,307.4 110.5,306.9 110.7,307.4 110.9,306.9 111.1,305.3 111.3,304.8 111.5,303.5 111.7,301.9 111.9,300.5 112.1,297.7 112.4,296.3 112.6,293.3 112.8,291.1 113.0,287.0 113.2,283.3 113.4,281.6 113.6,275.3 113.8,271.2 114.0,267.4 114.2,260.0 114.4,255.5 114.6,249.1 114.8,242.0 115.0,235.2 115.3,227.6 115.5,220.7 115.7,212.7 115.8,208.1 115.9,211.3 116.0,212.6 116.1,215.4 116.1,216.7 116.3,220.1 116.3,220.8 116.5,225.1 116.6,229.0 116.7,230.4 116.9,235.5 117.1,240.4 117.3,245.8 117.5,248.8 117.7,252.5 117.9,258.2 118.2,261.3 118.4,265.6 118.6,269.9 118.8,272.2 119.0,274.9 119.2,279.2 119.4,281.5 119.6,285.1 119.8,287.3 120.0,289.0 120.2,290.0 120.4,293.4 120.6,294.5 120.8,296.2 121.0,297.7 121.3,298.1 121.5,300.8 121.7,301.0 121.9,303.0 122.1,303.9 122.3,304.4 122.5,304.3 122.7,305.8 122.9,306.0 123.1,307.5 123.3,307.2 123.5,308.5 123.7,307.4 123.9,309.1 124.2,308.9 124.4,309.5 124.6,309.7 124.8,310.7 125.0,310.1 125.2,310.6 125.4,310.6 125.6,310.3 125.8,311.4 126.0,311.3 126.2,311.6 126.4,311.5 126.6,310.1 126.8,310.4 127.1,311.2 127.3,311.1 127.5,310.9 127.7,311.6 127.9,310.4 128.1,311.9 128.3,311.0 128.5,310.5 128.7,311.6 128.9,311.7 129.1,311.2 129.3,311.9 129.5,312.1 129.7,311.5 130.0,312.4 130.2,311.6 130.4,312.2 130.6,312.8 130.8,312.0 131.0,312.7 131.2,312.4 131.4,311.8 131.6,312.3 131.8,311.2 132.0,312.1 132.2,312.3 132.4,313.0 132.6,313.3 132.9,313.2 133.1,312.8 133.3,312.2 133.5,313.1 133.7,312.8 133.9,313.3 134.1,312.9 134.3,312.1 134.5,312.9 134.7,312.1 134.9,313.5 135.1,312.0 135.3,312.5 135.5,312.2 135.7,312.9 136.0,312.3 136.2,313.6 136.4,313.4 136.6,313.5 136.8,313.1 137.0,312.9 137.2,313.2 137.4,312.4 137.6,313.2 137.8,313.3 138.0,313.3 138.2,312.8 138.4,312.1 138.6,313.4 138.9,314.0 139.1,313.2 139.3,313.6 139.5,312.9 139.7,312.8 139.9,313.7 140.1,313.4 140.3,314.2 140.5,313.7 140.7,312.8 140.9,313.1 141.1,313.8 141.3,313.0 141.5,313.8 141.8,313.9 142.0,314.0 142.2,313.7 142.4,313.5 142.6,313.7 142.8,313.1 143.0,312.8 143.2,314.1 143.4,314.2 143.6,313.6 143.8,314.3 144.0,312.9 144.2,314.5 144.4,314.5 144.7,313.9 144.9,314.4 145.1,312.7 145.3,314.3 145.5,313.8 145.7,314.2 145.9,314.6 146.1,313.9 146.3,313.3 146.5,314.4 146.7,313.4 146.9,314.2 147.1,313.7 147.3,313.7 147.5,313.7 147.8,314.2 148.0,314.9 148.2,314.7 148.4,314.9 148.6,312.8 148.8,313.5 149.0,313.9 149.2,314.0 149.4,314.8 149.6,314.8 149.8,314.1 150.0,314.6 150.2,313.9 150.4,314.4 150.7,313.5 150.9,314.8 151.1,314.0 151.3,314.6 151.5,313.2 151.7,313.1 151.9,313.6 152.1,313.1 152.3,313.4 152.5,314.4 152.7,313.8 152.9,314.1 153.1,313.3 153.3,313.9 153.6,313.9 153.8,313.4 154.0,313.8 154.2,313.6 154.4,313.5 154.6,314.1 154.8,315.0 155.0,314.0 155.2,314.9 155.4,314.7 155.6,314.8 155.8,314.9 156.0,314.7 156.2,313.6 156.5,314.6 156.7,313.9 156.9,313.7 157.1,313.6 157.3,313.4 157.5,314.6 157.7,313.5 157.9,314.2 158.1,313.9 158.3,314.6 158.5,314.2 158.7,313.5 158.9,314.8 159.1,314.6 159.4,314.3 159.6,314.7 159.8,314.7 160.0,314.0 160.2,314.6 160.4,313.9 160.6,315.0 160.8,314.6 161.0,314.9 161.2,315.3 161.4,314.5 161.6,314.1 161.8,314.0 162.0,313.2 162.2,314.4 162.5,313.7 162.7,313.9 162.9,313.4 163.1,314.8 163.3,313.9 163.5,314.0 163.7,314.9 163.9,314.2 164.1,314.3 164.3,314.6 164.5,313.6 164.7,313.7 164.9,315.5 165.1,314.8 165.4,314.0 165.6,315.6 165.8,315.7 166.0,314.8 166.2,313.5 166.4,314.1 166.6,314.2 166.8,313.6 167.0,314.1 167.2,314.1 167.4,314.7 167.6,314.3 167.8,315.6 168.0,313.9 168.3,313.2 168.5,315.1 168.7,314.3 168.9,313.6 169.1,315.2 169.3,313.8 169.5,315.2 169.7,313.7 169.9,315.1 170.1,315.3 170.3,313.9 170.5,314.1 170.7,314.1 170.9,314.6 171.2,314.4 171.4,315.4 171.6,314.6 171.8,314.7 172.0,314.1 172.2,313.8 172.4,313.5 172.6,314.0 172.8,313.8 173.0,315.2 173.2,314.7 173.4,314.6 173.6,315.4 173.8,314.1 174.0,315.4 174.3,315.2 174.5,313.9 174.7,313.7 174.9,313.6 175.1,314.0 175.3,313.6 175.5,315.2 175.7,314.4 175.9,314.0 176.1,315.0 176.3,314.4 176.5,314.0 176.7,314.6 176.9,314.4 177.2,314.5 177.4,315.1 177.6,313.9 177.8,314.5 178.0,314.2 178.2,314.1 178.4,314.5 178.6,314.1 178.8,314.8 179.0,315.1 179.2,313.9 179.4,314.9 179.6,315.1 179.8,313.7 180.1,314.2 180.3,314.6 180.5,314.7 180.7,313.8 180.9,315.0 181.1,314.3 181.3,315.0 181.5,314.6 181.7,315.2 181.9,314.6 182.1,314.3 182.3,313.9 182.5,315.0 182.7,314.1 183.0,313.9 183.2,314.3 183.4,314.7 183.6,314.3 183.8,314.8 184.0,314.9 184.2,314.4 184.4,314.0 184.6,315.1 184.8,314.4 185.0,314.5 185.2,314.2 185.4,313.7 185.6,314.5 185.9,314.1 186.1,313.3 186.3,314.2 186.5,314.4 186.7,314.6 186.9,314.7 187.1,314.6 187.3,313.3 187.5,313.1 187.7,314.1 187.9,314.0 188.1,314.2 188.3,313.8 188.5,313.8 188.7,313.1 189.0,313.7 189.2,313.6 189.4,313.0 189.6,312.9 189.8,313.9 190.0,312.7 190.2,312.8 190.4,313.1 190.6,312.6 190.8,313.0 191.0,311.8 191.2,312.4 191.4,312.3 191.6,311.4 191.9,311.1 192.1,310.5 192.3,309.6 192.5,309.9 192.7,307.4 192.9,306.4 193.1,305.3 193.3,305.2 193.5,302.8 193.7,301.0 193.9,299.3 194.1,296.0 194.3,293.9 194.5,291.0 194.8,286.6 195.0,283.5 195.2,280.3 195.4,275.2 195.6,269.8 195.8,264.7 196.0,260.6 196.2,254.7 196.4,248.1 196.6,242.1 196.8,234.4 197.0,229.0 197.1,229.9 197.2,232.2 197.3,233.1 197.4,236.2 197.4,235.6 197.5,238.2 197.7,240.8 197.9,245.4 198.1,248.7 198.1,250.2 198.3,254.4 198.5,256.5 198.7,260.0 198.9,265.3 199.1,267.7 199.3,271.1 199.5,274.3 199.7,277.1 199.9,281.8 200.1,284.0 200.3,285.6 200.5,289.6 200.8,290.5 201.0,293.5 201.2,295.7 201.4,296.5 201.6,298.4 201.8,299.5 202.0,301.0 202.2,301.5 202.4,302.4 202.6,303.8 202.8,305.8 203.0,306.8 203.2,306.7 203.4,306.9 203.7,308.6 203.9,309.7 204.1,309.0 204.3,309.2 204.5,310.3 204.7,310.5 204.9,311.0 205.1,311.1 205.3,311.9 205.5,312.5 205.7,312.9 205.9,311.6 206.1,311.9 206.3,313.3 206.6,313.7 206.8,313.1 207.0,312.4 207.2,313.9 207.4,313.1 207.6,312.4 207.8,312.7 208.0,312.9 208.2,313.7 208.4,313.3 208.6,313.2 208.8,313.2 209.0,313.6 209.2,314.9 209.5,313.5 209.7,313.2 209.9,314.9 210.1,315.1 210.3,314.2 210.5,314.7 210.7,313.7 210.9,314.4 211.1,313.9 211.3,313.9 211.5,315.2 211.7,314.1 211.9,314.3 212.1,314.5 212.4,314.4 212.6,315.4 212.8,314.4 213.0,314.0 213.2,315.4 213.4,314.6 213.6,313.8 213.8,314.4 214.0,314.9 214.2,314.7 214.4,314.5 214.6,314.0 214.8,314.1 215.0,314.3 215.2,315.5 215.5,314.3 215.7,314.2 215.9,314.9 216.1,314.7 216.3,316.1 216.5,315.7 216.7,315.7 216.9,314.1 217.1,314.6 217.3,315.8 217.5,315.0 217.7,314.7 217.9,315.9 218.1,316.0 218.4,315.7 218.6,315.2 218.8,314.3 219.0,314.7 219.2,315.0 219.4,315.6 219.6,315.1 219.8,314.4 220.0,315.0 220.2,315.9 220.4,314.8 220.6,314.7 220.8,315.4 221.0,315.2 221.3,315.9 221.5,315.0 221.7,315.9 221.9,316.0 222.1,314.5 222.3,316.1 222.5,315.4 222.7,316.0 222.9,316.0 223.1,314.9 223.3,316.1 223.5,315.6 223.7,315.0 223.9,315.5 224.2,315.4 224.4,314.6 224.6,316.0 224.8,316.2 225.0,314.7 225.2,315.8 225.4,316.2 225.6,316.1 225.8,315.0 226.0,314.5 226.2,315.2 226.4,316.1 226.6,316.5 226.8,314.7 227.1,316.0 227.3,316.0 227.5,315.5 227.7,314.7 227.9,315.8 228.1,316.9 228.3,315.8 228.5,316.5 228.7,315.8 228.9,315.2 229.1,315.3 229.3,315.3 229.5,315.1 229.7,316.3 229.9,315.5 230.2,316.7 230.4,315.0 230.6,315.1 230.8,315.1 231.0,315.6 231.2,316.1 231.4,314.8 231.6,316.0 231.8,316.4 232.0,315.8 232.2,315.1 232.4,316.0 232.6,316.6 232.8,315.9 233.1,315.7 233.3,316.1 233.5,315.0 233.7,316.1 233.9,315.6 234.1,316.4 234.3,315.5 234.5,315.5 234.7,316.4 234.9,315.5 235.1,316.3 235.3,315.2 235.5,315.8 235.7,314.9 236.0,315.7 236.2,316.4 236.4,315.3 236.6,315.4 236.8,316.4 237.0,315.9 237.2,315.9 237.4,316.3 237.6,316.1 237.8,317.0 238.0,317.0 238.2,315.5 238.4,314.8 238.6,316.0 238.9,315.1 239.1,316.1 239.3,315.4 239.5,315.9 239.7,315.9 239.9,315.5 240.1,316.2 240.3,315.4 240.5,315.7 240.7,316.3 240.9,315.0 241.1,316.4 241.3,316.5 241.5,315.5 241.7,316.2 242.0,316.0 242.2,316.3 242.4,315.5 242.6,317.0 242.8,317.2 243.0,316.0 243.2,316.0 243.4,315.7 243.6,315.9 243.8,316.3 244.0,316.8 244.2,315.8 244.4,316.9 244.6,315.6 244.9,316.7 245.1,315.3 245.3,315.8 245.5,316.7 245.7,315.7 245.9,315.6 246.1,316.6 246.3,316.5 246.5,316.3 246.7,316.5 246.9,317.1 247.1,315.2 247.3,316.4 247.5,316.3 247.8,316.0 248.0,315.7 248.2,316.1 248.4,316.0 248.6,316.7 248.8,316.4 249.0,316.1 249.2,315.8 249.4,316.5 249.6,315.2 249.8,315.5 250.0,315.8 250.2,316.2 250.4,315.4 250.7,315.8 250.9,315.2 251.1,314.9 251.3,316.9 251.5,317.2 251.7,315.9 251.9,316.4 252.1,315.6 252.3,316.6 252.5,316.7 252.7,316.2 252.9,315.5 253.1,315.7 253.3,316.9 253.6,316.6 253.8,315.4 254.0,316.8 254.2,316.4 254.4,316.8 254.6,315.3 254.8,316.5 255.0,316.8 255.2,316.0 255.4,315.3 255.6,315.8 255.8,317.1 256.0,316.6 256.2,315.9 256.4,315.7 256.7,316.8 256.9,315.8 257.1,315.2 257.3,316.5 257.5,316.0 257.7,317.3 257.9,315.5 258.1,316.5 258.3,317.1 258.5,316.3 258.7,316.8 258.9,316.9 259.1,316.9 259.3,315.9 259.6,315.3 259.8,316.4 260.0,317.4 260.2,317.4 260.4,316.1 260.6,316.7 260.8,316.3 261.0,316.4 261.2,315.0 261.4,316.7 261.6,317.1 261.8,317.0 262.0,315.9 262.2,316.0 262.5,316.8 262.7,316.2 262.9,316.8 263.1,316.8 263.3,316.4 263.5,316.2 263.7,316.2 263.9,317.3 264.1,317.3 264.3,317.0 264.5,316.9 264.7,316.3 264.9,316.5 265.1,316.6 265.4,317.5 265.6,315.5 265.8,315.3 266.0,316.7 266.2,317.2 266.4,316.9 266.6,315.3 266.8,315.8 267.0,317.0 267.2,315.4 267.4,315.2 267.6,317.2 267.8,316.3 268.0,315.7 268.2,316.1 268.5,316.9 268.7,317.3 268.9,315.8 269.1,316.9 269.3,316.1 269.5,316.0 269.7,316.3 269.9,316.3 270.1,317.0 270.3,317.4 270.5,317.7 270.7,316.7 270.9,316.1 271.1,315.9 271.4,316.0 271.6,316.6 271.8,316.8 272.0,315.7 272.2,315.9 272.4,316.8 272.6,316.0 272.8,316.1 273.0,316.3 273.2,316.0 273.4,316.8 273.6,316.5 273.8,315.6 274.0,317.1 274.3,317.1 274.5,315.7 274.7,317.2 274.9,315.7 275.1,316.5 275.3,316.7 275.5,317.5 275.7,317.3 275.9,317.6 276.1,317.2 276.3,315.7 276.5,315.8 276.7,315.8 276.9,316.7 277.2,315.6 277.4,315.5 277.6,315.5 277.8,316.7 278.0,317.1 278.2,316.2 278.4,316.3 278.6,317.4 278.8,316.3 279.0,315.9 279.2,317.1 279.4,317.0 279.6,316.9 279.8,315.4 280.1,315.8 280.3,316.8 280.5,316.1 280.7,315.6 280.9,315.7 281.1,316.8 281.3,316.8 281.5,317.1 281.7,317.4 281.9,317.1 282.1,317.4 282.3,317.0 282.5,316.7 282.7,316.1 282.9,317.5 283.2,316.1 283.4,315.9 283.6,317.2 283.8,316.5 284.0,315.4 284.2,316.7 284.4,317.1 284.6,317.0 284.8,317.2 285.0,315.9 285.2,316.8 285.4,316.0 285.6,315.9 285.8,316.8 286.1,316.9 286.3,316.4 286.5,316.1 286.7,316.1 286.9,317.0 287.1,316.3 287.3,316.5 287.5,317.5 287.7,316.3 287.9,317.1 288.1,316.0 288.3,316.3 288.5,316.8 288.7,316.8 289.0,316.5 289.2,316.2 289.4,317.0 289.6,316.0 289.8,316.5 290.0,316.2 290.2,315.2 290.4,317.1 290.6,317.1 290.8,316.5 291.0,315.5 291.2,316.3 291.4,315.9 291.6,315.3 291.9,315.6 292.1,315.9 292.3,315.7 292.5,315.7 292.7,315.7 292.9,315.3 293.1,314.2 293.3,314.9 293.5,313.6 293.7,311.8 293.9,310.9 294.1,310.2 294.3,309.4 294.5,307.9 294.8,304.7 295.0,302.2 295.2,299.5 295.4,297.7 295.6,293.9 295.8,291.8 295.9,288.7 296.0,287.7 296.2,284.0 296.2,284.1 296.4,288.1 296.6,291.6 296.8,293.3 297.0,297.9 297.2,300.7 297.4,303.0 297.6,304.9 297.9,307.5 298.1,309.2 298.3,309.6 298.5,311.5 298.7,312.6 298.9,313.3 299.1,314.3 299.3,314.4 299.5,315.3 299.7,314.9 299.9,315.0 300.1,314.8 300.3,314.8 300.5,316.2 300.8,316.0 301.0,315.9 301.2,316.0 301.4,316.1 301.6,316.4 301.8,316.3 302.0,317.0 302.2,316.2 302.4,315.9 302.6,315.5 302.8,315.4 303.0,316.7 303.2,316.0 303.4,316.9 303.7,316.9 303.9,316.0 304.1,315.6 304.3,317.1 304.5,316.5 304.7,316.6 304.9,317.3 305.1,316.0 305.3,316.4 305.5,315.9 305.7,316.4 305.9,315.0 306.1,317.3 306.3,316.4 306.6,315.6 306.8,315.3 307.0,315.7 307.2,316.6 307.4,316.7 307.6,315.9 307.8,315.7 308.0,317.0 308.2,316.2 308.4,315.3 308.6,315.6 308.8,316.9 309.0,315.8 309.2,315.8 309.4,316.3 309.7,316.3 309.9,315.2 310.1,315.8 310.3,315.6 310.5,315.8 310.7,316.3 310.9,315.4 311.1,314.8 311.3,315.7 311.5,315.6 311.7,316.6 311.9,315.7 312.1,314.9 312.3,316.1 312.6,315.1 312.8,314.8 313.0,316.1 313.2,315.7 313.4,314.8 313.6,315.7 313.8,315.8 314.0,314.1 314.2,315.0 314.4,315.3 314.6,315.2 314.8,313.5 315.0,312.6 315.2,313.0 315.5,313.1 315.7,311.8 315.9,312.4 316.1,311.1 316.3,312.0 316.5,310.8 316.7,309.5 316.9,309.4 317.1,310.2 317.3,308.6 317.5,308.6 317.7,308.4 317.9,307.8 318.1,307.1 318.4,307.4 318.6,308.4 318.8,307.8 318.9,307.2 319.0,308.0 319.0,307.1 319.2,307.1 319.2,307.9 319.4,308.3 319.6,307.8 319.8,308.1 320.0,307.2 320.2,307.2 320.4,307.7 320.6,308.0 320.8,307.8 321.0,307.7 321.3,308.6 321.5,307.8 321.7,308.8 321.9,308.0 322.1,308.9 322.3,308.7 322.5,307.7 322.7,309.2 322.9,308.1 323.1,308.8 323.3,309.2 323.5,307.9 323.6,307.6 323.7,306.7 323.9,307.1 324.1,307.2 324.4,306.9 324.6,306.6 324.6,306.8 324.8,307.6 325.0,306.6 325.2,306.1 325.4,306.1 325.6,305.7 325.7,307.2 325.8,307.5 326.0,306.0 326.2,306.2 326.2,307.4 326.4,307.4 326.6,307.3 326.8,308.3 327.0,308.5 327.3,308.7 327.5,309.9 327.7,310.1 327.9,310.1 328.1,309.7 328.3,311.3 328.5,311.9 328.7,311.5 328.9,311.4 329.1,312.6 329.3,313.6 329.5,313.0 329.7,313.3 329.9,314.2 330.2,314.0 330.4,314.1 330.6,314.4 330.8,314.7 331.0,315.3 331.2,315.7 331.4,314.8 331.6,316.0 331.8,316.0 332.0,316.5 332.2,316.3 332.4,316.5 332.6,315.6 332.8,316.3 333.1,316.0 333.3,315.9 333.5,316.9 333.7,316.6 333.9,316.4 334.1,315.8 334.3,316.6 334.5,316.0 334.7,316.2 334.9,315.7 335.1,316.8 335.3,315.7 335.5,316.6 335.7,315.9 335.9,316.8 336.2,317.3 336.4,316.9 336.6,317.3 336.8,316.7 337.0,316.1 337.2,316.9 337.4,316.6 337.6,317.3 337.8,315.9 338.0,316.8 338.2,316.5 338.4,316.1 338.6,317.4 338.8,317.2 339.1,317.3 339.3,317.0 339.5,315.9 339.7,316.6 339.9,316.1 340.1,316.9 340.3,317.1 340.5,316.6 340.7,317.1 340.9,316.4 341.1,317.6 341.3,317.4 341.5,316.3 341.7,317.1 342.0,317.4 342.2,317.5 342.4,317.1 342.6,316.9 342.8,316.3 343.0,316.4 343.2,316.8 343.4,317.6 343.6,316.5 343.8,315.8 344.0,317.3 344.2,316.3 344.4,315.9 344.6,316.1 344.9,317.3 345.1,317.1 345.3,317.6 345.5,316.3 345.7,317.0 345.9,316.5 346.1,317.2 346.3,317.1 346.5,316.2 346.7,315.9 346.9,317.5 347.1,316.9 347.3,317.7 347.5,316.2 347.8,316.8 348.0,317.4 348.2,316.1 348.4,317.1 348.6,318.0 348.8,316.5 349.0,316.6 349.2,316.5 349.4,316.9 349.6,316.8 349.8,317.4 350.0,317.9 350.2,315.9 350.4,317.9 350.6,317.9 350.9,317.1 351.1,316.7 351.3,317.6 351.5,315.9 351.7,316.1 351.9,317.2 352.1,316.7 352.3,316.9 352.5,316.4 352.7,316.8 352.9,317.6 353.1,317.3 353.3,317.7 353.5,317.3 353.8,316.2 354.0,316.2 354.2,317.9 354.4,316.4 354.6,317.3 354.8,317.2 355.0,317.7 355.2,317.8 355.4,317.3 355.6,317.3 355.8,317.5 356.0,317.2 356.2,317.5 356.4,316.4 356.7,317.0 356.9,317.9 357.1,316.6 357.3,316.1 357.5,317.2 357.7,317.2 357.9,317.4 358.1,317.5 358.3,318.4 358.5,316.6 358.7,316.7 358.9,316.6 359.1,316.6 359.3,317.4 359.6,317.8 359.8,316.9 360.0,316.2 360.2,316.8 360.4,317.8 360.6,317.0 360.8,316.4 361.0,316.0 361.2,315.7 361.4,315.9 361.6,317.3 361.8,316.9 362.0,316.5 362.2,317.5 362.4,316.5 362.7,317.2 362.9,317.2 363.1,317.5 363.3,315.8 363.5,317.7 363.7,316.2 363.9,317.2 364.1,316.1 364.3,315.3 364.5,315.6 364.7,315.6 364.9,316.9 365.1,315.8 365.3,315.7 365.6,317.2 365.8,315.2 366.0,316.6 366.2,316.6 366.4,317.0 366.6,316.4 366.8,315.4 367.0,317.2 367.2,316.5 367.4,315.7 367.6,315.5 367.8,316.0 368.0,315.3 368.2,316.3 368.5,315.4 368.7,315.0 368.9,315.7 369.1,314.4 369.3,314.3 369.5,314.4 369.7,315.4 369.9,314.8 370.1,314.7 370.3,314.7 370.5,313.3 370.7,312.4 370.9,313.4 371.1,313.0 371.4,314.0 371.6,312.6 371.8,311.5 372.0,311.4 372.2,311.7 372.4,311.3 372.6,310.4 372.8,310.7 372.8,311.1 373.0,310.3 373.2,308.7 373.3,307.9 373.4,309.2 373.6,308.8 373.8,308.5 373.8,306.2 374.0,306.0 374.3,307.1 374.5,306.1 374.7,303.6 374.9,303.6 375.1,302.3 375.3,299.5 375.5,299.4 375.7,297.3 375.9,295.3 376.1,294.2 376.3,291.6 376.5,290.5 376.7,287.5 376.9,284.9 377.1,282.1 377.4,280.7 377.6,277.9 377.8,274.1 378.0,273.3 378.2,269.0 378.4,266.4 378.4,267.3 378.6,270.6 378.6,270.0 378.8,273.2 379.0,275.1 379.2,277.9 379.3,279.0 379.4,282.0 379.6,284.7 379.8,285.5 380.0,288.7 380.3,291.8 380.5,293.5 380.7,296.1 380.9,296.9 381.1,300.2 381.3,300.6 381.5,302.7 381.7,304.9 381.9,306.0 382.1,307.0 382.3,307.1 382.5,308.7 382.7,309.2 382.9,309.1 383.2,311.5 383.4,311.0 383.6,311.9 383.8,312.1 384.0,313.5 384.2,314.5 384.4,313.3 384.6,313.7 384.8,313.7 385.0,314.6 385.2,314.1 385.4,315.5 385.6,315.0 385.8,315.1 386.1,314.3 386.3,314.6 386.5,315.0 386.7,315.6 386.9,316.3 387.1,316.8 387.3,315.7 387.5,315.1 387.7,315.7 387.9,315.6 388.1,316.9 388.3,316.3 388.5,316.0 388.7,317.0 389.0,317.4 389.2,317.1 389.4,316.7 389.6,316.2 389.8,315.7 390.0,317.3 390.2,315.6 390.4,317.4 390.6,317.1 390.8,317.3 391.0,317.1 391.2,316.8 391.4,317.3 391.6,316.6 391.8,317.6 392.1,316.1 392.3,317.4 392.5,316.7 392.7,316.9 392.9,315.8 393.1,315.6 393.3,315.8 393.5,315.9 393.7,316.1 393.9,317.2 394.1,316.3 394.3,317.2 394.5,316.1 394.7,315.9 395.0,317.0 395.2,316.7 395.4,317.3 395.6,317.6 395.8,316.3 396.0,315.6 396.2,315.4 396.4,316.3 396.6,315.9 396.8,316.5 397.0,315.8 397.2,315.3 397.4,315.3 397.6,315.4 397.9,315.1 398.1,315.9 398.3,314.8 398.5,315.2 398.7,314.7 398.9,314.1 399.1,313.9 399.3,314.9 399.5,313.9 399.7,313.7 399.7,314.4 399.9,313.9 400.1,313.0 400.2,313.3 400.3,313.3 400.5,314.2 400.8,314.7 400.8,313.1 401.0,312.8 401.2,313.6 401.4,313.4 401.6,314.2 401.8,313.5 401.8,313.0 402.0,313.7 402.2,313.7 402.4,315.1 402.6,314.5 402.8,315.2 403.0,314.2 403.2,315.7 403.4,315.0 403.6,315.5 403.9,316.1 404.1,315.9 404.3,317.3 404.5,315.4 404.7,316.6 404.9,317.1 405.1,317.5 405.3,316.6 405.5,315.7 405.7,316.1 405.9,317.8 406.1,316.5 406.3,316.8 406.5,317.4 406.8,318.0 407.0,316.7 407.2,316.4 407.4,316.9 407.6,317.7 407.8,316.3 408.0,316.3 408.0,316.4 408.2,317.6 408.4,316.6 408.6,317.1 408.8,318.4 409.0,318.3 409.2,316.7 409.4,316.1 409.7,316.1 409.9,317.8 410.1,318.2 410.3,316.5 410.5,317.3 410.7,316.9 410.9,317.0 411.1,317.4 411.3,318.2 411.5,316.6 411.7,318.1 411.9,318.4 412.1,317.4 412.3,318.4 412.6,317.7 412.8,316.7 413.0,317.3 413.2,317.3 413.4,317.7 413.6,316.7 413.8,316.8 414.0,316.5 414.2,316.3 414.4,316.7 414.6,317.7 414.8,316.8 415.0,318.1 415.2,318.1 415.5,318.0 415.7,318.2 415.9,318.8 416.1,317.4 416.3,317.3 416.5,317.3 416.7,316.9 416.9,316.8 417.1,318.2 417.3,318.2 417.5,318.4 417.7,318.1 417.9,317.8 418.1,317.1 418.3,316.7 418.6,317.5 418.8,318.3 419.0,316.8 419.2,317.1 419.4,316.8 419.6,318.1 419.8,318.1 420.0,316.9 420.2,317.5 420.4,318.3 420.6,317.3 420.8,317.2 421.0,317.4 421.2,317.6 421.5,317.4 421.7,316.9 421.9,317.3 422.1,317.2 422.3,318.2 422.5,317.2 422.7,318.2 422.9,317.9 423.1,318.1 423.3,318.5 423.5,318.6 423.7,317.8 423.9,317.9 424.1,317.0 424.4,318.1 424.6,318.3 424.8,317.7 425.0,318.3 425.2,318.2 425.4,316.5 425.6,317.4 425.8,316.8 426.0,318.1 426.2,318.3 426.4,317.3 426.6,316.8 426.8,316.4 427.0,317.6 427.3,318.4 427.5,318.5 427.7,318.1 427.9,317.5 428.1,318.4 428.3,317.0 428.5,317.2 428.7,318.0 428.9,318.4 429.1,317.4 429.3,318.4 429.5,317.2 429.7,318.6 429.9,317.6 430.1,317.1 430.4,317.9 430.6,317.4 430.8,317.0 431.0,317.0 431.2,316.5 431.4,317.7 431.6,318.5 431.8,316.8 432.0,317.2 432.2,317.5 432.4,316.9 432.6,317.4 432.8,318.0 433.0,317.2 433.3,317.8 433.5,318.6 433.7,318.9 433.9,317.7 434.1,317.8 434.3,317.2 434.5,317.8 434.7,317.9 434.9,318.2 435.1,317.2 435.3,317.1 435.5,317.6 435.7,318.2 435.9,317.0 436.2,317.8 436.4,316.9 436.6,317.1 436.8,317.5 437.0,318.0 437.2,317.4 437.4,316.3 437.6,317.6 437.8,317.1 438.0,318.2 438.2,316.7 438.4,317.0 438.6,317.2 438.8,316.7 439.1,316.9 439.3,316.5 439.5,317.9 439.7,317.7 439.9,317.6 440.1,318.1 440.3,317.2 440.5,318.2 440.7,318.3 440.9,318.4 441.1,317.7 441.3,316.4 441.5,317.7 441.7,317.6 442.0,317.9 442.2,318.2 442.4,316.4 442.6,316.6 442.8,316.7 443.0,317.8 443.2,316.3 443.4,316.6 443.6,316.2 443.8,316.4 444.0,316.2 444.2,315.9 444.4,317.3 444.6,317.1 444.8,317.0 445.1,315.7 445.3,315.5 445.5,316.1 445.7,316.3 445.9,315.1 446.1,314.5 446.3,314.8 446.5,315.8 446.7,314.0 446.9,314.1 447.1,313.0 447.3,313.0 447.5,314.2 447.7,313.4 448.0,313.3 448.2,313.9 448.4,313.3 448.6,313.2 448.8,312.0 449.0,312.8 449.2,311.9 449.4,312.5 449.4,311.9 449.6,312.8 449.8,312.3 449.9,312.5 450.0,312.1 450.2,311.3 450.4,311.9 450.4,311.8 450.6,313.3 450.9,313.1 451.1,312.1 451.3,312.0 451.5,313.2 451.7,314.6 451.9,314.4 452.1,313.6 452.3,313.3 452.5,314.7 452.7,313.8 452.9,314.2 453.1,314.1 453.3,315.6 453.5,315.8 453.8,314.8 454.0,314.9 454.2,315.3 454.4,314.8 454.6,315.1 454.8,316.0 455.0,316.1 455.2,315.3 455.4,317.5 455.6,317.9 455.6,316.9 455.8,316.0 456.0,316.7 456.2,317.5 456.4,317.6 456.7,317.9 456.9,317.6 457.1,316.9 457.3,316.4 457.5,316.1 457.7,318.1 457.9,317.4 458.1,317.5 458.3,317.8 458.5,316.7 458.7,316.8 458.9,317.8 459.1,317.3 459.3,317.2 459.5,317.8 459.8,317.1 460.0,317.8 460.2,318.0 460.4,318.6 460.6,317.0 460.8,316.7 461.0,318.1 461.2,317.8 461.4,318.2 461.6,318.4 461.8,318.8 462.0,316.9 462.2,318.4 462.4,318.4 462.7,318.1 462.9,317.4 463.1,317.3 463.3,317.8 463.5,317.0 463.7,317.8 463.9,317.3 464.1,317.0 464.3,317.7 464.5,317.3 464.7,318.4 464.9,316.9 465.1,318.5 465.3,318.4 465.6,317.2 465.8,317.4 466.0,318.8 466.2,318.5 466.4,317.7 466.6,318.0 466.8,317.9 467.0,318.2 467.2,318.2 467.4,317.7 467.6,317.3 467.8,316.9 468.0,318.1 468.2,317.9 468.5,318.3 468.7,318.4 468.9,318.2 469.1,317.1 469.3,318.2 469.5,317.7 469.7,318.6 469.9,316.7 470.1,318.0 470.3,318.6 470.5,318.9 470.7,318.1 470.9,319.1 471.1,317.4 471.3,317.8 471.6,317.3 471.8,318.5 472.0,318.0 472.2,318.3 472.4,316.7 472.6,317.1 472.8,316.6 473.0,318.3 473.2,318.3 473.4,317.1 473.6,316.9 473.8,318.2 474.0,317.3 474.2,318.0 474.5,317.4 474.7,318.5 474.9,317.5 475.1,318.4 475.3,317.7 475.5,317.0 475.7,317.3 475.9,318.8 476.1,318.1 476.3,318.3 476.5,317.1 476.7,317.9 476.9,318.0 477.1,318.5 477.4,318.7 477.6,317.9 477.8,317.2 478.0,317.3 478.2,317.9 478.4,318.6 478.6,317.5 478.8,316.8 479.0,317.3 479.2,317.3 479.4,318.6 479.6,318.3 479.8,317.9 480.0,318.7 480.3,318.0 480.5,318.2 480.7,318.6 480.9,317.8 481.1,318.2 481.3,318.7 481.5,318.9 481.7,318.3 481.9,317.9 482.1,317.2 482.3,317.3 482.5,317.7 482.7,317.5 482.9,317.3 483.2,318.7 483.4,317.6 483.6,318.1 483.8,316.9 484.0,317.8 484.2,319.3 484.4,317.7 484.6,316.9 484.8,318.0 485.0,318.3 485.2,316.8 485.4,317.9 485.6,317.3 485.8,318.3 486.0,318.0 486.3,318.5 486.5,318.6 486.7,319.0 486.9,318.9 487.1,317.9 487.3,317.2 487.5,318.5 487.7,317.4 487.9,318.4 488.1,317.4 488.3,316.8 488.5,317.8 488.7,318.2 488.9,316.8 489.2,318.8 489.4,317.5 489.6,317.3 489.8,318.1 490.0,318.3 490.2,318.1 490.4,318.6 490.6,317.2 490.8,318.3 491.0,317.2 491.2,318.2 491.4,318.4 491.6,317.7 491.8,317.3 492.1,318.2 492.3,318.7 492.5,317.4 492.7,317.6 492.9,317.6 493.1,317.5 493.3,317.4 493.5,317.5 493.7,317.9 493.9,318.6 494.1,317.3 494.3,318.6 494.5,318.5 494.7,318.2 495.0,318.7 495.2,317.9 495.4,317.8 495.6,318.0 495.8,318.9 496.0,318.1 496.2,318.2 496.4,317.6 496.6,318.2 496.8,317.9 497.0,317.9 497.2,318.2 497.4,317.2 497.6,316.9 497.8,316.6 498.1,317.1 498.3,317.6 498.5,317.8 498.7,318.5 498.9,318.6 499.1,317.6 499.3,317.7 499.5,318.3 499.7,318.0 499.9,317.2 500.1,318.3 500.3,317.6 500.5,317.9 500.7,317.7 501.0,318.8 501.2,317.8 501.4,317.5 501.6,318.4 501.8,318.8 502.0,318.5 502.2,318.5 502.4,316.9 502.6,317.9 502.8,317.5 503.0,317.7 503.2,318.0 503.4,317.5 503.6,318.6 503.9,318.2 504.1,316.8 504.3,318.3 504.5,318.3 504.7,319.0 504.9,317.5 505.1,317.7 505.3,318.4 505.5,318.8 505.7,317.8 505.9,318.2 506.1,317.3 506.3,317.5 506.5,318.0 506.8,318.0 507.0,318.7 507.2,318.9 507.4,317.1 507.6,316.5 507.8,316.7 508.0,316.9 508.2,317.2 508.4,317.1 508.6,316.9 508.8,317.5 509.0,317.8 509.2,317.7 509.4,316.9 509.7,317.8 509.9,317.7 510.1,316.3 510.3,317.9 510.5,317.0 510.7,317.1 510.9,316.9 511.1,315.7 511.3,316.2 511.5,316.1 511.7,317.6 511.9,317.5 512.1,317.5 512.3,316.2 512.5,316.6 512.8,316.4 513.0,315.3 513.2,315.5 513.4,316.2 513.6,315.1 513.8,315.8 514.0,315.8 514.2,314.8 514.4,315.5 514.6,315.1 514.8,315.0 515.0,315.3 515.2,315.4 515.4,314.0 515.7,313.2 515.9,314.3 516.1,315.0 516.3,313.4 516.5,313.4 516.7,312.5 516.9,312.4 517.1,313.5 517.3,313.0 517.5,312.7 517.7,311.3 517.7,312.6 517.9,312.8 518.1,311.5 518.3,312.1 518.6,312.8 518.8,311.4 518.8,310.4 519.0,311.1 519.2,311.6 519.4,311.9 519.6,312.1 519.8,311.7 519.8,311.1 520.0,310.3 520.2,310.7 520.4,310.8 520.6,311.6 520.8,311.0 521.0,312.0 521.2,312.1 521.3,312.1 521.5,312.2 521.7,312.7 521.9,312.0 522.1,313.6 522.3,313.5 522.5,312.2 522.7,312.4 522.9,312.1 523.1,314.0 523.3,314.0 523.5,314.3 523.7,315.1 523.9,313.8 523.9,315.0 524.1,315.1 524.4,314.0 524.5,315.1 524.6,314.9 524.8,314.9 525.0,315.2 525.2,316.1 525.4,314.9 525.6,316.1 525.8,316.2 526.0,316.0 526.2,315.9 526.4,316.4 526.6,315.6 526.8,315.5 527.0,316.0 527.2,316.7 527.5,315.7 527.7,317.4 527.9,316.9 528.1,316.7 528.3,317.6 528.5,318.2 528.7,316.9 528.9,316.8 529.1,317.0 529.3,316.7 529.5,318.1 529.7,317.3 529.9,317.0 530.1,317.1 530.4,316.7 530.6,316.7 530.8,317.1 531.0,318.2 531.2,317.5 531.4,317.8 531.6,318.6 531.8,318.1 532.0,317.5 532.2,317.0 532.4,318.7 532.6,316.9 532.8,318.4 533.0,317.3 533.3,318.5 533.5,318.1 533.7,318.0 533.9,318.0 534.1,317.2 534.3,317.1 534.5,318.3 534.7,317.6 534.9,317.7 535.1,317.1 535.3,318.6 535.5,318.6 535.7,317.9 535.9,317.2 536.2,317.7 536.4,318.9 536.6,318.3 536.8,316.8 537.0,318.4 537.2,318.6 537.4,317.3 537.6,318.6 537.8,319.1 538.0,318.0 538.2,317.4 538.4,317.7 538.6,318.8 538.8,317.7 539.0,317.0 539.3,317.5 539.5,317.7 539.7,317.9 539.9,316.8 540.1,317.3 540.3,317.1 540.5,318.2 540.7,317.6 540.9,316.8 541.1,317.0 541.3,317.0 541.5,317.2 541.7,317.9 541.9,317.4 542.2,317.2 542.4,316.8 542.6,316.5 542.8,316.6 543.0,317.4 543.2,316.4 543.4,317.2 543.6,316.8 543.8,315.5 544.0,316.1 544.2,315.1 544.4,314.8 544.6,314.7 544.8,314.4 545.1,314.5 545.2,315.7 545.3,314.0 545.5,313.8 545.7,314.5 545.7,313.4 545.9,313.6 546.1,314.5 546.3,315.0 546.5,315.4 546.7,315.3 546.9,315.4 547.1,315.5 547.3,315.3 547.5,316.5 547.7,317.1 548.0,316.8 548.2,317.0 548.4,317.5 548.6,317.7 548.8,317.5 549.0,316.6 549.2,317.1 549.4,317.5 549.6,318.1 549.8,317.9 550.0,318.1 550.2,316.3 550.4,317.0 550.6,317.3 550.9,318.5 551.1,317.1 551.3,318.6 551.5,318.5 551.7,316.9 551.9,317.9 552.1,318.6 552.3,318.9 552.5,319.0 552.7,318.3 552.9,318.1 553.1,317.6 553.3,318.8 553.5,318.3 553.7,317.6 554.0,317.1 554.2,318.1 554.4,318.4 554.6,317.9 554.8,317.6 555.0,317.3 555.2,317.3 555.4,317.4 555.6,317.4 555.8,317.9 556.0,318.4 556.2,317.4 556.4,317.0 556.6,317.6 556.9,317.4 557.1,318.0 557.3,318.4 557.5,317.3 557.7,317.6 557.9,318.0 558.1,317.4 558.3,319.0 558.5,317.1 558.7,317.5 558.9,317.4 559.1,317.6 559.3,318.2 559.5,318.4 559.8,318.0 560.0,317.6 560.2,318.9 560.4,317.8 560.6,318.5 560.8,318.7 561.0,317.2 561.2,317.3 561.4,317.8 561.6,317.8 561.8,317.2 562.0,319.0 562.2,317.1 562.4,317.1 562.7,317.5 562.9,317.5 563.1,318.9 563.3,317.8 563.5,318.1 563.7,318.1 563.9,319.1 564.1,319.3 564.3,317.8 564.5,318.3 564.7,317.4 564.9,318.4 565.1,317.6 565.3,316.9 565.5,318.4 565.8,319.1 566.0,318.5 566.2,318.5 566.4,319.2 566.6,317.9 566.8,318.9 567.0,317.9 567.2,318.2 567.4,317.2 567.6,317.4 567.8,317.6 568.0,317.9 568.2,317.4 568.4,318.8 568.7,318.8 568.9,317.8 569.1,317.3 569.3,317.1 569.5,317.3 569.7,318.2 569.9,317.3 570.1,318.1 570.3,317.8 570.5,319.2 570.7,318.3 570.9,317.1 571.1,318.1 571.3,318.0 571.6,317.5 571.8,318.7 572.0,318.1 572.2,316.8 572.4,318.3 572.6,318.7 572.8,317.8 573.0,318.1 573.2,318.1 573.4,318.3 573.6,317.8 573.8,317.2 574.0,318.8 574.2,316.5 574.5,316.6 574.7,317.3 574.9,317.1 575.1,318.0 575.3,318.1 575.5,317.4 575.7,317.2 575.9,317.4 576.1,317.7 576.3,318.7 576.5,317.6 576.7,318.0 576.9,318.2 577.1,318.5 577.4,316.4 577.6,316.8 577.8,317.3 578.0,317.8 578.2,317.6 578.4,317.4 578.6,317.3 578.8,317.6 579.0,317.8 579.2,316.1 579.4,317.3 579.6,316.7 579.8,315.8 580.0,316.0 580.2,317.2 580.5,316.3 580.7,316.8 580.9,316.8 581.1,315.2 581.3,315.1 581.5,315.7 581.7,315.0 581.9,316.8 582.1,316.1 582.3,315.5 582.5,315.5 582.7,316.1 582.9,316.3 583.1,316.1 583.4,315.5 583.6,315.1 583.8,314.5 584.0,316.4 584.0,314.8 584.2,314.9 584.4,315.7 584.6,315.7 584.8,315.1 585.0,315.1 585.0,315.9 585.2,315.0 585.4,314.3 585.6,315.7 585.8,315.8 586.0,316.1 586.3,314.8 586.5,314.9 586.7,314.5 586.9,315.6 587.1,316.3 587.1,315.8 587.3,314.6 587.5,314.8 587.7,315.9 587.9,314.9 588.1,316.1 588.3,316.2 588.5,315.7 588.7,316.3 588.9,316.9 589.2,317.2 589.4,315.7 589.6,316.5 589.8,316.7 590.0,316.0 590.2,316.3 590.4,315.9 590.6,317.4 590.8,317.1 591.0,315.9 591.2,316.3 591.4,317.4 591.6,316.5 591.8,316.9 592.0,317.3 592.3,317.2 592.5,316.6 592.7,317.5 592.9,316.8 593.1,317.8 593.3,317.2 593.5,317.6 593.7,316.4 593.9,317.0 594.1,317.6 594.3,316.6 594.5,316.8 594.7,317.5 594.9,317.8 595.2,316.7 595.4,317.4 595.6,318.5 595.8,316.9 596.0,317.6 596.2,316.9 596.4,317.8 596.6,317.0 596.8,317.3 597.0,316.9 597.2,318.3 597.4,316.8 597.6,317.3 597.8,318.4 598.1,316.5 598.3,318.2 598.5,316.7 598.7,316.4 598.9,318.0 599.1,316.6 599.3,316.9 599.5,316.8 599.7,317.9 599.9,317.2 600.1,316.6 600.3,317.0 600.5,317.8 600.7,318.8 601.0,317.7 601.2,316.6 601.4,317.1 601.6,317.4 601.8,317.7 602.0,318.2 602.2,316.7 602.4,317.2 602.6,317.3 602.8,317.2 603.0,316.9 603.2,317.0 603.4,316.6 603.6,315.8 603.9,315.4 604.1,315.5 604.3,316.2 604.5,315.2 604.7,316.5 604.9,315.6 605.1,315.2 605.3,315.1 605.5,315.5 605.7,315.2 605.9,313.3 606.1,314.4 606.3,314.2 606.5,314.0 606.7,313.5 607.0,312.9 607.2,311.9 607.4,311.0 607.6,311.3 607.8,311.8 608.0,310.5 608.2,311.3 608.4,310.9 608.6,310.9 608.8,310.3 609.0,309.9 609.2,308.2 609.3,307.6 609.4,309.3 609.6,308.8 609.9,310.3 609.9,309.6 610.1,310.3 610.3,309.7 610.4,309.9 610.5,311.0 610.7,309.8 610.9,311.6 611.1,311.6 611.3,312.0 611.5,311.6 611.7,313.1 611.9,312.4 612.1,313.6 612.3,314.3 612.5,313.7 612.8,315.3 613.0,314.2 613.2,314.7 613.4,315.7 613.6,316.4 613.8,316.8 614.0,316.1 614.2,315.1 614.4,316.6 614.6,317.3 614.8,316.6 615.0,316.0 615.2,315.4 615.4,317.5 615.7,316.5 615.9,316.8 616.1,317.8 616.3,316.6 616.5,316.8 616.7,316.8 616.9,317.4 617.1,318.3 617.3,316.9 617.5,316.8 617.7,317.8 617.9,317.3 618.1,317.6 618.3,317.3 618.6,318.4 618.8,317.6 619.0,317.4 619.2,317.6 619.4,316.6 619.6,316.9 619.8,317.3 620.0,317.2 620.2,317.5 620.4,317.9 620.6,317.7 620.8,318.4 621.0,317.9 621.2,318.1 621.4,318.5 621.7,317.0 621.9,317.1 622.1,316.8 622.3,318.3 622.5,317.7 622.7,317.6 622.9,317.5 623.1,317.5 623.3,317.7 623.5,317.8 623.7,317.0 623.9,317.9 624.1,317.6 624.3,317.7 624.6,317.3 624.8,316.5 625.0,318.0 625.2,318.0 625.4,318.6 625.6,318.3 625.8,317.3 626.0,317.0 626.2,317.0 626.4,318.7 626.6,317.7 626.8,318.6 627.0,317.2 627.2,317.2 627.5,318.2 627.7,317.0 627.9,317.9 628.1,318.2 628.3,318.1 628.5,318.3 628.7,317.1 628.9,317.8 629.1,317.9 629.3,318.2 629.5,318.0 629.7,317.6 629.9,318.0 630.1,317.7 630.4,318.5 630.6,318.0 630.8,317.4 631.0,318.2 631.2,317.7 631.4,317.7 631.6,318.3 631.8,318.3 632.0,317.8 632.2,317.3 632.4,318.2 632.6,318.2 632.8,318.2 633.0,317.5 633.2,317.7 633.5,318.4 633.7,317.0 633.9,317.0 634.1,317.6 634.3,318.1 634.5,317.5 634.7,317.0 634.9,317.3 635.1,316.2 635.3,317.3 635.5,318.1 635.7,316.8 635.9,317.1 636.1,317.3 636.4,317.2 636.6,317.9 636.8,317.7 637.0,317.8 637.2,316.4 637.4,316.7 637.6,316.4 637.8,317.1 638.0,316.1 638.2,316.7 638.4,316.4 638.6,317.2 638.8,315.7 639.0,316.0 639.3,316.3 639.5,317.5 639.7,316.0 639.9,317.1 640.1,316.4 640.3,316.3 640.5,315.6 640.7,316.4 640.9,317.4 641.1,317.2 641.3,316.0 641.5,315.6 641.7,316.7 641.9,316.5 641.9,317.4 642.2,317.2 642.4,317.1 642.6,315.8 642.8,316.0 643.0,315.5 643.2,316.2 643.4,315.6 643.6,316.1 643.8,317.1 644.0,315.9 644.0,316.6 644.2,316.6 644.4,316.1 644.6,316.4 644.8,316.4 645.1,316.3 645.1,316.9 645.3,317.1 645.5,316.5 645.7,316.4 645.9,317.0 646.1,316.6 646.1,316.9 646.3,316.3 646.5,316.2 646.7,316.7 646.9,316.2 647.1,317.5 647.3,316.1 647.5,316.7 647.7,316.5 647.9,317.0 648.2,316.0 648.4,315.6 648.6,316.4 648.8,316.0 649.0,316.8 649.2,317.0 649.4,317.9 649.6,317.2 649.8,317.6 650.0,317.6 650.2,316.4 650.4,316.0 650.6,317.9 650.8,317.8 651.1,316.2 651.3,316.2 651.5,317.6 651.7,317.1 651.9,317.9 652.1,317.2 652.3,317.0 652.5,317.1 652.7,318.1 652.9,317.8 653.1,317.8 653.3,317.7 653.5,317.8 653.7,317.4 654.0,316.9 654.2,318.2 654.4,316.9 654.6,318.0 654.8,317.8 655.0,317.5 655.2,318.3 655.4,318.2 655.6,318.3 655.8,317.3 656.0,318.1 656.2,317.3 656.4,318.0 656.6,318.6 656.9,317.2 657.1,318.3 657.3,318.1 657.5,317.0 657.7,318.3 657.9,318.6 658.1,317.4 658.3,318.4 658.5,318.5 658.7,318.1 658.9,318.8 659.1,319.2 659.3,318.0 659.5,318.8 659.7,317.3 660.0,318.2 660.2,318.2 660.4,318.3 660.6,318.6 660.8,318.1 661.0,317.4 661.2,318.6 661.4,317.4 661.6,318.6 661.8,318.7 662.0,317.6 662.2,318.2 662.4,317.5 662.6,318.4 662.9,317.4 663.1,317.3 663.3,317.8 663.5,318.2 663.7,317.9 663.9,317.1 664.1,317.1 664.3,318.0 664.5,318.9 664.7,318.9 664.9,318.9 665.1,317.9 665.3,318.3 665.5,318.4 665.8,317.6 666.0,318.7 666.2,318.3 666.4,318.9 666.6,318.0 666.8,317.7 667.0,318.1 667.2,317.9 667.4,318.3 667.6,317.8 667.8,317.6 668.0,318.6 668.2,318.6 668.4,317.5 668.7,318.3 668.9,319.0 669.1,317.7 669.3,317.9 669.5,317.7 669.7,318.4 669.9,318.2 670.1,318.3 670.3,317.9 670.5,317.4 670.7,317.7 670.9,317.6 671.1,318.7 671.3,317.6 671.6,317.5 671.8,317.2 672.0,317.3 672.2,318.2 672.4,318.0 672.6,318.8 672.8,319.5 673.0,319.2" fill="none" stroke="#ff00ff" stroke-width="1.60" stroke-linejoin="round"/>
<polyline points="51.9,359.6 52.1,359.6 52.3,360.5 52.5,359.7 52.7,360.6 52.9,359.8 53.1,359.5 53.3,359.4 53.6,359.2 53.8,360.1 54.0,361.0 54.2,360.3 54.4,360.8 54.6,360.5 54.8,360.0 55.0,360.5 55.2,360.5 55.4,359.1 55.6,360.0 55.8,360.3 56.0,360.6 56.2,359.5 56.5,359.4 56.7,358.6 56.9,359.4 57.1,359.1 57.3,359.4 57.5,359.5 57.7,359.5 57.9,359.0 58.1,359.2 58.3,359.8 58.5,360.6 58.7,360.7 58.9,360.2 59.1,359.7 59.4,359.1 59.6,360.7 59.8,360.4 60.0,360.1 60.2,359.4 60.4,360.1 60.6,360.3 60.8,359.8 61.0,359.1 61.2,359.6 61.4,359.2 61.6,358.5 61.8,359.3 62.0,359.3 62.3,359.2 62.5,357.6 62.7,358.6 62.9,358.4 63.1,358.2 63.3,358.1 63.5,358.0 63.7,357.3 63.9,357.3 64.1,356.0 64.3,353.7 64.5,352.7 64.7,350.8 64.9,346.7 65.2,340.3 65.4,335.1 65.6,324.7 65.8,312.2 66.0,298.6 66.2,278.7 66.2,278.4 66.4,258.7 66.4,259.0 66.6,237.9 66.6,238.7 66.8,259.3 66.9,270.2 67.0,279.5 67.2,297.1 67.4,312.7 67.4,313.0 67.6,325.6 67.8,334.0 68.0,341.0 68.3,346.4 68.5,351.2 68.7,352.5 68.9,354.0 69.1,355.7 69.3,356.7 69.5,358.4 69.7,358.3 69.9,359.2 70.1,359.7 70.3,359.1 70.5,359.3 70.7,358.9 70.9,358.7 71.2,358.3 71.4,358.4 71.6,360.1 71.8,360.4 72.0,359.4 72.2,358.6 72.4,360.2 72.6,360.0 72.8,359.3 73.0,360.8 73.2,360.5 73.4,360.8 73.6,361.1 73.8,359.8 74.1,359.6 74.3,361.2 74.5,360.4 74.7,360.4 74.9,360.6 75.1,360.2 75.3,360.1 75.5,359.8 75.7,360.9 75.9,361.1 76.1,360.3 76.3,361.6 76.5,360.2 76.7,360.5 77.0,359.8 77.2,360.5 77.4,359.2 77.6,360.8 77.8,360.7 78.0,361.6 78.2,360.3 78.4,360.8 78.6,361.3 78.8,360.7 79.0,361.5 79.2,362.0 79.4,360.2 79.6,361.3 79.8,360.9 80.1,361.0 80.3,361.5 80.5,361.4 80.7,360.6 80.9,361.3 81.1,361.9 81.3,360.1 81.5,360.1 81.7,361.5 81.9,360.8 82.1,360.6 82.3,361.1 82.5,361.8 82.7,360.5 83.0,360.4 83.2,361.1 83.4,361.3 83.6,362.0 83.8,361.9 84.0,361.6 84.2,361.4 84.4,361.5 84.6,360.7 84.8,361.1 85.0,361.6 85.2,360.9 85.4,361.4 85.6,361.1 85.9,361.9 86.1,361.2 86.3,361.4 86.5,360.3 86.7,361.3 86.9,361.0 87.1,360.2 87.3,361.2 87.5,360.6 87.7,360.7 87.9,360.4 88.1,361.0 88.3,361.4 88.5,361.5 88.8,361.5 89.0,362.1 89.2,362.0 89.4,360.1 89.6,360.7 89.8,360.7 90.0,361.8 90.2,360.3 90.4,360.5 90.6,361.5 90.8,360.2 91.0,362.2 91.2,361.0 91.4,360.3 91.7,360.6 91.9,360.5 92.1,360.9 92.3,361.5 92.5,360.9 92.7,360.4 92.9,360.5 93.1,360.4 93.3,360.5 93.5,360.8 93.7,360.8 93.9,362.1 94.1,362.1 94.3,360.4 94.5,361.6 94.8,360.8 95.0,360.8 95.2,360.4 95.4,360.1 95.6,360.6 95.8,362.0 96.0,362.0 96.2,362.4 96.4,361.9 96.6,360.9 96.8,361.8 97.0,361.9 97.2,361.6 97.4,361.6 97.7,360.7 97.9,361.4 98.1,361.3 98.3,360.1 98.5,361.0 98.7,361.0 98.9,361.2 99.1,361.3 99.3,362.0 99.5,361.7 99.7,361.5 99.9,361.6 100.1,361.5 100.3,361.3 100.6,361.8 100.8,361.2 101.0,361.8 101.2,360.8 101.4,361.4 101.6,361.9 101.8,361.1 102.0,361.3 102.2,361.1 102.4,360.6 102.6,360.4 102.8,361.6 103.0,362.0 103.2,361.3 103.5,360.6 103.7,361.8 103.9,361.0 104.1,360.6 104.3,361.6 104.5,359.6 104.7,360.8 104.9,360.3 105.1,360.9 105.3,360.2 105.5,360.0 105.7,360.8 105.9,360.7 106.1,359.9 106.3,360.1 106.6,361.2 106.8,359.4 107.0,359.9 107.2,359.6 107.4,361.0 107.6,360.6 107.8,360.0 108.0,359.5 108.2,358.8 108.4,357.9 108.6,358.6 108.8,359.2 109.0,358.5 109.2,357.2 109.5,356.1 109.7,356.8 109.9,354.8 110.1,355.5 110.3,354.7 110.5,352.7 110.7,353.1 110.9,350.6 111.1,349.7 111.3,348.2 111.5,346.7 111.7,344.4 111.9,341.5 112.1,337.9 112.4,334.9 112.6,331.7 112.8,327.1 113.0,323.2 113.2,317.0 113.4,311.5 113.6,306.2 113.8,300.4 114.0,295.0 114.2,287.3 114.4,278.8 114.6,272.7 114.8,265.4 115.0,255.9 115.3,250.1 115.5,254.7 115.7,260.3 115.8,262.3 115.9,264.9 116.0,269.1 116.1,269.8 116.1,270.8 116.3,275.5 116.3,275.9 116.5,281.5 116.6,283.5 116.7,285.8 116.9,290.2 117.1,294.8 117.3,298.5 117.5,303.5 117.7,308.2 117.9,311.4 118.2,315.5 118.4,318.8 118.6,321.6 118.8,325.3 119.0,327.3 119.2,331.3 119.4,332.8 119.6,334.5 119.8,338.1 120.0,340.0 120.2,340.8 120.4,342.6 120.6,344.3 120.8,345.7 121.0,348.0 121.3,349.6 121.5,349.7 121.7,350.0 121.9,351.9 122.1,353.2 122.3,353.6 122.5,354.5 122.7,355.4 122.9,356.0 123.1,355.8 123.3,356.2 123.5,357.3 123.7,356.7 123.9,357.0 124.2,358.0 124.4,357.4 124.6,358.9 124.8,358.2 125.0,358.8 125.2,358.7 125.4,358.5 125.6,358.6 125.8,359.9 126.0,359.7 126.2,360.0 126.4,360.3 126.6,359.9 126.8,360.7 127.1,359.7 127.3,361.3 127.5,360.7 127.7,361.0 127.9,361.5 128.1,361.2 128.3,360.9 128.5,360.2 128.7,361.8 128.9,360.4 129.1,361.0 129.3,361.7 129.5,361.6 129.7,361.1 130.0,360.3 130.2,360.5 130.4,361.9 130.6,360.9 130.8,361.0 131.0,360.7 131.2,361.3 131.4,361.9 131.6,362.5 131.8,362.4 132.0,361.4 132.2,361.1 132.4,361.4 132.6,361.5 132.9,360.9 133.1,362.3 133.3,361.7 133.5,362.3 133.7,361.6 133.9,361.3 134.1,361.8 134.3,362.5 134.5,361.7 134.7,362.7 134.9,362.6 135.1,362.4 135.3,362.2 135.5,363.1 135.7,362.2 136.0,363.2 136.2,362.0 136.4,362.3 136.6,362.7 136.8,362.2 137.0,362.5 137.2,362.0 137.4,363.4 137.6,363.3 137.8,361.8 138.0,361.7 138.2,362.4 138.4,362.6 138.6,361.9 138.9,362.8 139.1,361.7 139.3,362.3 139.5,362.2 139.7,363.0 139.9,362.7 140.1,363.2 140.3,363.1 140.5,362.5 140.7,362.2 140.9,362.5 141.1,361.9 141.3,363.2 141.5,363.3 141.8,363.4 142.0,361.9 142.2,363.2 142.4,363.5 142.6,362.0 142.8,361.9 143.0,362.7 143.2,362.8 143.4,362.4 143.6,363.1 143.8,363.5 144.0,362.4 144.2,362.3 144.4,363.2 144.7,362.4 144.9,361.8 145.1,363.1 145.3,363.8 145.5,362.9 145.7,361.8 145.9,361.5 146.1,362.9 146.3,363.5 146.5,362.7 146.7,363.8 146.9,363.8 147.1,362.6 147.3,363.2 147.5,363.5 147.8,363.3 148.0,362.1 148.2,363.1 148.4,363.5 148.6,363.2 148.8,362.5 149.0,362.5 149.2,361.7 149.4,362.4 149.6,363.0 149.8,363.2 150.0,363.3 150.2,362.8 150.4,362.9 150.7,362.6 150.9,362.4 151.1,363.0 151.3,362.7 151.5,363.2 151.7,363.1 151.9,363.3 152.1,364.1 152.3,363.1 152.5,363.1 152.7,362.2 152.9,362.8 153.1,363.9 153.3,364.1 153.6,363.4 153.8,363.4 154.0,364.2 154.2,362.9 154.4,362.7 154.6,363.9 154.8,364.0 155.0,364.2 155.2,363.8 155.4,362.6 155.6,363.3 155.8,363.0 156.0,362.8 156.2,363.9 156.5,364.0 156.7,363.9 156.9,363.9 157.1,363.0 157.3,363.3 157.5,363.3 157.7,362.6 157.9,363.4 158.1,362.8 158.3,363.3 158.5,363.0 158.7,363.3 158.9,363.4 159.1,363.1 159.4,362.5 159.6,363.9 159.8,362.7 160.0,363.4 160.2,363.5 160.4,362.5 160.6,362.9 160.8,364.3 161.0,363.8 161.2,362.8 161.4,363.9 161.6,363.3 161.8,363.4 162.0,362.8 162.2,363.3 162.5,363.8 162.7,362.9 162.9,363.0 163.1,363.8 163.3,363.2 163.5,363.0 163.7,364.0 163.9,364.3 164.1,364.1 164.3,362.7 164.5,364.0 164.7,362.9 164.9,363.1 165.1,362.7 165.4,363.0 165.6,363.8 165.8,363.4 166.0,364.3 166.2,364.2 166.4,364.0 166.6,364.5 166.8,363.9 167.0,363.5 167.2,363.1 167.4,363.4 167.6,364.1 167.8,362.5 168.0,363.2 168.3,363.2 168.5,363.9 168.7,363.8 168.9,362.5 169.1,364.2 169.3,364.3 169.5,363.5 169.7,364.4 169.9,364.9 170.1,363.2 170.3,364.5 170.5,363.8 170.7,363.8 170.9,364.6 171.2,363.4 171.4,362.6 171.6,363.2 171.8,363.5 172.0,364.4 172.2,364.1 172.4,363.8 172.6,363.5 172.8,364.1 173.0,363.1 173.2,363.7 173.4,363.9 173.6,363.1 173.8,363.5 174.0,363.1 174.3,363.3 174.5,363.4 174.7,363.0 174.9,363.1 175.1,362.9 175.3,364.6 175.5,363.4 175.7,362.8 175.9,363.3 176.1,363.5 176.3,363.9 176.5,363.6 176.7,362.6 176.9,362.9 177.2,364.4 177.4,363.4 177.6,363.5 177.8,363.8 178.0,364.6 178.2,362.5 178.4,363.7 178.6,364.4 178.8,364.7 179.0,364.3 179.2,363.6 179.4,364.2 179.6,364.1 179.8,364.7 180.1,364.6 180.3,363.7 180.5,362.8 180.7,364.9 180.9,362.9 181.1,363.6 181.3,362.5 181.5,362.9 181.7,364.0 181.9,364.4 182.1,363.2 182.3,363.6 182.5,362.8 182.7,362.3 183.0,362.3 183.2,363.8 183.4,363.2 183.6,362.6 183.8,363.4 184.0,362.9 184.2,363.8 184.4,363.6 184.6,363.6 184.8,363.4 185.0,363.5 185.2,363.7 185.4,362.3 185.6,364.2 185.9,364.3 186.1,362.6 186.3,363.7 186.5,362.7 186.7,362.4 186.9,362.8 187.1,363.3 187.3,363.0 187.5,362.5 187.7,362.0 187.9,362.7 188.1,362.3 188.3,362.1 188.5,363.2 188.7,363.9 189.0,363.5 189.2,362.6 189.4,362.1 189.6,363.3 189.8,362.5 190.0,361.6 190.2,362.4 190.4,361.2 190.6,361.5 190.8,360.4 191.0,360.6 191.2,360.0 191.4,360.5 191.6,359.3 191.9,358.4 192.1,359.0 192.3,358.0 192.5,355.7 192.7,356.3 192.9,355.1 193.1,351.5 193.3,350.0 193.5,348.0 193.7,346.6 193.9,344.3 194.1,342.2 194.3,337.7 194.5,333.1 194.8,330.5 195.0,324.5 195.2,320.2 195.4,313.6 195.6,309.0 195.8,301.5 196.0,294.8 196.2,288.1 196.4,282.2 196.6,274.2 196.8,277.5 197.0,281.5 197.1,285.0 197.2,287.7 197.3,288.8 197.4,291.6 197.4,292.0 197.5,294.0 197.7,296.2 197.9,300.5 198.1,303.5 198.1,303.9 198.3,308.8 198.5,312.6 198.7,315.7 198.9,320.1 199.1,323.6 199.3,326.6 199.5,330.7 199.7,332.1 199.9,336.2 200.1,338.6 200.3,339.8 200.5,342.9 200.8,344.9 201.0,346.5 201.2,347.4 201.4,348.9 201.6,350.7 201.8,352.2 202.0,353.1 202.2,354.1 202.4,355.7 202.6,356.5 202.8,357.0 203.0,357.4 203.2,358.5 203.4,357.6 203.7,359.1 203.9,358.9 204.1,358.9 204.3,360.3 204.5,360.8 204.7,361.6 204.9,361.8 205.1,361.9 205.3,361.7 205.5,361.6 205.7,362.3 205.9,362.0 206.1,361.5 206.3,361.8 206.6,361.8 206.8,362.1 207.0,363.3 207.2,362.9 207.4,363.4 207.6,364.1 207.8,364.1 208.0,362.3 208.2,362.2 208.4,363.3 208.6,364.0 208.8,362.9 209.0,364.2 209.2,362.8 209.5,362.0 209.7,363.7 209.9,363.3 210.1,362.8 210.3,364.1 210.5,363.4 210.7,364.1 210.9,364.4 211.1,363.4 211.3,363.4 211.5,363.4 211.7,363.1 211.9,364.5 212.1,364.5 212.4,362.7 212.6,364.5 212.8,363.4 213.0,363.5 213.2,363.4 213.4,364.1 213.6,364.6 213.8,364.1 214.0,364.2 214.2,363.4 214.4,364.4 214.6,362.9 214.8,363.8 215.0,363.7 215.2,363.4 215.5,364.3 215.7,364.6 215.9,363.9 216.1,364.3 216.3,363.9 216.5,364.9 216.7,365.5 216.9,363.2 217.1,362.9 217.3,364.1 217.5,364.5 217.7,365.2 217.9,364.9 218.1,363.3 218.4,363.7 218.6,365.2 218.8,364.0 219.0,364.6 219.2,364.1 219.4,364.0 219.6,363.7 219.8,365.0 220.0,364.2 220.2,364.2 220.4,364.2 220.6,363.7 220.8,363.7 221.0,364.3 221.3,363.8 221.5,364.5 221.7,364.3 221.9,364.8 222.1,365.0 222.3,365.4 222.5,364.7 222.7,364.8 222.9,364.4 223.1,363.1 223.3,365.2 223.5,364.7 223.7,364.2 223.9,364.5 224.2,365.0 224.4,364.1 224.6,363.8 224.8,364.4 225.0,363.9 225.2,365.7 225.4,365.5 225.6,364.1 225.8,364.2 226.0,365.1 226.2,364.9 226.4,365.7 226.6,365.8 226.8,363.8 227.1,365.4 227.3,363.8 227.5,363.9 227.7,364.9 227.9,364.8 228.1,364.0 228.3,365.5 228.5,364.6 228.7,364.5 228.9,364.0 229.1,365.3 229.3,365.5 229.5,364.3 229.7,364.4 229.9,363.4 230.2,365.2 230.4,364.0 230.6,365.4 230.8,363.8 231.0,364.9 231.2,365.5 231.4,364.1 231.6,364.2 231.8,364.8 232.0,365.2 232.2,363.5 232.4,364.3 232.6,364.4 232.8,364.4 233.1,364.3 233.3,364.8 233.5,365.3 233.7,364.2 233.9,364.2 234.1,365.6 234.3,365.8 234.5,365.0 234.7,366.0 234.9,365.4 235.1,364.2 235.3,365.4 235.5,363.9 235.7,365.7 236.0,365.7 236.2,364.6 236.4,363.9 236.6,365.2 236.8,365.1 237.0,364.4 237.2,365.2 237.4,365.8 237.6,365.5 237.8,365.3 238.0,365.5 238.2,365.2 238.4,365.0 238.6,366.0 238.9,365.1 239.1,365.5 239.3,364.3 239.5,365.3 239.7,365.8 239.9,364.7 240.1,365.6 240.3,366.3 240.5,365.4 240.7,365.1 240.9,365.0 241.1,364.4 241.3,364.7 241.5,364.5 241.7,364.9 242.0,365.0 242.2,364.4 242.4,365.8 242.6,364.9 242.8,365.2 243.0,364.3 243.2,365.4 243.4,364.5 243.6,364.6 243.8,365.2 244.0,365.6 244.2,365.1 244.4,364.6 244.6,364.7 244.9,364.5 245.1,364.8 245.3,364.4 245.5,365.2 245.7,365.4 245.9,365.7 246.1,364.4 246.3,365.1 246.5,365.7 246.7,365.4 246.9,364.5 247.1,365.2 247.3,364.7 247.5,365.6 247.8,365.7 248.0,364.7 248.2,364.0 248.4,364.7 248.6,365.7 248.8,366.0 249.0,365.3 249.2,364.7 249.4,365.2 249.6,366.0 249.8,365.2 250.0,364.3 250.2,365.2 250.4,366.1 250.7,364.5 250.9,364.7 251.1,366.1 251.3,366.0 251.5,366.4 251.7,364.7 251.9,365.0 252.1,365.0 252.3,365.3 252.5,364.3 252.7,365.0 252.9,365.9 253.1,365.4 253.3,366.0 253.6,365.4 253.8,365.7 254.0,365.7 254.2,365.6 254.4,366.0 254.6,365.5 254.8,364.8 255.0,364.8 255.2,364.6 255.4,364.4 255.6,365.8 255.8,365.2 256.0,364.7 256.2,364.9 256.4,364.8 256.7,365.9 256.9,366.2 257.1,365.1 257.3,366.2 257.5,364.5 257.7,365.7 257.9,365.0 258.1,365.9 258.3,364.5 258.5,364.8 258.7,365.5 258.9,364.5 259.1,365.3 259.3,365.8 259.6,366.1 259.8,366.2 260.0,364.7 260.2,364.6 260.4,365.2 260.6,365.5 260.8,365.8 261.0,366.2 261.2,365.9 261.4,364.8 261.6,365.1 261.8,366.3 262.0,365.4 262.2,365.6 262.5,365.8 262.7,364.5 262.9,365.2 263.1,364.8 263.3,365.3 263.5,366.3 263.7,365.2 263.9,366.4 264.1,365.9 264.3,364.0 264.5,364.4 264.7,365.6 264.9,365.7 265.1,366.2 265.4,365.3 265.6,364.9 265.8,366.2 266.0,364.7 266.2,365.2 266.4,365.9 266.6,365.4 266.8,366.0 267.0,365.5 267.2,364.8 267.4,365.5 267.6,365.1 267.8,364.4 268.0,364.9 268.2,364.4 268.5,364.6 268.7,365.8 268.9,365.2 269.1,364.6 269.3,365.5 269.5,364.6 269.7,364.7 269.9,365.9 270.1,365.1 270.3,364.4 270.5,364.8 270.7,365.1 270.9,365.8 271.1,365.8 271.4,366.2 271.6,365.3 271.8,366.3 272.0,365.5 272.2,365.0 272.4,364.5 272.6,365.3 272.8,365.4 273.0,365.6 273.2,365.9 273.4,365.4 273.6,366.6 273.8,365.9 274.0,366.3 274.3,366.4 274.5,365.3 274.7,365.5 274.9,365.3 275.1,364.4 275.3,366.2 275.5,365.8 275.7,365.8 275.9,364.9 276.1,365.7 276.3,366.0 276.5,365.8 276.7,364.6 276.9,366.2 277.2,365.3 277.4,366.3 277.6,365.8 277.8,366.3 278.0,365.2 278.2,364.5 278.4,365.8 278.6,365.8 278.8,365.1 279.0,365.2 279.2,365.2 279.4,365.9 279.6,365.0 279.8,366.2 280.1,365.5 280.3,366.4 280.5,364.7 280.7,365.7 280.9,365.7 281.1,366.2 281.3,366.6 281.5,366.3 281.7,366.0 281.9,365.1 282.1,365.0 282.3,365.8 282.5,364.8 282.7,365.0 282.9,365.9 283.2,364.6 283.4,364.8 283.6,365.5 283.8,365.7 284.0,364.5 284.2,365.3 284.4,365.6 284.6,365.3 284.8,364.6 285.0,364.7 285.2,365.7 285.4,364.7 285.6,366.1 285.8,366.1 286.1,365.0 286.3,364.7 286.5,366.2 286.7,365.9 286.9,366.0 287.1,365.9 287.3,365.2 287.5,364.9 287.7,364.4 287.9,365.2 288.1,365.4 288.3,365.5 288.5,365.2 288.7,365.5 289.0,365.6 289.2,364.9 289.4,364.4 289.6,365.7 289.8,365.7 290.0,365.4 290.2,364.1 290.4,365.3 290.6,364.7 290.8,364.5 291.0,365.2 291.2,365.9 291.4,365.5 291.6,364.3 291.9,363.9 292.1,363.7 292.3,364.5 292.5,363.4 292.7,362.6 292.9,362.8 293.1,362.1 293.3,362.8 293.5,361.5 293.7,360.3 293.9,358.8 294.1,357.3 294.3,355.3 294.5,353.3 294.8,351.0 295.0,348.6 295.2,344.5 295.4,340.8 295.6,337.3 295.8,333.6 295.9,332.7 296.0,335.2 296.2,337.7 296.2,338.2 296.4,341.7 296.6,344.6 296.8,348.5 297.0,349.7 297.2,352.1 297.4,355.9 297.6,357.6 297.9,357.7 298.1,359.9 298.3,361.3 298.5,362.2 298.7,363.3 298.9,363.3 299.1,362.8 299.3,364.3 299.5,364.9 299.7,363.9 299.9,364.1 300.1,363.8 300.3,363.8 300.5,365.8 300.8,364.7 301.0,364.0 301.2,365.4 301.4,365.0 301.6,365.6 301.8,365.4 302.0,365.6 302.2,365.1 302.4,365.0 302.6,366.2 302.8,364.9 303.0,364.8 303.2,366.0 303.4,366.2 303.7,366.3 303.9,365.9 304.1,365.8 304.3,366.3 304.5,365.4 304.7,365.5 304.9,365.4 305.1,364.7 305.3,364.9 305.5,365.7 305.7,364.7 305.9,366.2 306.1,364.6 306.3,365.2 306.6,364.9 306.8,365.9 307.0,365.9 307.2,364.9 307.4,365.3 307.6,365.6 307.8,365.4 308.0,363.9 308.2,365.7 308.4,365.5 308.6,365.1 308.8,364.9 309.0,365.2 309.2,365.3 309.4,364.3 309.7,364.9 309.9,365.9 310.1,364.8 310.3,364.8 310.5,364.5 310.7,365.4 310.9,364.9 311.1,365.6 311.3,363.9 311.5,364.3 311.7,365.4 311.9,365.1 312.1,364.8 312.3,364.4 312.6,363.6 312.8,363.1 313.0,364.6 313.2,364.6 313.4,364.2 313.6,364.0 313.8,363.2 314.0,363.8 314.2,362.8 314.4,362.6 314.6,363.4 314.8,362.6 315.0,362.4 315.2,361.3 315.5,361.4 315.7,361.0 315.9,361.3 316.1,360.9 316.3,361.4 316.5,361.3 316.7,360.6 316.9,359.6 317.1,359.4 317.3,358.6 317.5,358.0 317.7,358.9 317.9,358.4 318.1,358.6 318.4,357.1 318.6,357.0 318.8,357.2 318.9,355.7 319.0,354.7 319.0,355.1 319.2,356.4 319.2,355.3 319.4,354.7 319.6,356.2 319.8,355.9 320.0,357.0 320.2,357.3 320.4,357.0 320.6,358.4 320.8,357.6 321.0,358.6 321.3,358.7 321.5,358.8 321.7,357.6 321.9,357.9 322.1,357.6 322.3,358.2 322.5,358.5 322.7,357.8 322.9,358.7 323.1,358.1 323.3,358.3 323.5,358.6 323.6,357.6 323.7,358.6 323.9,357.6 324.1,356.5 324.4,356.4 324.6,356.2 324.6,356.1 324.8,355.8 325.0,356.1 325.2,355.3 325.4,356.0 325.6,355.6 325.7,355.4 325.8,354.0 326.0,352.9 326.2,354.3 326.2,354.2 326.4,354.9 326.6,354.8 326.8,356.0 327.0,355.7 327.3,355.4 327.5,356.1 327.7,357.7 327.9,358.2 328.1,357.5 328.3,358.1 328.5,358.9 328.7,360.5 328.9,360.7 329.1,359.9 329.3,360.3 329.5,361.7 329.7,362.1 329.9,362.1 330.2,362.0 330.4,363.0 330.6,361.8 330.8,361.4 331.0,363.6 331.2,362.5 331.4,362.1 331.6,363.9 331.8,363.5 332.0,364.7 332.2,363.7 332.4,364.3 332.6,364.6 332.8,364.7 333.1,364.0 333.3,364.1 333.5,364.5 333.7,364.9 333.9,365.2 334.1,364.1 334.3,364.6 334.5,364.8 334.7,364.0 334.9,364.4 335.1,364.8 335.3,364.5 335.5,365.3 335.7,365.3 335.9,364.8 336.2,364.5 336.4,365.9 336.6,366.2 336.8,365.2 337.0,365.8 337.2,365.2 337.4,365.8 337.6,365.2 337.8,365.9 338.0,366.6 338.2,366.4 338.4,365.2 338.6,365.9 338.8,365.4 339.1,365.7 339.3,365.3 339.5,366.1 339.7,364.8 339.9,365.0 340.1,365.6 340.3,364.8 340.5,366.0 340.7,365.4 340.9,366.7 341.1,365.6 341.3,365.9 341.5,366.0 341.7,366.4 342.0,365.3 342.2,364.5 342.4,366.3 342.6,365.8 342.8,366.4 343.0,365.7 343.2,365.8 343.4,365.2 343.6,366.5 343.8,364.7 344.0,365.8 344.2,365.3 344.4,365.8 344.6,366.5 344.9,364.8 345.1,365.9 345.3,366.6 345.5,365.5 345.7,365.0 345.9,366.3 346.1,365.9 346.3,366.8 346.5,366.0 346.7,365.6 346.9,366.0 347.1,366.3 347.3,365.4 347.5,366.7 347.8,365.8 348.0,365.9 348.2,366.3 348.4,365.1 348.6,365.3 348.8,365.8 349.0,365.4 349.2,365.2 349.4,366.1 349.6,366.5 349.8,365.3 350.0,364.8 350.2,366.4 350.4,366.3 350.6,365.2 350.9,366.6 351.1,366.4 351.3,366.2 351.5,365.0 351.7,365.6 351.9,365.7 352.1,365.5 352.3,366.3 352.5,366.6 352.7,366.4 352.9,365.1 353.1,365.6 353.3,365.8 353.5,365.2 353.8,366.1 354.0,366.3 354.2,365.4 354.4,365.9 354.6,366.0 354.8,366.3 355.0,365.5 355.2,366.1 355.4,365.4 355.6,365.6 355.8,366.9 356.0,366.2 356.2,365.4 356.4,366.4 356.7,365.2 356.9,365.3 357.1,365.8 357.3,365.2 357.5,366.5 357.7,364.9 357.9,364.6 358.1,365.5 358.3,365.3 358.5,365.7 358.7,365.8 358.9,366.3 359.1,365.2 359.3,364.9 359.6,366.0 359.8,364.7 360.0,366.6 360.2,365.9 360.4,365.6 360.6,366.1 360.8,365.3 361.0,365.3 361.2,364.8 361.4,364.6 361.6,365.1 361.8,366.0 362.0,365.3 362.2,365.5 362.4,366.2 362.7,365.1 362.9,365.6 363.1,365.1 363.3,365.4 363.5,366.3 363.7,366.0 363.9,365.9 364.1,364.4 364.3,365.2 364.5,366.2 364.7,365.8 364.9,365.7 365.1,365.6 365.3,364.8 365.6,365.2 365.8,365.3 366.0,363.3 366.2,363.4 366.4,363.7 366.6,364.7 366.8,363.1 367.0,363.9 367.2,364.5 367.4,363.1 367.6,363.9 367.8,363.0 368.0,362.6 368.2,361.8 368.5,363.1 368.7,362.0 368.9,362.4 369.1,361.7 369.3,361.0 369.5,359.7 369.7,360.8 369.9,361.2 370.1,359.4 370.3,359.8 370.5,359.4 370.7,357.7 370.9,358.2 371.1,358.2 371.4,358.0 371.6,357.5 371.8,355.6 372.0,356.7 372.2,356.7 372.4,355.6 372.6,355.6 372.8,353.8 372.8,355.8 373.0,354.9 373.2,353.9 373.3,355.2 373.4,354.0 373.6,353.9 373.8,353.0 373.8,352.4 374.0,353.7 374.3,351.3 374.5,351.3 374.7,350.9 374.9,351.0 375.1,349.6 375.3,347.9 375.5,346.6 375.7,345.4 375.9,343.8 376.1,342.6 376.3,340.4 376.5,339.9 376.7,338.0 376.9,334.8 377.1,332.9 377.4,330.8 377.6,328.0 377.8,324.8 378.0,321.0 378.2,319.0 378.4,316.2 378.4,315.9 378.6,318.6 378.6,319.3 378.8,322.8 379.0,325.0 379.2,328.1 379.3,329.5 379.4,331.7 379.6,334.8 379.8,336.4 380.0,339.9 380.3,341.9 380.5,344.5 380.7,347.2 380.9,348.9 381.1,350.5 381.3,352.6 381.5,353.2 381.7,354.8 381.9,355.1 382.1,357.1 382.3,358.3 382.5,359.2 382.7,359.1 382.9,360.9 383.2,360.4 383.4,360.7 383.6,361.0 383.8,361.5 384.0,363.2 384.2,363.0 384.4,362.2 384.6,363.5 384.8,363.3 385.0,364.3 385.2,364.4 385.4,363.8 385.6,365.0 385.8,364.2 386.1,363.6 386.3,364.7 386.5,364.7 386.7,365.3 386.9,365.2 387.1,365.4 387.3,365.1 387.5,365.0 387.7,364.2 387.9,365.5 388.1,364.3 388.3,365.3 388.5,365.2 388.7,364.5 389.0,364.9 389.2,364.6 389.4,365.5 389.6,365.0 389.8,365.4 390.0,364.5 390.2,365.6 390.4,364.9 390.6,365.9 390.8,366.3 391.0,364.3 391.2,364.6 391.4,364.7 391.6,366.1 391.8,365.7 392.1,364.7 392.3,365.2 392.5,365.7 392.7,364.7 392.9,364.2 393.1,364.5 393.3,364.4 393.5,364.2 393.7,365.1 393.9,364.0 394.1,365.0 394.3,364.6 394.5,363.9 394.7,364.4 395.0,365.5 395.2,365.3 395.4,365.6 395.6,364.5 395.8,363.3 396.0,363.1 396.2,364.3 396.4,363.4 396.6,363.6 396.8,363.4 397.0,363.3 397.2,363.2 397.4,362.4 397.6,362.9 397.9,362.1 398.1,361.8 398.3,362.2 398.5,361.7 398.7,361.2 398.9,360.0 399.1,359.7 399.3,361.0 399.5,358.9 399.7,359.5 399.7,359.6 399.9,359.4 400.1,359.2 400.2,360.3 400.3,360.9 400.5,360.7 400.8,361.0 400.8,360.8 401.0,360.3 401.2,361.5 401.4,362.1 401.6,361.5 401.8,362.7 401.8,362.8 402.0,361.3 402.2,361.4 402.4,362.8 402.6,362.6 402.8,361.9 403.0,362.7 403.2,362.0 403.4,364.0 403.6,363.0 403.9,363.9 404.1,364.0 404.3,363.0 404.5,363.5 404.7,363.9 404.9,364.0 405.1,362.2 405.3,363.1 405.5,363.0 405.7,363.7 405.9,363.8 406.1,361.9 406.3,362.9 406.5,362.7 406.8,362.0 407.0,362.4 407.2,361.7 407.4,361.6 407.6,362.6 407.8,361.7 408.0,362.1 408.0,362.5 408.2,361.8 408.4,363.3 408.6,363.2 408.8,363.4 409.0,363.7 409.2,362.3 409.4,362.8 409.7,362.6 409.9,362.9 410.1,363.1 410.3,364.1 410.5,364.8 410.7,363.8 410.9,363.6 411.1,363.4 411.3,365.0 411.5,364.3 411.7,365.1 411.9,365.6 412.1,364.2 412.3,365.5 412.6,365.5 412.8,365.1 413.0,365.5 413.2,366.1 413.4,365.2 413.6,364.9 413.8,365.8 414.0,366.0 414.2,366.3 414.4,366.7 414.6,366.5 414.8,365.9 415.0,365.9 415.2,366.0 415.5,366.1 415.7,367.0 415.9,365.4 416.1,366.8 416.3,365.6 416.5,365.2 416.7,366.1 416.9,366.6 417.1,367.3 417.3,366.8 417.5,366.7 417.7,366.9 417.9,365.5 418.1,366.2 418.3,367.2 418.6,366.4 418.8,366.2 419.0,366.2 419.2,366.1 419.4,366.2 419.6,366.8 419.8,367.2 420.0,366.3 420.2,366.2 420.4,366.2 420.6,365.8 420.8,366.5 421.0,366.6 421.2,366.9 421.5,366.7 421.7,365.3 421.9,365.8 422.1,365.2 422.3,366.3 422.5,366.7 422.7,366.6 422.9,367.1 423.1,367.1 423.3,366.1 423.5,366.8 423.7,366.4 423.9,367.3 424.1,366.0 424.4,365.6 424.6,366.7 424.8,365.6 425.0,366.3 425.2,365.6 425.4,366.9 425.6,366.5 425.8,365.3 426.0,365.9 426.2,366.6 426.4,366.7 426.6,366.1 426.8,366.9 427.0,367.0 427.3,367.3 427.5,366.5 427.7,365.7 427.9,365.5 428.1,366.7 428.3,366.3 428.5,366.3 428.7,365.9 428.9,366.9 429.1,365.6 429.3,367.2 429.5,367.0 429.7,366.4 429.9,366.6 430.1,365.8 430.4,365.7 430.6,366.7 430.8,366.7 431.0,366.7 431.2,366.8 431.4,365.2 431.6,365.7 431.8,365.4 432.0,366.7 432.2,366.3 432.4,367.3 432.6,366.6 432.8,366.9 433.0,366.8 433.3,365.9 433.5,366.0 433.7,366.8 433.9,366.5 434.1,366.6 434.3,365.7 434.5,366.0 434.7,365.9 434.9,366.8 435.1,367.2 435.3,367.4 435.5,366.7 435.7,366.8 435.9,367.0 436.2,366.6 436.4,366.1 436.6,366.2 436.8,367.2 437.0,366.4 437.2,365.4 437.4,365.3 437.6,366.1 437.8,365.7 438.0,366.9 438.2,365.6 438.4,365.6 438.6,366.7 438.8,367.1 439.1,367.0 439.3,366.4 439.5,366.3 439.7,366.1 439.9,367.1 440.1,366.1 440.3,366.7 440.5,365.9 440.7,366.0 440.9,365.5 441.1,367.0 441.3,366.5 441.5,366.8 441.7,365.9 442.0,365.6 442.2,365.8 442.4,366.3 442.6,365.9 442.8,364.9 443.0,366.5 443.2,365.4 443.4,366.2 443.6,366.6 443.8,366.3 444.0,364.8 444.2,365.8 444.4,365.3 444.6,364.3 444.8,364.8 445.1,365.3 445.3,364.5 445.5,365.2 445.7,364.5 445.9,363.1 446.1,363.5 446.3,363.2 446.5,363.2 446.7,363.1 446.9,362.7 447.1,362.6 447.3,361.7 447.5,361.9 447.7,361.3 448.0,361.1 448.2,359.8 448.4,360.8 448.6,361.1 448.8,359.3 449.0,359.9 449.2,359.9 449.4,358.7 449.4,359.3 449.6,359.5 449.8,359.0 449.9,359.4 450.0,359.5 450.2,360.0 450.4,359.8 450.4,359.7 450.6,360.9 450.9,361.0 451.1,361.1 451.3,361.0 451.5,361.6 451.7,361.2 451.9,362.1 452.1,362.2 452.3,361.5 452.5,361.5 452.7,362.2 452.9,362.4 453.1,362.5 453.3,362.0 453.5,362.6 453.8,362.1 454.0,363.5 454.2,362.0 454.4,363.2 454.6,362.0 454.8,363.4 455.0,362.1 455.2,361.9 455.4,362.7 455.6,363.5 455.6,363.7 455.8,362.3 456.0,362.9 456.2,362.8 456.4,363.7 456.7,364.0 456.9,364.8 457.1,364.5 457.3,364.1 457.5,364.8 457.7,363.4 457.9,363.8 458.1,364.2 458.3,364.7 458.5,364.1 458.7,365.7 458.9,364.7 459.1,364.6 459.3,366.0 459.5,365.2 459.8,364.9 460.0,365.4 460.2,366.5 460.4,365.6 460.6,365.9 460.8,366.9 461.0,365.0 461.2,366.0 461.4,365.4 461.6,366.0 461.8,366.0 462.0,365.6 462.2,365.3 462.4,366.9 462.7,366.6 462.9,366.8 463.1,367.1 463.3,366.6 463.5,366.6 463.7,367.1 463.9,365.7 464.1,364.7 464.3,366.4 464.5,366.2 464.7,367.0 464.9,366.5 465.1,366.1 465.3,367.1 465.6,367.1 465.8,366.0 466.0,366.7 466.2,367.3 466.4,366.3 466.6,366.9 466.8,367.5 467.0,365.9 467.2,365.8 467.4,366.8 467.6,366.2 467.8,366.1 468.0,365.6 468.2,366.0 468.5,367.5 468.7,366.3 468.9,366.0 469.1,366.3 469.3,366.1 469.5,367.7 469.7,366.3 469.9,366.1 470.1,366.5 470.3,365.8 470.5,366.2 470.7,366.3 470.9,367.1 471.1,366.4 471.3,366.3 471.6,366.4 471.8,366.6 472.0,367.3 472.2,367.5 472.4,366.7 472.6,367.3 472.8,366.8 473.0,367.2 473.2,366.7 473.4,366.5 473.6,367.0 473.8,366.8 474.0,366.2 474.2,366.4 474.5,367.7 474.7,366.2 474.9,366.3 475.1,366.7 475.3,367.0 475.5,366.4 475.7,366.2 475.9,366.3 476.1,366.5 476.3,365.7 476.5,365.7 476.7,366.4 476.9,367.2 477.1,366.9 477.4,367.2 477.6,366.5 477.8,367.0 478.0,366.8 478.2,367.2 478.4,366.7 478.6,365.8 478.8,366.4 479.0,366.7 479.2,367.0 479.4,365.7 479.6,366.3 479.8,367.0 480.0,366.6 480.3,367.2 480.5,366.4 480.7,366.8 480.9,365.8 481.1,367.2 481.3,367.1 481.5,367.9 481.7,367.0 481.9,367.1 482.1,366.4 482.3,367.4 482.5,366.6 482.7,366.9 482.9,367.5 483.2,366.0 483.4,367.2 483.6,367.1 483.8,366.1 484.0,367.0 484.2,366.9 484.4,367.7 484.6,367.9 484.8,366.4 485.0,367.7 485.2,366.1 485.4,367.1 485.6,367.0 485.8,367.5 486.0,366.5 486.3,366.0 486.5,367.8 486.7,366.2 486.9,367.4 487.1,367.3 487.3,366.7 487.5,367.1 487.7,366.3 487.9,367.1 488.1,367.5 488.3,366.0 488.5,367.2 488.7,367.9 488.9,366.6 489.2,366.4 489.4,366.8 489.6,367.0 489.8,366.4 490.0,366.1 490.2,366.7 490.4,366.1 490.6,366.6 490.8,367.1 491.0,366.2 491.2,366.7 491.4,366.1 491.6,366.9 491.8,366.6 492.1,367.1 492.3,366.0 492.5,366.7 492.7,365.9 492.9,366.5 493.1,365.6 493.3,366.7 493.5,367.4 493.7,366.6 493.9,366.6 494.1,367.4 494.3,367.5 494.5,367.2 494.7,366.7 495.0,367.1 495.2,367.4 495.4,366.3 495.6,367.6 495.8,367.4 496.0,366.3 496.2,366.0 496.4,366.7 496.6,367.1 496.8,365.7 497.0,367.0 497.2,366.9 497.4,367.2 497.6,365.7 497.8,367.0 498.1,366.4 498.3,366.9 498.5,366.3 498.7,367.4 498.9,367.7 499.1,367.0 499.3,366.5 499.5,368.0 499.7,367.4 499.9,366.8 500.1,366.2 500.3,366.2 500.5,366.3 500.7,367.4 501.0,366.1 501.2,366.5 501.4,366.6 501.6,367.2 501.8,365.7 502.0,366.1 502.2,367.3 502.4,366.3 502.6,367.6 502.8,367.3 503.0,367.4 503.2,367.3 503.4,366.8 503.6,367.5 503.9,367.5 504.1,366.2 504.3,365.7 504.5,365.8 504.7,366.9 504.9,367.4 505.1,367.3 505.3,365.9 505.5,367.4 505.7,367.3 505.9,366.1 506.1,365.9 506.3,365.8 506.5,367.3 506.8,367.4 507.0,366.7 507.2,367.3 507.4,366.4 507.6,367.0 507.8,367.1 508.0,366.3 508.2,367.1 508.4,366.1 508.6,366.9 508.8,366.1 509.0,365.6 509.2,365.3 509.4,365.8 509.7,366.7 509.9,366.2 510.1,367.1 510.3,367.1 510.5,365.7 510.7,366.1 510.9,364.9 511.1,366.6 511.3,365.4 511.5,365.6 511.7,365.1 511.9,365.5 512.1,366.5 512.3,365.5 512.5,365.3 512.8,365.9 513.0,365.5 513.2,365.7 513.4,365.4 513.6,364.2 513.8,365.0 514.0,363.8 514.2,364.7 514.4,364.5 514.6,364.8 514.8,364.4 515.0,364.5 515.2,364.8 515.4,363.3 515.7,363.7 515.9,363.8 516.1,362.6 516.3,362.9 516.5,363.4 516.7,362.0 516.9,362.8 517.1,361.6 517.3,361.6 517.5,360.2 517.7,361.1 517.7,360.3 517.9,361.2 518.1,359.9 518.3,360.8 518.6,359.3 518.8,359.8 518.8,359.9 519.0,360.7 519.2,360.6 519.4,360.2 519.6,359.7 519.8,360.2 519.8,359.9 520.0,359.8 520.2,359.0 520.4,360.2 520.6,359.9 520.8,359.2 521.0,359.3 521.2,359.4 521.3,359.8 521.5,360.0 521.7,359.8 521.9,360.6 522.1,359.0 522.3,359.2 522.5,358.5 522.7,359.2 522.9,358.6 523.1,359.5 523.3,359.1 523.5,359.1 523.7,359.1 523.9,359.2 523.9,359.7 524.1,359.2 524.4,359.0 524.5,359.1 524.6,360.2 524.8,359.8 525.0,360.6 525.2,359.2 525.4,360.0 525.6,360.0 525.8,361.4 526.0,360.2 526.2,361.7 526.4,360.9 526.6,361.2 526.8,361.7 527.0,362.4 527.2,363.2 527.5,363.5 527.7,363.5 527.9,363.6 528.1,363.3 528.3,363.2 528.5,364.3 528.7,363.8 528.9,363.5 529.1,364.6 529.3,365.1 529.5,364.9 529.7,363.9 529.9,365.6 530.1,365.4 530.4,366.1 530.6,364.9 530.8,366.1 531.0,365.0 531.2,365.8 531.4,365.4 531.6,365.9 531.8,365.6 532.0,366.4 532.2,366.1 532.4,366.9 532.6,365.8 532.8,366.1 533.0,364.9 533.3,365.8 533.5,365.7 533.7,365.3 533.9,366.2 534.1,366.0 534.3,365.6 534.5,366.3 534.7,366.1 534.9,366.5 535.1,366.9 535.3,365.6 535.5,365.8 535.7,367.3 535.9,367.5 536.2,366.1 536.4,367.1 536.6,367.1 536.8,366.8 537.0,367.3 537.2,365.6 537.4,366.0 537.6,367.5 537.8,366.5 538.0,365.6 538.2,367.1 538.4,365.5 538.6,365.4 538.8,366.3 539.0,366.4 539.3,365.6 539.5,367.1 539.7,366.2 539.9,366.6 540.1,365.7 540.3,365.9 540.5,367.1 540.7,366.3 540.9,365.6 541.1,365.8 541.3,366.6 541.5,365.8 541.7,365.1 541.9,365.6 542.2,365.9 542.4,365.0 542.6,365.0 542.8,365.1 543.0,365.5 543.2,364.7 543.4,364.6 543.6,364.0 543.8,363.6 544.0,363.5 544.2,363.9 544.4,364.2 544.6,363.4 544.8,361.7 545.1,363.0 545.2,362.9 545.3,361.8 545.5,361.9 545.7,362.5 545.7,363.9 545.9,364.3 546.1,364.2 546.3,363.1 546.5,364.5 546.7,364.3 546.9,364.8 547.1,364.6 547.3,365.5 547.5,364.6 547.7,365.7 548.0,365.6 548.2,366.8 548.4,366.0 548.6,365.8 548.8,365.8 549.0,367.1 549.2,366.3 549.4,367.0 549.6,365.2 549.8,367.4 550.0,366.5 550.2,366.5 550.4,367.1 550.6,365.8 550.9,367.2 551.1,365.8 551.3,366.5 551.5,366.2 551.7,366.5 551.9,366.7 552.1,367.6 552.3,367.3 552.5,368.3 552.7,367.3 552.9,366.8 553.1,367.0 553.3,366.8 553.5,367.6 553.7,366.1 554.0,367.1 554.2,367.0 554.4,366.3 554.6,366.3 554.8,366.5 555.0,367.6 555.2,367.5 555.4,366.5 555.6,366.2 555.8,367.5 556.0,365.9 556.2,365.7 556.4,366.5 556.6,366.8 556.9,366.6 557.1,366.2 557.3,366.3 557.5,366.1 557.7,366.3 557.9,367.2 558.1,366.7 558.3,367.9 558.5,367.4 558.7,366.0 558.9,366.0 559.1,366.7 559.3,367.6 559.5,365.9 559.8,366.3 560.0,366.1 560.2,366.8 560.4,367.7 560.6,367.7 560.8,367.5 561.0,365.8 561.2,366.3 561.4,365.9 561.6,366.8 561.8,365.8 562.0,366.5 562.2,366.1 562.4,366.0 562.7,366.0 562.9,366.9 563.1,367.7 563.3,366.6 563.5,367.7 563.7,367.9 563.9,367.3 564.1,367.5 564.3,366.6 564.5,365.6 564.7,367.3 564.9,367.7 565.1,367.0 565.3,366.2 565.5,367.3 565.8,367.1 566.0,365.9 566.2,366.8 566.4,367.0 566.6,367.0 566.8,367.5 567.0,367.1 567.2,367.1 567.4,367.0 567.6,367.2 567.8,366.1 568.0,366.0 568.2,367.2 568.4,367.8 568.7,366.1 568.9,367.4 569.1,366.0 569.3,367.0 569.5,366.6 569.7,366.5 569.9,366.6 570.1,366.9 570.3,366.0 570.5,367.2 570.7,366.5 570.9,366.4 571.1,366.8 571.3,367.0 571.6,365.5 571.8,366.0 572.0,366.5 572.2,366.6 572.4,366.9 572.6,367.1 572.8,365.6 573.0,365.9 573.2,366.5 573.4,366.4 573.6,366.6 573.8,366.6 574.0,365.9 574.2,366.3 574.5,366.2 574.7,365.6 574.9,366.9 575.1,366.3 575.3,366.7 575.5,365.9 575.7,366.3 575.9,366.7 576.1,365.0 576.3,365.5 576.5,364.7 576.7,365.7 576.9,365.6 577.1,364.9 577.4,365.5 577.6,366.1 577.8,365.8 578.0,365.9 578.2,364.8 578.4,364.8 578.6,364.2 578.8,364.3 579.0,365.1 579.2,364.8 579.4,364.5 579.6,364.9 579.8,364.7 580.0,363.6 580.2,363.4 580.5,363.0 580.7,363.7 580.9,363.0 581.1,361.9 581.3,363.4 581.5,362.8 581.7,362.2 581.9,362.2 582.1,362.8 582.3,363.3 582.5,363.6 582.7,362.6 582.9,362.2 583.1,362.7 583.4,362.5 583.6,361.1 583.8,362.8 584.0,362.9 584.0,362.5 584.2,362.8 584.4,362.1 584.6,362.7 584.8,361.6 585.0,362.7 585.0,361.3 585.2,362.2 585.4,362.3 585.6,363.1 585.8,363.2 586.0,361.8 586.3,363.2 586.5,362.4 586.7,363.0 586.9,363.4 587.1,363.2 587.1,363.3 587.3,363.9 587.5,363.4 587.7,362.8 587.9,364.4 588.1,363.9 588.3,364.9 588.5,364.3 588.7,363.9 588.9,363.9 589.2,364.7 589.4,365.2 589.6,365.8 589.8,365.8 590.0,364.3 590.2,364.6 590.4,366.0 590.6,365.7 590.8,365.1 591.0,365.5 591.2,365.2 591.4,365.9 591.6,365.2 591.8,365.5 592.0,364.7 592.3,365.3 592.5,365.3 592.7,366.0 592.9,366.0 593.1,364.8 593.3,364.8 593.5,366.2 593.7,365.7 593.9,367.1 594.1,365.6 594.3,366.3 594.5,365.6 594.7,366.5 594.9,366.2 595.2,366.3 595.4,366.0 595.6,366.1 595.8,366.9 596.0,366.0 596.2,366.1 596.4,365.8 596.6,366.4 596.8,366.6 597.0,366.6 597.2,367.5 597.4,366.6 597.6,366.4 597.8,366.0 598.1,366.1 598.3,366.7 598.5,366.1 598.7,365.5 598.9,366.6 599.1,366.1 599.3,365.5 599.5,367.1 599.7,367.2 599.9,367.1 600.1,366.5 600.3,365.5 600.5,367.0 600.7,367.3 601.0,366.1 601.2,366.3 601.4,365.5 601.6,366.2 601.8,366.3 602.0,365.2 602.2,364.4 602.4,365.5 602.6,365.5 602.8,365.7 603.0,365.4 603.2,365.5 603.4,365.4 603.6,365.0 603.9,364.5 604.1,364.4 604.3,364.3 604.5,363.7 604.7,364.8 604.9,364.5 605.1,364.2 605.3,362.5 605.5,362.2 605.7,362.2 605.9,362.3 606.1,361.5 606.3,361.5 606.5,361.2 606.7,360.7 607.0,361.3 607.2,360.0 607.4,359.3 607.6,359.7 607.8,358.9 608.0,358.6 608.2,357.7 608.4,356.3 608.6,357.5 608.8,356.6 609.0,355.2 609.2,355.0 609.3,355.0 609.4,356.4 609.6,355.0 609.9,356.8 609.9,357.0 610.1,356.9 610.3,356.5 610.4,357.0 610.5,358.6 610.7,358.8 610.9,358.3 611.1,359.8 611.3,360.2 611.5,360.0 611.7,360.6 611.9,359.9 612.1,361.1 612.3,361.0 612.5,362.9 612.8,362.5 613.0,361.7 613.2,362.3 613.4,363.5 613.6,364.6 613.8,364.5 614.0,364.2 614.2,363.2 614.4,365.0 614.6,364.2 614.8,365.0 615.0,364.6 615.2,364.0 615.4,365.6 615.7,365.0 615.9,365.7 616.1,366.1 616.3,365.0 616.5,365.9 616.7,366.7 616.9,366.0 617.1,366.2 617.3,366.0 617.5,366.2 617.7,367.0 617.9,366.2 618.1,366.5 618.3,366.2 618.6,366.9 618.8,365.6 619.0,365.9 619.2,366.1 619.4,365.9 619.6,365.9 619.8,366.6 620.0,366.5 620.2,366.7 620.4,367.7 620.6,366.2 620.8,365.5 621.0,367.0 621.2,366.1 621.4,366.8 621.7,366.3 621.9,366.5 622.1,367.0 622.3,366.8 622.5,367.4 622.7,367.4 622.9,366.9 623.1,366.5 623.3,366.6 623.5,367.1 623.7,365.9 623.9,367.5 624.1,367.6 624.3,367.0 624.6,366.8 624.8,365.2 625.0,365.5 625.2,366.1 625.4,367.0 625.6,366.0 625.8,367.4 626.0,367.9 626.2,366.9 626.4,366.4 626.6,367.8 626.8,366.5 627.0,367.1 627.2,367.3 627.5,366.2 627.7,366.4 627.9,367.6 628.1,367.3 628.3,366.1 628.5,365.7 628.7,366.0 628.9,366.1 629.1,366.6 629.3,367.1 629.5,366.3 629.7,366.2 629.9,367.5 630.1,365.3 630.4,367.0 630.6,366.6 630.8,367.0 631.0,365.8 631.2,366.2 631.4,366.0 631.6,365.2 631.8,366.2 632.0,366.0 632.2,365.7 632.4,366.6 632.6,366.4 632.8,365.3 633.0,365.3 633.2,366.9 633.5,365.7 633.7,365.9 633.9,365.8 634.1,366.1 634.3,367.3 634.5,366.7 634.7,365.4 634.9,364.6 635.1,365.7 635.3,365.2 635.5,366.7 635.7,366.8 635.9,366.6 636.1,365.1 636.4,366.2 636.6,365.1 636.8,365.1 637.0,366.4 637.2,365.2 637.4,365.6 637.6,365.2 637.8,364.9 638.0,365.9 638.2,366.2 638.4,365.6 638.6,365.2 638.8,363.9 639.0,364.3 639.3,365.8 639.5,364.9 639.7,366.0 639.9,365.8 640.1,366.0 640.3,366.2 640.5,365.8 640.7,365.0 640.9,364.8 641.1,365.6 641.3,364.4 641.5,366.0 641.7,364.5 641.9,364.7 641.9,364.4 642.2,365.6 642.4,365.8 642.6,366.4 642.8,365.6 643.0,365.0 643.2,365.7 643.4,365.4 643.6,365.9 643.8,365.3 644.0,365.7 644.0,366.0 644.2,365.6 644.4,364.1 644.6,365.1 644.8,364.5 645.1,365.1 645.1,365.8 645.3,366.3 645.5,365.4 645.7,365.5 645.9,365.2 646.1,366.5 646.1,364.7 646.3,366.4 646.5,365.5 646.7,365.7 646.9,365.6 647.1,365.6 647.3,364.7 647.5,366.3 647.7,366.2 647.9,366.7 648.2,366.5 648.4,365.8 648.6,365.0 648.8,366.4 649.0,366.2 649.2,365.5 649.4,366.5 649.6,365.6 649.8,365.2 650.0,365.5 650.2,366.2 650.4,366.6 650.6,365.9 650.8,365.2 651.1,367.0 651.3,367.0 651.5,366.2 651.7,366.5 651.9,366.0 652.1,366.2 652.3,366.5 652.5,366.3 652.7,367.2 652.9,366.5 653.1,367.2 653.3,366.9 653.5,367.5 653.7,367.6 654.0,367.6 654.2,365.7 654.4,367.3 654.6,367.4 654.8,366.3 655.0,365.9 655.2,366.5 655.4,367.2 655.6,366.1 655.8,365.8 656.0,365.8 656.2,366.6 656.4,366.7 656.6,367.5 656.9,366.1 657.1,366.0 657.3,366.6 657.5,367.4 657.7,366.2 657.9,366.4 658.1,366.3 658.3,366.8 658.5,366.0 658.7,367.1 658.9,367.4 659.1,365.9 659.3,366.8 659.5,367.8 659.7,366.8 660.0,366.0 660.2,367.3 660.4,367.4 660.6,366.8 660.8,366.6 661.0,367.5 661.2,366.2 661.4,367.1 661.6,366.4 661.8,367.9 662.0,366.8 662.2,366.6 662.4,367.0 662.6,366.9 662.9,367.8 663.1,365.9 663.3,366.9 663.5,367.4 663.7,366.3 663.9,366.9 664.1,366.3 664.3,366.3 664.5,366.0 664.7,367.4 664.9,366.2 665.1,367.6 665.3,366.8 665.5,366.9 665.8,366.3 666.0,366.9 666.2,367.2 666.4,366.3 666.6,367.8 666.8,367.4 667.0,368.5 667.2,367.1 667.4,367.3 667.6,368.0 667.8,366.6 668.0,366.3 668.2,366.4 668.4,367.0 668.7,367.7 668.9,367.4 669.1,366.4 669.3,367.3 669.5,367.9 669.7,367.7 669.9,367.3 670.1,366.3 670.3,367.3 670.5,367.3 670.7,365.8 670.9,367.7 671.1,367.7 671.3,367.2 671.6,366.2 671.8,366.3 672.0,366.9 672.2,367.4 672.4,366.6 672.6,367.0 672.8,366.2 673.0,366.3" fill="none" stroke="#000080" stroke-width="1.60" stroke-linejoin="round"/>
<polyline points="51.9,409.6 52.1,409.4 52.3,408.3 52.5,409.1 52.7,408.3 52.9,409.0 53.1,408.5 53.3,409.8 53.6,409.5 53.8,409.9 54.0,409.0 54.2,410.0 54.4,409.0 54.6,409.0 54.8,409.9 55.0,409.7 55.2,408.7 55.4,409.0 55.6,408.1 55.8,409.1 56.0,408.7 56.2,408.1 56.5,408.2 56.7,408.8 56.9,408.8 57.1,409.8 57.3,408.0 57.5,409.8 57.7,407.8 57.9,407.8 58.1,408.3 58.3,408.1 58.5,409.1 58.7,409.2 58.9,407.8 59.1,408.8 59.4,408.3 59.6,408.9 59.8,408.2 60.0,408.2 60.2,409.4 60.4,408.2 60.6,407.5 60.8,408.6 61.0,408.7 61.2,408.4 61.4,407.8 61.6,408.2 61.8,408.9 62.0,408.4 62.3,407.5 62.5,408.2 62.7,408.4 62.9,407.2 63.1,406.2 63.3,407.6 63.5,406.2 63.7,405.2 63.9,404.6 64.1,403.6 64.3,402.3 64.5,399.7 64.7,395.7 64.9,389.9 65.2,382.8 65.4,374.8 65.6,361.4 65.8,345.8 66.0,328.4 66.2,308.9 66.2,309.9 66.4,287.2 66.4,287.7 66.6,309.9 66.6,308.5 66.8,329.5 66.9,338.7 67.0,346.5 67.2,362.2 67.4,373.7 67.4,373.2 67.6,383.0 67.8,391.6 68.0,395.3 68.3,399.3 68.5,401.6 68.7,403.5 68.9,404.9 69.1,405.0 69.3,405.6 69.5,406.8 69.7,407.5 69.9,408.1 70.1,407.4 70.3,408.2 70.5,408.2 70.7,408.4 70.9,407.9 71.2,409.2 71.4,409.6 71.6,409.2 71.8,409.1 72.0,408.0 72.2,407.8 72.4,409.0 72.6,408.0 72.8,410.0 73.0,408.0 73.2,408.5 73.4,409.5 73.6,409.3 73.8,409.6 74.1,410.0 74.3,409.3 74.5,409.1 74.7,409.3 74.9,408.9 75.1,409.4 75.3,410.0 75.5,409.1 75.7,409.4 75.9,408.7 76.1,409.8 76.3,409.6 76.5,410.5 76.7,410.5 77.0,410.2 77.2,409.7 77.4,409.4 77.6,409.2 77.8,410.1 78.0,410.8 78.2,409.7 78.4,411.0 78.6,409.9 78.8,409.6 79.0,409.2 79.2,409.7 79.4,409.9 79.6,410.0 79.8,409.9 80.1,409.9 80.3,410.9 80.5,409.4 80.7,410.6 80.9,409.1 81.1,409.8 81.3,409.6 81.5,410.3 81.7,410.8 81.9,410.1 82.1,410.2 82.3,410.5 82.5,409.6 82.7,410.6 83.0,411.0 83.2,410.0 83.4,409.0 83.6,410.5 83.8,410.2 84.0,409.7 84.2,408.9 84.4,409.7 84.6,409.7 84.8,410.0 85.0,409.5 85.2,410.2 85.4,410.7 85.6,410.7 85.9,411.2 86.1,410.6 86.3,409.8 86.5,409.7 86.7,410.1 86.9,410.4 87.1,410.3 87.3,409.7 87.5,410.6 87.7,410.3 87.9,410.2 88.1,411.2 88.3,409.4 88.5,409.6 88.8,409.8 89.0,410.2 89.2,410.8 89.4,409.6 89.6,409.3 89.8,410.2 90.0,409.1 90.2,410.6 90.4,410.6 90.6,409.6 90.8,410.6 91.0,411.0 91.2,410.4 91.4,410.0 91.7,411.4 91.9,410.5 92.1,410.7 92.3,409.5 92.5,410.0 92.7,409.8 92.9,411.0 93.1,411.6 93.3,409.9 93.5,411.2 93.7,410.8 93.9,410.0 94.1,409.5 94.3,411.1 94.5,410.9 94.8,410.7 95.0,411.7 95.2,411.2 95.4,410.8 95.6,410.7 95.8,410.7 96.0,409.9 96.2,409.5 96.4,409.7 96.6,410.3 96.8,411.3 97.0,411.1 97.2,410.8 97.4,409.9 97.7,410.9 97.9,410.1 98.1,410.6 98.3,409.6 98.5,410.8 98.7,410.3 98.9,410.9 99.1,410.5 99.3,410.2 99.5,411.3 99.7,410.7 99.9,410.8 100.1,411.5 100.3,410.5 100.6,410.7 100.8,411.2 101.0,410.2 101.2,409.9 101.4,411.0 101.6,410.0 101.8,410.0 102.0,410.8 102.2,411.0 102.4,409.7 102.6,410.4 102.8,410.8 103.0,410.5 103.2,410.4 103.5,410.0 103.7,409.9 103.9,410.1 104.1,410.3 104.3,410.3 104.5,409.6 104.7,409.3 104.9,410.3 105.1,411.2 105.3,409.8 105.5,410.5 105.7,409.5 105.9,410.4 106.1,409.5 106.3,409.4 106.6,409.9 106.8,409.2 107.0,409.0 107.2,409.7 107.4,409.4 107.6,410.6 107.8,409.2 108.0,410.1 108.2,409.4 108.4,408.6 108.6,408.9 108.8,410.2 109.0,409.9 109.2,408.7 109.5,408.3 109.7,408.2 109.9,407.9 110.1,409.0 110.3,408.1 110.5,407.9 110.7,407.9 110.9,408.2 111.1,406.2 111.3,406.2 111.5,405.1 111.7,405.5 111.9,404.0 112.1,402.5 112.4,401.5 112.6,399.3 112.8,397.4 113.0,393.8 113.2,389.9 113.4,387.2 113.6,381.2 113.8,376.5 114.0,369.2 114.2,360.7 114.4,352.6 114.6,342.0 114.8,330.7 115.0,320.8 115.3,307.0 115.5,295.0 115.7,280.8 115.8,280.4 115.9,285.2 116.0,289.3 116.1,293.8 116.1,294.3 116.3,302.3 116.3,302.0 116.5,310.4 116.6,316.2 116.7,320.2 116.9,328.7 117.1,334.9 117.3,342.8 117.5,348.7 117.7,356.0 117.9,361.0 118.2,367.1 118.4,371.8 118.6,375.8 118.8,379.5 119.0,383.0 119.2,387.8 119.4,390.1 119.6,392.3 119.8,394.1 120.0,396.1 120.2,398.9 120.4,400.6 120.6,400.4 120.8,402.6 121.0,403.7 121.3,403.5 121.5,404.3 121.7,405.7 121.9,405.5 122.1,406.7 122.3,407.0 122.5,407.2 122.7,407.7 122.9,406.9 123.1,407.7 123.3,408.3 123.5,408.3 123.7,409.1 123.9,408.9 124.2,408.3 124.4,408.5 124.6,409.4 124.8,408.9 125.0,408.6 125.2,409.0 125.4,408.8 125.6,409.6 125.8,409.5 126.0,409.5 126.2,409.2 126.4,410.6 126.6,410.9 126.8,410.3 127.1,409.7 127.3,410.2 127.5,410.2 127.7,410.0 127.9,410.4 128.1,409.4 128.3,410.9 128.5,410.2 128.7,410.0 128.9,409.6 129.1,409.4 129.3,411.2 129.5,410.5 129.7,410.3 130.0,410.7 130.2,410.9 130.4,410.3 130.6,410.5 130.8,411.4 131.0,410.0 131.2,411.0 131.4,411.7 131.6,411.7 131.8,411.0 132.0,411.1 132.2,411.7 132.4,411.1 132.6,411.4 132.9,411.4 133.1,411.4 133.3,410.5 133.5,411.4 133.7,410.1 133.9,411.4 134.1,410.8 134.3,411.1 134.5,411.2 134.7,411.4 134.9,411.3 135.1,411.1 135.3,411.9 135.5,410.9 135.7,411.2 136.0,412.1 136.2,412.3 136.4,410.9 136.6,412.1 136.8,411.1 137.0,411.5 137.2,412.2 137.4,412.0 137.6,411.4 137.8,411.5 138.0,411.0 138.2,412.7 138.4,412.2 138.6,411.8 138.9,412.2 139.1,412.0 139.3,410.8 139.5,411.0 139.7,412.0 139.9,412.4 140.1,411.4 140.3,412.2 140.5,411.4 140.7,412.2 140.9,412.5 141.1,411.1 141.3,411.4 141.5,411.5 141.8,412.5 142.0,412.5 142.2,411.2 142.4,410.9 142.6,412.1 142.8,411.6 143.0,411.4 143.2,412.2 143.4,411.7 143.6,410.7 143.8,412.0 144.0,411.4 144.2,411.5 144.4,410.8 144.7,411.8 144.9,411.3 145.1,411.4 145.3,412.0 145.5,412.6 145.7,412.0 145.9,412.6 146.1,412.7 146.3,412.0 146.5,411.1 146.7,411.6 146.9,411.5 147.1,411.8 147.3,411.6 147.5,411.4 147.8,412.2 148.0,412.1 148.2,412.7 148.4,412.6 148.6,412.5 148.8,411.8 149.0,412.2 149.2,412.6 149.4,411.8 149.6,411.0 149.8,412.3 150.0,411.6 150.2,411.9 150.4,412.4 150.7,412.8 150.9,412.0 151.1,411.2 151.3,411.2 151.5,412.7 151.7,411.5 151.9,412.4 152.1,413.2 152.3,412.6 152.5,412.2 152.7,412.6 152.9,413.3 153.1,413.0 153.3,412.7 153.6,412.5 153.8,412.1 154.0,410.9 154.2,411.4 154.4,411.8 154.6,412.9 154.8,412.0 155.0,412.3 155.2,412.8 155.4,412.3 155.6,413.0 155.8,413.1 156.0,412.3 156.2,412.1 156.5,413.1 156.7,412.7 156.9,412.2 157.1,411.5 157.3,412.2 157.5,412.8 157.7,412.4 157.9,412.7 158.1,413.0 158.3,412.3 158.5,413.1 158.7,413.3 158.9,412.2 159.1,412.4 159.4,411.9 159.6,412.5 159.8,413.1 160.0,413.1 160.2,412.5 160.4,413.1 160.6,411.6 160.8,412.8 161.0,412.2 161.2,411.3 161.4,411.5 161.6,412.7 161.8,411.2 162.0,412.6 162.2,412.0 162.5,412.0 162.7,412.3 162.9,411.2 163.1,412.5 163.3,411.8 163.5,412.9 163.7,413.1 163.9,412.7 164.1,412.6 164.3,413.6 164.5,413.0 164.7,412.7 164.9,411.8 165.1,412.5 165.4,413.1 165.6,413.1 165.8,413.0 166.0,413.1 166.2,413.2 166.4,412.6 166.6,413.4 166.8,412.8 167.0,413.2 167.2,413.0 167.4,412.4 167.6,412.8 167.8,412.1 168.0,411.8 168.3,411.5 168.5,411.5 168.7,413.0 168.9,413.1 169.1,413.1 169.3,413.1 169.5,414.0 169.7,413.5 169.9,413.4 170.1,413.3 170.3,413.3 170.5,412.1 170.7,411.9 170.9,412.8 171.2,412.8 171.4,412.8 171.6,413.0 171.8,412.7 172.0,412.5 172.2,412.7 172.4,411.7 172.6,413.5 172.8,411.9 173.0,411.8 173.2,412.8 173.4,412.8 173.6,412.5 173.8,411.9 174.0,413.1 174.3,413.6 174.5,413.5 174.7,413.2 174.9,412.3 175.1,413.4 175.3,413.2 175.5,412.8 175.7,413.7 175.9,413.2 176.1,411.9 176.3,413.4 176.5,413.1 176.7,412.3 176.9,413.4 177.2,412.2 177.4,412.9 177.6,412.5 177.8,411.6 178.0,413.2 178.2,413.3 178.4,413.6 178.6,412.1 178.8,412.6 179.0,412.9 179.2,412.9 179.4,413.2 179.6,411.8 179.8,413.5 180.1,412.2 180.3,413.5 180.5,412.7 180.7,411.8 180.9,411.3 181.1,412.6 181.3,412.5 181.5,413.0 181.7,412.0 181.9,412.1 182.1,412.4 182.3,413.2 182.5,413.5 182.7,412.6 183.0,412.3 183.2,413.3 183.4,412.4 183.6,411.4 183.8,412.6 184.0,412.4 184.2,411.8 184.4,412.0 184.6,413.3 184.8,413.0 185.0,412.5 185.2,412.9 185.4,412.6 185.6,412.2 185.9,411.8 186.1,412.2 186.3,412.1 186.5,413.1 186.7,412.6 186.9,412.1 187.1,411.5 187.3,412.4 187.5,412.1 187.7,412.6 187.9,412.4 188.1,412.9 188.3,412.4 188.5,412.5 188.7,411.9 189.0,411.6 189.2,413.0 189.4,411.3 189.6,411.5 189.8,411.7 190.0,411.4 190.2,411.6 190.4,410.8 190.6,411.5 190.8,412.2 191.0,412.0 191.2,411.3 191.4,411.2 191.6,410.7 191.9,410.5 192.1,410.9 192.3,410.9 192.5,410.7 192.7,409.8 192.9,409.2 193.1,408.8 193.3,409.0 193.5,407.0 193.7,406.3 193.9,405.4 194.1,403.0 194.3,400.2 194.5,398.7 194.8,395.2 195.0,390.6 195.2,387.9 195.4,382.3 195.6,375.4 195.8,370.1 196.0,363.0 196.2,353.9 196.4,345.6 196.6,336.7 196.8,327.1 197.0,315.6 197.1,315.9 197.2,320.0 197.3,322.8 197.4,326.9 197.4,326.6 197.5,328.7 197.7,333.3 197.9,339.3 198.1,345.9 198.1,345.0 198.3,350.4 198.5,355.8 198.7,361.6 198.9,368.0 199.1,371.8 199.3,376.3 199.5,379.6 199.7,384.7 199.9,386.5 200.1,389.7 200.3,391.8 200.5,394.2 200.8,397.6 201.0,398.9 201.2,400.9 201.4,401.7 201.6,402.7 201.8,405.3 202.0,405.1 202.2,406.7 202.4,406.7 202.6,406.8 202.8,408.2 203.0,409.4 203.2,409.7 203.4,410.4 203.7,410.7 203.9,409.4 204.1,411.0 204.3,410.1 204.5,411.3 204.7,411.3 204.9,409.9 205.1,410.5 205.3,411.3 205.5,410.7 205.7,411.7 205.9,412.0 206.1,412.5 206.3,412.1 206.6,411.0 206.8,411.7 207.0,411.0 207.2,411.1 207.4,412.9 207.6,412.1 207.8,411.2 208.0,411.8 208.2,413.1 208.4,412.6 208.6,413.0 208.8,411.7 209.0,412.8 209.2,412.4 209.5,412.2 209.7,412.1 209.9,413.0 210.1,412.0 210.3,413.0 210.5,413.4 210.7,413.1 210.9,413.1 211.1,413.6 211.3,413.4 211.5,412.5 211.7,413.6 211.9,413.5 212.1,413.1 212.4,412.1 212.6,413.4 212.8,413.7 213.0,412.0 213.2,411.8 213.4,412.7 213.6,413.8 213.8,413.4 214.0,412.8 214.2,413.1 214.4,412.2 214.6,413.4 214.8,412.7 215.0,413.4 215.2,413.3 215.5,412.7 215.7,413.4 215.9,413.6 216.1,412.8 216.3,413.8 216.5,413.1 216.7,412.1 216.9,413.5 217.1,413.0 217.3,413.2 217.5,413.7 217.7,413.1 217.9,413.8 218.1,412.9 218.4,413.2 218.6,413.7 218.8,412.1 219.0,413.3 219.2,413.7 219.4,414.4 219.6,413.5 219.8,413.9 220.0,413.6 220.2,414.0 220.4,413.1 220.6,412.8 220.8,414.1 221.0,414.1 221.3,413.0 221.5,413.2 221.7,413.8 221.9,412.0 222.1,413.8 222.3,414.4 222.5,412.6 222.7,412.7 222.9,412.8 223.1,412.7 223.3,412.8 223.5,413.8 223.7,413.5 223.9,412.3 224.2,413.3 224.4,414.0 224.6,412.7 224.8,413.3 225.0,413.2 225.2,413.2 225.4,414.5 225.6,413.0 225.8,413.7 226.0,413.3 226.2,413.8 226.4,413.7 226.6,413.5 226.8,414.7 227.1,414.5 227.3,414.1 227.5,413.0 227.7,414.4 227.9,414.3 228.1,414.2 228.3,413.3 228.5,412.8 228.7,413.5 228.9,413.4 229.1,413.4 229.3,414.2 229.5,414.3 229.7,414.2 229.9,414.0 230.2,412.6 230.4,412.9 230.6,413.1 230.8,413.3 231.0,414.2 231.2,413.4 231.4,412.9 231.6,413.0 231.8,412.4 232.0,412.8 232.2,413.9 232.4,414.0 232.6,413.3 232.8,413.2 233.1,413.7 233.3,413.4 233.5,413.7 233.7,413.8 233.9,414.6 234.1,414.6 234.3,413.8 234.5,413.1 234.7,414.0 234.9,413.9 235.1,413.6 235.3,414.5 235.5,413.7 235.7,413.0 236.0,414.4 236.2,414.0 236.4,412.9 236.6,414.1 236.8,414.2 237.0,413.9 237.2,412.8 237.4,413.7 237.6,412.9 237.8,414.3 238.0,414.3 238.2,414.3 238.4,414.4 238.6,413.3 238.9,413.8 239.1,413.7 239.3,413.8 239.5,413.3 239.7,413.6 239.9,414.2 240.1,414.5 240.3,413.3 240.5,413.7 240.7,412.9 240.9,412.9 241.1,413.0 241.3,413.2 241.5,413.9 241.7,413.2 242.0,412.7 242.2,414.0 242.4,413.5 242.6,414.5 242.8,413.2 243.0,413.6 243.2,412.7 243.4,413.5 243.6,414.8 243.8,414.6 244.0,414.7 244.2,413.8 244.4,413.4 244.6,412.6 244.9,412.7 245.1,414.3 245.3,413.5 245.5,414.5 245.7,413.3 245.9,413.5 246.1,413.4 246.3,413.6 246.5,413.5 246.7,413.3 246.9,413.7 247.1,413.7 247.3,413.7 247.5,414.7 247.8,414.4 248.0,413.4 248.2,414.4 248.4,414.1 248.6,414.5 248.8,413.5 249.0,413.8 249.2,413.4 249.4,413.7 249.6,414.1 249.8,414.0 250.0,413.4 250.2,413.3 250.4,414.4 250.7,414.4 250.9,413.3 251.1,414.9 251.3,413.1 251.5,414.7 251.7,414.2 251.9,413.4 252.1,413.8 252.3,414.5 252.5,413.3 252.7,412.7 252.9,413.4 253.1,413.2 253.3,413.9 253.6,414.1 253.8,414.4 254.0,414.0 254.2,414.4 254.4,413.8 254.6,415.0 254.8,413.6 255.0,413.4 255.2,414.7 255.4,414.7 255.6,413.2 255.8,414.7 256.0,414.5 256.2,413.4 256.4,413.7 256.7,414.6 256.9,414.8 257.1,414.1 257.3,413.0 257.5,413.0 257.7,413.8 257.9,413.7 258.1,414.7 258.3,414.2 258.5,414.7 258.7,414.3 258.9,414.1 259.1,414.7 259.3,413.9 259.6,413.0 259.8,414.4 260.0,414.4 260.2,414.2 260.4,414.6 260.6,413.8 260.8,414.0 261.0,414.3 261.2,414.4 261.4,413.7 261.6,414.2 261.8,414.3 262.0,414.6 262.2,413.4 262.5,414.4 262.7,414.7 262.9,413.5 263.1,414.4 263.3,414.1 263.5,413.0 263.7,414.1 263.9,414.2 264.1,414.0 264.3,414.2 264.5,414.9 264.7,414.1 264.9,413.5 265.1,413.6 265.4,415.1 265.6,414.8 265.8,414.9 266.0,413.9 266.2,413.6 266.4,413.2 266.6,413.5 266.8,414.5 267.0,414.6 267.2,414.7 267.4,413.3 267.6,414.7 267.8,414.9 268.0,414.1 268.2,413.4 268.5,413.9 268.7,414.2 268.9,414.4 269.1,414.2 269.3,414.1 269.5,413.7 269.7,414.7 269.9,414.3 270.1,413.7 270.3,413.4 270.5,414.8 270.7,413.1 270.9,414.7 271.1,414.4 271.4,414.6 271.6,414.6 271.8,414.0 272.0,413.3 272.2,413.5 272.4,414.3 272.6,414.3 272.8,414.0 273.0,414.0 273.2,413.3 273.4,414.0 273.6,414.9 273.8,414.3 274.0,413.5 274.3,413.8 274.5,415.2 274.7,413.6 274.9,413.5 275.1,414.2 275.3,415.1 275.5,414.4 275.7,413.6 275.9,413.7 276.1,413.5 276.3,413.9 276.5,414.6 276.7,414.3 276.9,414.5 277.2,413.5 277.4,414.1 277.6,413.0 277.8,413.2 278.0,413.2 278.2,413.5 278.4,414.8 278.6,414.3 278.8,415.1 279.0,414.5 279.2,413.7 279.4,413.1 279.6,413.2 279.8,414.9 280.1,413.8 280.3,414.0 280.5,414.4 280.7,414.2 280.9,414.5 281.1,414.1 281.3,414.2 281.5,414.6 281.7,413.7 281.9,414.2 282.1,413.7 282.3,413.7 282.5,415.2 282.7,415.0 282.9,413.3 283.2,413.4 283.4,414.1 283.6,413.8 283.8,414.6 284.0,413.6 284.2,413.4 284.4,413.9 284.6,413.8 284.8,413.7 285.0,413.7 285.2,413.3 285.4,413.4 285.6,413.2 285.8,413.5 286.1,414.1 286.3,413.5 286.5,414.5 286.7,414.1 286.9,414.6 287.1,414.9 287.3,414.6 287.5,413.6 287.7,413.8 287.9,414.6 288.1,414.1 288.3,413.3 288.5,412.9 288.7,413.6 289.0,414.4 289.2,414.5 289.4,414.6 289.6,413.0 289.8,413.6 290.0,413.2 290.2,414.8 290.4,414.6 290.6,414.5 290.8,412.8 291.0,413.4 291.2,413.4 291.4,412.7 291.6,413.4 291.9,413.4 292.1,413.3 292.3,414.5 292.5,413.5 292.7,412.9 292.9,412.2 293.1,412.4 293.3,412.2 293.5,411.1 293.7,411.6 293.9,409.7 294.1,408.6 294.3,405.9 294.5,404.2 294.8,402.8 295.0,400.0 295.2,397.9 295.4,394.1 295.6,389.1 295.8,387.3 295.9,385.7 296.0,387.1 296.2,390.9 296.2,390.3 296.4,393.6 296.6,397.7 296.8,401.3 297.0,402.4 297.2,405.3 297.4,406.1 297.6,407.6 297.9,408.5 298.1,410.6 298.3,410.9 298.5,411.2 298.7,411.9 298.9,412.5 299.1,413.2 299.3,412.6 299.5,412.2 299.7,414.1 299.9,413.0 300.1,414.5 300.3,413.5 300.5,413.8 300.8,413.8 301.0,412.6 301.2,414.2 301.4,414.1 301.6,414.7 301.8,414.6 302.0,414.8 302.2,414.7 302.4,413.4 302.6,414.0 302.8,414.8 303.0,415.2 303.2,414.0 303.4,414.1 303.7,414.1 303.9,414.4 304.1,414.6 304.3,414.4 304.5,413.6 304.7,413.4 304.9,414.1 305.1,414.9 305.3,414.6 305.5,415.0 305.7,413.7 305.9,414.6 306.1,413.2 306.3,414.7 306.6,414.8 306.8,414.7 307.0,414.9 307.2,413.8 307.4,413.2 307.6,413.8 307.8,414.5 308.0,413.0 308.2,414.8 308.4,415.1 308.6,414.1 308.8,414.0 309.0,414.0 309.2,414.2 309.4,415.1 309.7,414.2 309.9,413.1 310.1,413.7 310.3,413.6 310.5,413.7 310.7,414.5 310.9,413.8 311.1,413.3 311.3,414.1 311.5,413.6 311.7,414.0 311.9,413.9 312.1,414.8 312.3,414.8 312.6,413.9 312.8,413.1 313.0,414.7 313.2,414.6 313.4,414.3 313.6,414.7 313.8,413.9 314.0,414.7 314.2,414.9 314.4,413.2 314.6,412.6 314.8,412.8 315.0,413.0 315.2,413.7 315.5,413.8 315.7,412.9 315.9,412.7 316.1,412.9 316.3,413.6 316.5,412.7 316.7,412.4 316.9,412.4 317.1,411.2 317.3,412.3 317.5,411.2 317.7,410.9 317.9,411.3 318.1,411.4 318.4,410.7 318.6,411.4 318.8,408.9 318.9,409.9 319.0,408.9 319.0,409.2 319.2,408.4 319.2,408.4 319.4,408.2 319.6,407.4 319.8,407.4 320.0,407.3 320.2,406.3 320.4,406.9 320.6,405.6 320.8,405.4 321.0,405.2 321.3,403.9 321.5,404.5 321.7,402.6 321.9,402.3 322.1,402.8 322.3,402.7 322.5,400.5 322.7,399.7 322.9,401.6 323.1,400.0 323.3,399.0 323.5,399.2 323.6,400.2 323.7,400.4 323.9,400.6 324.1,401.2 324.4,401.0 324.6,400.5 324.6,400.7 324.8,400.5 325.0,402.4 325.2,402.2 325.4,402.0 325.6,403.3 325.7,403.6 325.8,402.9 326.0,403.8 326.2,404.0 326.2,403.8 326.4,405.4 326.6,406.3 326.8,405.7 327.0,407.5 327.3,406.5 327.5,406.9 327.7,408.6 327.9,407.9 328.1,408.4 328.3,409.6 328.5,410.3 328.7,409.8 328.9,409.6 329.1,411.8 329.3,410.8 329.5,411.5 329.7,411.3 329.9,411.5 330.2,412.3 330.4,412.0 330.6,412.3 330.8,413.6 331.0,411.9 331.2,412.9 331.4,413.3 331.6,412.5 331.8,413.5 332.0,413.9 332.2,412.5 332.4,412.5 332.6,413.1 332.8,413.7 333.1,413.1 333.3,413.3 333.5,414.1 333.7,414.3 333.9,414.5 334.1,413.0 334.3,413.6 334.5,413.6 334.7,413.5 334.9,414.4 335.1,413.6 335.3,414.1 335.5,414.3 335.7,414.1 335.9,414.9 336.2,415.0 336.4,414.3 336.6,414.2 336.8,414.1 337.0,414.1 337.2,414.5 337.4,413.3 337.6,414.5 337.8,415.2 338.0,415.0 338.2,414.3 338.4,413.5 338.6,414.6 338.8,414.4 339.1,414.0 339.3,413.9 339.5,414.1 339.7,414.4 339.9,415.2 340.1,415.2 340.3,414.1 340.5,414.8 340.7,415.1 340.9,414.0 341.1,414.3 341.3,414.4 341.5,414.0 341.7,414.9 342.0,414.9 342.2,414.0 342.4,413.9 342.6,414.0 342.8,415.1 343.0,413.3 343.2,414.1 343.4,414.9 343.6,415.4 343.8,414.5 344.0,414.3 344.2,415.1 344.4,414.0 344.6,413.9 344.9,414.5 345.1,414.6 345.3,415.7 345.5,415.3 345.7,415.0 345.9,414.2 346.1,414.4 346.3,414.6 346.5,414.7 346.7,414.7 346.9,414.3 347.1,414.1 347.3,414.8 347.5,414.2 347.8,414.4 348.0,415.3 348.2,413.8 348.4,415.4 348.6,414.4 348.8,413.7 349.0,413.8 349.2,415.3 349.4,414.2 349.6,414.0 349.8,414.5 350.0,414.3 350.2,414.9 350.4,415.5 350.6,414.4 350.9,414.4 351.1,414.6 351.3,414.3 351.5,414.3 351.7,414.3 351.9,414.0 352.1,415.4 352.3,414.7 352.5,415.2 352.7,414.7 352.9,415.3 353.1,414.5 353.3,414.1 353.5,414.0 353.8,414.2 354.0,414.4 354.2,414.2 354.4,414.1 354.6,413.9 354.8,414.2 355.0,414.2 355.2,414.4 355.4,414.2 355.6,415.4 355.8,413.9 356.0,414.6 356.2,415.0 356.4,414.2 356.7,414.2 356.9,415.3 357.1,414.8 357.3,413.8 357.5,414.0 357.7,415.1 357.9,414.0 358.1,414.7 358.3,415.7 358.5,414.2 358.7,413.7 358.9,414.9 359.1,414.5 359.3,415.5 359.6,413.5 359.8,414.3 360.0,415.4 360.2,414.8 360.4,415.3 360.6,415.4 360.8,415.5 361.0,415.2 361.2,413.8 361.4,414.0 361.6,415.3 361.8,414.8 362.0,415.2 362.2,414.7 362.4,414.6 362.7,414.4 362.9,414.0 363.1,414.7 363.3,414.2 363.5,414.9 363.7,414.7 363.9,415.1 364.1,415.5 364.3,414.9 364.5,413.8 364.7,414.4 364.9,413.9 365.1,414.8 365.3,414.9 365.6,414.8 365.8,415.1 366.0,413.6 366.2,413.7 366.4,415.1 366.6,414.7 366.8,414.2 367.0,413.3 367.2,414.0 367.4,414.0 367.6,414.7 367.8,413.2 368.0,413.8 368.2,413.4 368.5,413.5 368.7,413.5 368.9,413.4 369.1,413.9 369.3,414.1 369.5,413.2 369.7,412.9 369.9,413.1 370.1,413.5 370.3,414.0 370.5,413.5 370.7,413.4 370.9,413.0 371.1,412.2 371.4,412.3 371.6,413.2 371.8,412.5 372.0,412.7 372.2,412.3 372.4,411.6 372.6,410.6 372.8,410.2 372.8,410.3 373.0,411.5 373.2,409.8 373.3,409.8 373.4,408.6 373.6,408.5 373.8,407.2 373.8,408.4 374.0,408.2 374.3,407.5 374.5,406.7 374.7,405.4 374.9,404.2 375.1,401.7 375.3,399.7 375.5,398.1 375.7,397.2 375.9,395.5 376.1,394.4 376.3,391.4 376.5,388.4 376.7,386.3 376.9,383.5 377.1,380.3 377.4,378.2 377.6,375.7 377.8,371.6 378.0,368.2 378.2,365.2 378.4,360.6 378.4,361.9 378.6,366.3 378.6,365.3 378.8,368.7 379.0,371.9 379.2,374.1 379.3,376.2 379.4,377.3 379.6,380.3 379.8,382.5 380.0,386.4 380.3,387.9 380.5,391.7 380.7,392.5 380.9,394.9 381.1,397.9 381.3,398.4 381.5,401.0 381.7,401.6 381.9,404.2 382.1,404.0 382.3,405.2 382.5,406.3 382.7,407.5 382.9,408.7 383.2,408.3 383.4,409.3 383.6,410.7 383.8,409.8 384.0,411.6 384.2,412.1 384.4,411.6 384.6,411.2 384.8,412.7 385.0,412.5 385.2,413.5 385.4,413.5 385.6,413.0 385.8,413.9 386.1,413.2 386.3,413.9 386.5,413.4 386.7,413.7 386.9,413.2 387.1,413.7 387.3,413.7 387.5,414.5 387.7,414.3 387.9,413.7 388.1,414.6 388.3,415.1 388.5,413.3 388.7,414.5 389.0,414.1 389.2,414.1 389.4,414.4 389.6,414.8 389.8,413.6 390.0,414.0 390.2,414.8 390.4,415.3 390.6,414.2 390.8,414.8 391.0,414.8 391.2,414.7 391.4,414.8 391.6,414.2 391.8,413.8 392.1,414.3 392.3,414.7 392.5,414.6 392.7,414.9 392.9,414.7 393.1,414.6 393.3,414.3 393.5,414.6 393.7,414.4 393.9,413.2 394.1,414.8 394.3,414.7 394.5,414.4 394.7,413.2 395.0,412.9 395.2,413.7 395.4,413.9 395.6,413.2 395.8,414.1 396.0,412.7 396.2,412.8 396.4,413.0 396.6,412.3 396.8,412.9 397.0,412.9 397.2,413.0 397.4,411.6 397.6,412.9 397.9,412.7 398.1,411.8 398.3,411.1 398.5,411.9 398.7,411.4 398.9,411.1 399.1,410.3 399.3,410.9 399.5,410.4 399.7,409.2 399.7,409.5 399.9,409.8 400.1,408.9 400.2,409.6 400.3,410.4 400.5,408.5 400.8,408.1 400.8,408.7 401.0,409.5 401.2,408.9 401.4,408.3 401.6,408.4 401.8,409.2 401.8,409.0 402.0,409.2 402.2,408.8 402.4,408.0 402.6,408.4 402.8,408.3 403.0,409.9 403.2,408.9 403.4,410.3 403.6,409.5 403.9,409.3 404.1,409.8 404.3,410.9 404.5,410.4 404.7,410.7 404.9,411.4 405.1,411.3 405.3,411.7 405.5,412.1 405.7,412.1 405.9,412.6 406.1,412.2 406.3,413.4 406.5,413.1 406.8,413.3 407.0,412.6 407.2,412.7 407.4,413.8 407.6,413.5 407.8,414.2 408.0,413.6 408.0,414.2 408.2,414.4 408.4,414.0 408.6,414.4 408.8,414.6 409.0,415.1 409.2,414.7 409.4,414.4 409.7,413.8 409.9,413.3 410.1,415.1 410.3,414.2 410.5,414.4 410.7,413.6 410.9,414.2 411.1,415.8 411.3,415.5 411.5,414.1 411.7,415.2 411.9,414.6 412.1,414.7 412.3,414.1 412.6,414.1 412.8,415.2 413.0,415.0 413.2,414.2 413.4,415.0 413.6,414.4 413.8,415.6 414.0,414.1 414.2,414.4 414.4,414.8 414.6,414.7 414.8,415.5 415.0,414.6 415.2,414.5 415.5,415.5 415.7,415.2 415.9,414.4 416.1,413.6 416.3,414.9 416.5,415.7 416.7,414.9 416.9,415.2 417.1,414.9 417.3,415.8 417.5,414.8 417.7,415.5 417.9,414.7 418.1,413.7 418.3,415.1 418.6,415.1 418.8,414.6 419.0,414.5 419.2,415.5 419.4,415.7 419.6,414.9 419.8,415.7 420.0,414.8 420.2,415.5 420.4,416.0 420.6,414.6 420.8,415.3 421.0,414.5 421.2,415.6 421.5,415.4 421.7,415.6 421.9,415.1 422.1,414.4 422.3,415.2 422.5,416.1 422.7,415.4 422.9,415.3 423.1,415.4 423.3,414.7 423.5,414.2 423.7,413.9 423.9,416.0 424.1,414.9 424.4,415.5 424.6,414.7 424.8,414.7 425.0,415.0 425.2,414.9 425.4,414.4 425.6,414.7 425.8,415.2 426.0,415.1 426.2,414.9 426.4,415.5 426.6,415.0 426.8,415.8 427.0,415.3 427.3,414.3 427.5,415.7 427.7,415.8 427.9,415.7 428.1,414.6 428.3,413.9 428.5,414.6 428.7,414.7 428.9,414.6 429.1,414.7 429.3,415.6 429.5,414.7 429.7,414.9 429.9,415.7 430.1,414.8 430.4,413.9 430.6,414.9 430.8,415.3 431.0,414.6 431.2,414.7 431.4,415.9 431.6,414.9 431.8,415.0 432.0,414.6 432.2,415.2 432.4,414.4 432.6,415.6 432.8,414.9 433.0,414.7 433.3,415.2 433.5,414.8 433.7,414.2 433.9,414.5 434.1,415.0 434.3,415.7 434.5,415.4 434.7,415.9 434.9,416.3 435.1,414.7 435.3,415.3 435.5,415.1 435.7,415.2 435.9,416.2 436.2,415.0 436.4,415.7 436.6,414.2 436.8,415.8 437.0,414.4 437.2,415.5 437.4,415.7 437.6,415.4 437.8,415.9 438.0,414.4 438.2,416.1 438.4,414.4 438.6,414.7 438.8,414.1 439.1,415.7 439.3,414.5 439.5,414.2 439.7,414.7 439.9,414.6 440.1,415.5 440.3,414.9 440.5,414.7 440.7,414.8 440.9,414.9 441.1,414.4 441.3,414.9 441.5,414.8 441.7,414.7 442.0,414.7 442.2,414.0 442.4,415.2 442.6,414.6 442.8,414.2 443.0,414.9 443.2,413.9 443.4,414.8 443.6,414.9 443.8,413.5 444.0,413.9 444.2,414.2 444.4,413.9 444.6,414.2 444.8,413.8 445.1,413.2 445.3,413.3 445.5,412.8 445.7,412.9 445.9,412.0 446.1,412.8 446.3,411.9 446.5,412.0 446.7,411.9 446.9,411.2 447.1,410.5 447.3,410.0 447.5,410.6 447.7,409.9 448.0,409.9 448.2,410.0 448.4,408.5 448.6,410.1 448.8,409.4 449.0,409.4 449.2,408.9 449.4,408.3 449.4,407.4 449.6,408.2 449.8,407.6 449.9,408.4 450.0,408.5 450.2,407.8 450.4,406.8 450.4,407.4 450.6,406.4 450.9,408.0 451.1,408.2 451.3,407.8 451.5,409.2 451.7,409.0 451.9,407.6 452.1,409.7 452.3,408.2 452.5,409.3 452.7,409.4 452.9,409.9 453.1,409.6 453.3,410.3 453.5,410.0 453.8,410.2 454.0,411.7 454.2,412.2 454.4,412.6 454.6,411.7 454.8,412.5 455.0,413.2 455.2,413.5 455.4,412.6 455.6,412.3 455.6,412.6 455.8,413.2 456.0,412.4 456.2,414.2 456.4,413.5 456.7,413.7 456.9,414.7 457.1,413.8 457.3,413.2 457.5,414.9 457.7,413.7 457.9,414.6 458.1,413.8 458.3,414.0 458.5,415.2 458.7,413.6 458.9,414.5 459.1,414.2 459.3,414.2 459.5,415.6 459.8,414.4 460.0,415.0 460.2,415.5 460.4,414.6 460.6,414.5 460.8,415.5 461.0,415.1 461.2,414.6 461.4,415.2 461.6,415.4 461.8,415.6 462.0,415.7 462.2,415.7 462.4,415.2 462.7,414.9 462.9,415.9 463.1,415.7 463.3,415.4 463.5,414.3 463.7,415.8 463.9,415.6 464.1,415.8 464.3,414.9 464.5,415.4 464.7,415.2 464.9,414.6 465.1,414.2 465.3,414.6 465.6,415.1 465.8,415.5 466.0,415.5 466.2,415.9 466.4,415.3 466.6,414.9 466.8,414.3 467.0,414.4 467.2,415.3 467.4,415.4 467.6,414.7 467.8,416.0 468.0,414.9 468.2,415.3 468.5,415.0 468.7,416.2 468.9,415.8 469.1,415.8 469.3,414.5 469.5,415.5 469.7,415.7 469.9,414.8 470.1,415.9 470.3,416.8 470.5,415.4 470.7,415.4 470.9,416.0 471.1,414.8 471.3,415.8 471.6,416.0 471.8,416.1 472.0,416.2 472.2,416.4 472.4,414.6 472.6,415.9 472.8,415.7 473.0,415.0 473.2,415.7 473.4,414.9 473.6,415.5 473.8,414.8 474.0,415.2 474.2,415.7 474.5,415.6 474.7,415.5 474.9,415.1 475.1,416.4 475.3,414.6 475.5,415.5 475.7,416.2 475.9,414.7 476.1,414.3 476.3,416.2 476.5,416.6 476.7,416.6 476.9,414.8 477.1,415.0 477.4,414.9 477.6,415.2 477.8,416.2 478.0,415.2 478.2,415.3 478.4,415.6 478.6,415.9 478.8,415.0 479.0,416.5 479.2,416.5 479.4,415.5 479.6,414.6 479.8,416.0 480.0,416.3 480.3,415.1 480.5,414.7 480.7,414.7 480.9,415.5 481.1,415.7 481.3,414.8 481.5,414.6 481.7,414.5 481.9,415.0 482.1,415.7 482.3,415.5 482.5,414.6 482.7,414.6 482.9,415.8 483.2,415.9 483.4,416.3 483.6,414.7 483.8,416.1 484.0,415.9 484.2,415.3 484.4,414.8 484.6,414.8 484.8,414.7 485.0,415.9 485.2,414.8 485.4,415.4 485.6,415.6 485.8,416.7 486.0,415.7 486.3,415.1 486.5,416.5 486.7,415.6 486.9,414.8 487.1,415.8 487.3,415.3 487.5,414.8 487.7,415.7 487.9,415.2 488.1,415.9 488.3,416.1 488.5,415.5 488.7,415.1 488.9,416.0 489.2,414.8 489.4,416.2 489.6,414.7 489.8,416.2 490.0,415.5 490.2,416.4 490.4,416.6 490.6,414.7 490.8,414.9 491.0,416.0 491.2,415.3 491.4,415.3 491.6,414.9 491.8,416.3 492.1,415.5 492.3,414.4 492.5,414.4 492.7,414.5 492.9,415.0 493.1,416.6 493.3,414.9 493.5,415.1 493.7,415.0 493.9,415.5 494.1,415.7 494.3,415.7 494.5,415.7 494.7,414.7 495.0,416.1 495.2,415.3 495.4,416.1 495.6,416.2 495.8,416.4 496.0,414.6 496.2,415.9 496.4,416.1 496.6,416.2 496.8,414.5 497.0,415.8 497.2,415.0 497.4,414.6 497.6,415.0 497.8,414.9 498.1,415.6 498.3,414.7 498.5,414.8 498.7,414.9 498.9,416.3 499.1,415.3 499.3,415.4 499.5,415.4 499.7,415.0 499.9,416.1 500.1,415.9 500.3,415.3 500.5,416.0 500.7,415.8 501.0,414.8 501.2,414.9 501.4,415.9 501.6,414.7 501.8,415.4 502.0,415.0 502.2,416.1 502.4,416.0 502.6,414.7 502.8,415.3 503.0,415.8 503.2,415.5 503.4,414.7 503.6,415.3 503.9,415.6 504.1,414.8 504.3,415.8 504.5,415.8 504.7,415.8 504.9,416.0 505.1,416.3 505.3,415.2 505.5,415.5 505.7,414.5 505.9,414.6 506.1,415.2 506.3,416.4 506.5,414.5 506.8,415.5 507.0,415.1 507.2,414.4 507.4,415.4 507.6,414.7 507.8,415.9 508.0,415.4 508.2,414.5 508.4,415.3 508.6,414.8 508.8,415.2 509.0,415.4 509.2,414.6 509.4,415.0 509.7,416.1 509.9,414.5 510.1,415.4 510.3,415.7 510.5,414.2 510.7,414.5 510.9,414.9 511.1,415.2 511.3,415.1 511.5,414.7 511.7,413.9 511.9,415.8 512.1,414.2 512.3,414.1 512.5,415.3 512.8,415.1 513.0,413.5 513.2,413.6 513.4,415.0 513.6,414.8 513.8,414.9 514.0,414.1 514.2,414.3 514.4,414.4 514.6,414.6 514.8,413.6 515.0,413.3 515.2,413.8 515.4,413.7 515.7,413.1 515.9,413.9 516.1,413.6 516.3,412.0 516.5,411.5 516.7,411.1 516.9,411.5 517.1,412.3 517.3,411.0 517.5,410.1 517.7,409.7 517.7,410.6 517.9,410.4 518.1,409.6 518.3,410.0 518.6,409.5 518.8,409.6 518.8,410.6 519.0,409.9 519.2,408.6 519.4,408.9 519.6,408.0 519.8,409.2 519.8,407.6 520.0,407.1 520.2,407.3 520.4,408.7 520.6,408.2 520.8,407.4 521.0,407.1 521.2,407.5 521.3,407.4 521.5,407.9 521.7,407.9 521.9,407.6 522.1,406.9 522.3,408.7 522.5,408.0 522.7,407.3 522.9,407.4 523.1,408.3 523.3,409.9 523.5,408.5 523.7,409.4 523.9,409.9 523.9,410.4 524.1,408.5 524.4,410.0 524.5,410.6 524.6,409.6 524.8,410.8 525.0,410.7 525.2,411.5 525.4,411.1 525.6,412.0 525.8,412.4 526.0,412.0 526.2,412.5 526.4,412.7 526.6,412.7 526.8,412.3 527.0,414.1 527.2,413.0 527.5,413.8 527.7,414.6 527.9,413.8 528.1,414.6 528.3,415.0 528.5,413.5 528.7,414.3 528.9,414.8 529.1,414.7 529.3,414.0 529.5,413.9 529.7,415.7 529.9,414.6 530.1,413.8 530.4,413.8 530.6,415.6 530.8,414.9 531.0,415.4 531.2,414.9 531.4,414.9 531.6,415.3 531.8,415.1 532.0,415.6 532.2,415.2 532.4,415.1 532.6,414.3 532.8,415.7 533.0,415.6 533.3,413.7 533.5,414.6 533.7,415.3 533.9,415.9 534.1,415.4 534.3,415.3 534.5,414.6 534.7,414.4 534.9,415.4 535.1,415.5 535.3,415.5 535.5,414.5 535.7,414.9 535.9,415.0 536.2,415.2 536.4,414.5 536.6,415.3 536.8,414.5 537.0,414.7 537.2,414.5 537.4,414.7 537.6,414.9 537.8,414.6 538.0,415.6 538.2,414.5 538.4,415.0 538.6,414.9 538.8,415.4 539.0,416.0 539.3,414.9 539.5,415.0 539.7,416.4 539.9,416.3 540.1,415.7 540.3,416.1 540.5,416.4 540.7,415.6 540.9,415.8 541.1,415.8 541.3,415.8 541.5,415.2 541.7,414.7 541.9,414.2 542.2,414.9 542.4,413.9 542.6,413.6 542.8,414.9 543.0,413.9 543.2,414.3 543.4,414.6 543.6,413.8 543.8,413.4 544.0,412.6 544.2,412.8 544.4,412.6 544.6,411.4 544.8,412.2 545.1,411.0 545.2,410.3 545.3,411.1 545.5,411.3 545.7,412.1 545.7,412.9 545.9,412.6 546.1,412.6 546.3,413.5 546.5,413.9 546.7,413.6 546.9,414.2 547.1,414.4 547.3,413.9 547.5,415.4 547.7,414.3 548.0,415.3 548.2,416.2 548.4,414.1 548.6,415.2 548.8,415.1 549.0,414.3 549.2,415.8 549.4,414.7 549.6,415.9 549.8,414.3 550.0,415.6 550.2,416.0 550.4,415.9 550.6,416.1 550.9,415.1 551.1,416.0 551.3,414.7 551.5,414.3 551.7,416.2 551.9,415.6 552.1,415.9 552.3,416.3 552.5,414.7 552.7,415.7 552.9,415.8 553.1,415.6 553.3,415.1 553.5,414.6 553.7,414.6 554.0,415.2 554.2,415.2 554.4,414.7 554.6,414.7 554.8,414.9 555.0,416.4 555.2,416.2 555.4,415.5 555.6,415.4 555.8,415.4 556.0,416.0 556.2,416.4 556.4,414.7 556.6,415.9 556.9,416.0 557.1,415.8 557.3,414.8 557.5,414.7 557.7,415.3 557.9,416.3 558.1,415.1 558.3,415.9 558.5,415.9 558.7,416.1 558.9,415.3 559.1,415.9 559.3,415.1 559.5,415.1 559.8,414.4 560.0,414.6 560.2,416.0 560.4,415.9 560.6,416.3 560.8,415.0 561.0,415.5 561.2,415.7 561.4,415.3 561.6,415.1 561.8,415.6 562.0,416.4 562.2,416.3 562.4,414.8 562.7,414.6 562.9,415.8 563.1,415.5 563.3,416.0 563.5,415.7 563.7,416.5 563.9,416.7 564.1,415.3 564.3,415.0 564.5,415.9 564.7,415.6 564.9,414.4 565.1,415.0 565.3,416.0 565.5,415.4 565.8,416.0 566.0,415.9 566.2,415.3 566.4,415.6 566.6,416.2 566.8,415.7 567.0,415.3 567.2,416.7 567.4,415.8 567.6,415.5 567.8,414.9 568.0,415.6 568.2,415.9 568.4,415.1 568.7,415.2 568.9,415.8 569.1,416.1 569.3,415.3 569.5,415.2 569.7,415.6 569.9,416.6 570.1,415.4 570.3,415.1 570.5,415.2 570.7,416.1 570.9,414.9 571.1,415.0 571.3,416.2 571.6,414.8 571.8,415.8 572.0,416.6 572.2,415.5 572.4,416.1 572.6,415.4 572.8,415.4 573.0,415.8 573.2,414.8 573.4,414.9 573.6,415.2 573.8,415.9 574.0,414.6 574.2,415.6 574.5,414.5 574.7,415.3 574.9,414.4 575.1,414.9 575.3,415.0 575.5,414.6 575.7,414.2 575.9,414.5 576.1,414.4 576.3,416.3 576.5,415.4 576.7,415.0 576.9,415.6 577.1,413.9 577.4,415.8 577.6,415.1 577.8,415.3 578.0,415.6 578.2,415.4 578.4,414.6 578.6,415.2 578.8,415.1 579.0,415.2 579.2,415.7 579.4,414.2 579.6,415.2 579.8,415.0 580.0,413.3 580.2,413.9 580.5,414.7 580.7,414.1 580.9,414.0 581.1,413.3 581.3,414.3 581.5,414.4 581.7,413.1 581.9,413.9 582.1,414.6 582.3,414.6 582.5,413.5 582.7,413.3 582.9,412.9 583.1,412.6 583.4,413.6 583.6,412.8 583.8,413.4 584.0,412.1 584.0,413.1 584.2,412.7 584.4,411.5 584.6,411.7 584.8,411.3 585.0,412.2 585.0,412.4 585.2,411.8 585.4,411.7 585.6,412.4 585.8,411.2 586.0,412.2 586.3,411.6 586.5,411.8 586.7,412.4 586.9,411.6 587.1,412.1 587.1,411.2 587.3,411.8 587.5,411.3 587.7,410.1 587.9,410.5 588.1,410.8 588.3,411.7 588.5,411.9 588.7,411.3 588.9,412.8 589.2,412.7 589.4,412.7 589.6,411.4 589.8,412.8 590.0,411.9 590.2,411.4 590.4,412.5 590.6,412.8 590.8,411.9 591.0,412.3 591.2,411.7 591.4,412.9 591.6,413.4 591.8,414.0 592.0,413.9 592.3,412.9 592.5,412.9 592.7,413.7 592.9,413.8 593.1,413.3 593.3,412.9 593.5,414.8 593.7,414.5 593.9,414.4 594.1,415.0 594.3,414.7 594.5,414.8 594.7,413.8 594.9,413.8 595.2,413.8 595.4,413.7 595.6,414.0 595.8,415.1 596.0,414.7 596.2,414.7 596.4,413.6 596.6,415.2 596.8,414.7 597.0,414.5 597.2,414.8 597.4,415.6 597.6,415.8 597.8,416.0 598.1,413.8 598.3,414.3 598.5,415.2 598.7,414.7 598.9,415.0 599.1,415.4 599.3,414.2 599.5,415.5 599.7,415.0 599.9,414.5 600.1,414.0 600.3,414.7 600.5,414.4 600.7,415.1 601.0,415.1 601.2,414.7 601.4,414.0 601.6,414.2 601.8,415.3 602.0,415.4 602.2,413.8 602.4,413.8 602.6,414.4 602.8,414.8 603.0,413.2 603.2,413.5 603.4,413.2 603.6,414.6 603.9,414.2 604.1,413.7 604.3,413.5 604.5,412.8 604.7,412.1 604.9,411.5 605.1,411.8 605.3,412.6 605.5,411.1 605.7,410.6 605.9,411.3 606.1,410.3 606.3,410.6 606.5,410.0 606.7,409.9 607.0,410.1 607.2,408.8 607.4,408.8 607.6,408.2 607.8,407.9 608.0,407.9 608.2,406.2 608.4,405.7 608.6,405.8 608.8,405.2 609.0,405.4 609.2,405.0 609.3,404.0 609.4,403.8 609.6,406.1 609.9,406.2 609.9,406.1 610.1,405.2 610.3,407.0 610.4,407.6 610.5,408.1 610.7,406.6 610.9,407.1 611.1,407.4 611.3,408.4 611.5,408.4 611.7,410.1 611.9,410.1 612.1,410.9 612.3,409.7 612.5,410.4 612.8,411.8 613.0,411.6 613.2,411.3 613.4,412.2 613.6,413.1 613.8,412.7 614.0,413.5 614.2,414.1 614.4,412.5 614.6,413.0 614.8,413.1 615.0,414.1 615.2,414.6 615.4,414.8 615.7,413.4 615.9,414.4 616.1,414.1 616.3,414.4 616.5,414.5 616.7,415.2 616.9,413.9 617.1,413.6 617.3,414.6 617.5,415.5 617.7,415.8 617.9,415.7 618.1,414.2 618.3,415.4 618.6,415.3 618.8,415.0 619.0,414.4 619.2,415.0 619.4,415.9 619.6,414.8 619.8,415.1 620.0,415.3 620.2,416.0 620.4,416.1 620.6,415.4 620.8,415.5 621.0,416.1 621.2,414.8 621.4,415.0 621.7,414.7 621.9,415.8 622.1,416.0 622.3,415.4 622.5,415.4 622.7,416.5 622.9,416.1 623.1,415.4 623.3,415.5 623.5,416.0 623.7,415.5 623.9,414.6 624.1,414.8 624.3,415.9 624.6,414.6 624.8,415.6 625.0,416.3 625.2,415.7 625.4,416.0 625.6,415.8 625.8,414.6 626.0,416.2 626.2,415.7 626.4,415.1 626.6,416.1 626.8,415.6 627.0,415.3 627.2,416.3 627.5,415.0 627.7,414.6 627.9,415.6 628.1,415.1 628.3,415.3 628.5,416.0 628.7,415.6 628.9,414.9 629.1,415.8 629.3,415.5 629.5,415.8 629.7,414.6 629.9,414.6 630.1,414.5 630.4,415.1 630.6,416.1 630.8,415.2 631.0,414.3 631.2,414.7 631.4,415.8 631.6,416.0 631.8,415.1 632.0,414.6 632.2,415.0 632.4,415.6 632.6,416.0 632.8,414.4 633.0,414.2 633.2,415.9 633.5,415.8 633.7,415.5 633.9,414.9 634.1,414.7 634.3,415.8 634.5,414.3 634.7,415.1 634.9,414.7 635.1,414.2 635.3,414.5 635.5,415.0 635.7,414.5 635.9,415.3 636.1,414.5 636.4,414.4 636.6,414.3 636.8,414.7 637.0,415.8 637.2,414.5 637.4,414.1 637.6,414.5 637.8,414.0 638.0,413.8 638.2,414.1 638.4,414.0 638.6,413.9 638.8,414.3 639.0,413.6 639.3,413.4 639.5,414.7 639.7,414.3 639.9,414.5 640.1,413.1 640.3,413.0 640.5,413.4 640.7,414.6 640.9,412.8 641.1,413.3 641.3,414.7 641.5,413.1 641.7,413.7 641.9,414.4 641.9,414.0 642.2,413.0 642.4,412.5 642.6,413.5 642.8,413.4 643.0,412.5 643.2,412.2 643.4,413.4 643.6,413.4 643.8,412.9 644.0,412.6 644.0,413.5 644.2,411.8 644.4,413.5 644.6,413.6 644.8,412.7 645.1,412.5 645.1,412.7 645.3,412.2 645.5,411.9 645.7,411.9 645.9,412.2 646.1,413.0 646.1,412.9 646.3,413.8 646.5,413.6 646.7,413.8 646.9,413.0 647.1,413.1 647.3,412.7 647.5,412.5 647.7,412.6 647.9,414.1 648.2,413.6 648.4,412.8 648.6,413.1 648.8,412.7 649.0,412.3 649.2,413.3 649.4,413.8 649.6,413.7 649.8,413.1 650.0,413.2 650.2,414.0 650.4,413.9 650.6,412.9 650.8,414.1 651.1,414.2 651.3,413.1 651.5,413.0 651.7,413.2 651.9,414.6 652.1,413.6 652.3,414.0 652.5,414.5 652.7,414.2 652.9,414.1 653.1,413.2 653.3,414.5 653.5,415.0 653.7,413.9 654.0,414.0 654.2,415.3 654.4,414.8 654.6,415.0 654.8,414.1 655.0,415.7 655.2,415.0 655.4,415.1 655.6,414.6 655.8,414.3 656.0,413.8 656.2,413.9 656.4,414.4 656.6,414.6 656.9,413.7 657.1,414.5 657.3,414.1 657.5,415.5 657.7,414.5 657.9,414.3 658.1,415.1 658.3,413.6 658.5,414.2 658.7,414.0 658.9,414.7 659.1,415.4 659.3,415.7 659.5,415.3 659.7,414.6 660.0,415.2 660.2,415.7 660.4,415.2 660.6,414.7 660.8,415.8 661.0,414.7 661.2,416.0 661.4,414.9 661.6,414.9 661.8,415.9 662.0,415.9 662.2,416.1 662.4,414.9 662.6,415.8 662.9,415.5 663.1,416.7 663.3,416.3 663.5,415.1 663.7,415.5 663.9,416.2 664.1,415.2 664.3,415.7 664.5,416.0 664.7,414.8 664.9,416.7 665.1,416.0 665.3,415.9 665.5,416.0 665.8,415.7 666.0,415.3 666.2,414.8 666.4,415.0 666.6,415.8 666.8,415.1 667.0,416.5 667.2,415.2 667.4,415.7 667.6,414.8 667.8,416.1 668.0,415.7 668.2,415.5 668.4,414.8 668.7,415.6 668.9,415.3 669.1,415.9 669.3,415.5 669.5,415.3 669.7,414.9 669.9,415.8 670.1,414.5 670.3,415.6 670.5,416.5 670.7,415.6 670.9,415.3 671.1,416.5 671.3,416.3 671.6,415.5 671.8,416.7 672.0,415.4 672.2,415.5 672.4,415.3 672.6,416.2 672.8,415.9 673.0,416.8" fill="none" stroke="#800000" stroke-width="1.60" stroke-linejoin="round"/>
<rect x="51.9" y="1.1" width="621.1" height="423.7" fill="none" stroke="#000" stroke-width="1.9"/>
<line x1="51.90" y1="424.8" x2="51.90" y2="432.8" stroke="#000" stroke-width="1.9"/>
<text transform="translate(38.95,456.30) scale(25.900,22.556)" font-size="1" fill="#000">20</text>
<line x1="155.42" y1="424.8" x2="155.42" y2="432.8" stroke="#000" stroke-width="1.9"/>
<text transform="translate(142.47,456.30) scale(25.900,22.556)" font-size="1" fill="#000">30</text>
<line x1="258.93" y1="424.8" x2="258.93" y2="432.8" stroke="#000" stroke-width="1.9"/>
<text transform="translate(245.98,456.30) scale(25.900,22.556)" font-size="1" fill="#000">40</text>
<line x1="362.45" y1="424.8" x2="362.45" y2="432.8" stroke="#000" stroke-width="1.9"/>
<text transform="translate(349.50,456.30) scale(25.900,22.556)" font-size="1" fill="#000">50</text>
<line x1="465.97" y1="424.8" x2="465.97" y2="432.8" stroke="#000" stroke-width="1.9"/>
<text transform="translate(453.02,456.30) scale(25.900,22.556)" font-size="1" fill="#000">60</text>
<line x1="569.48" y1="424.8" x2="569.48" y2="432.8" stroke="#000" stroke-width="1.9"/>
<text transform="translate(556.53,456.30) scale(25.900,22.556)" font-size="1" fill="#000">70</text>
<line x1="673.00" y1="424.8" x2="673.00" y2="432.8" stroke="#000" stroke-width="1.9"/>
<text transform="translate(660.05,456.30) scale(25.900,22.556)" font-size="1" fill="#000">80</text>
<text transform="translate(278.80,492.00) scale(28.596,24.000)" font-size="1" fill="#000">2θ / degree</text>
<text transform="translate(20.50,400.30) rotate(-90) scale(24.636,28.921)" font-size="1" fill="#000">X-ray Intensity / arbitrary unit</text>
<text transform="translate(206.90,160.80) scale(17.178,15.108)" font-size="1" fill="#000">UGd25AC</text>
<text transform="translate(209.20,210.40) scale(17.111,14.964)" font-size="1" fill="#ff0000">UGd50AC</text>
<text transform="translate(210.30,258.70) scale(17.222,14.964)" font-size="1" fill="#0000ff">UGd75AC</text>
<text transform="translate(204.20,309.10) scale(17.200,14.964)" font-size="1" fill="#ff00ff">UGd100AC</text>
<text transform="translate(209.90,355.50) scale(17.260,15.108)" font-size="1" fill="#000080">UGd125AC</text>
<text transform="translate(206.90,401.40) scale(17.260,14.820)" font-size="1" fill="#800000">UGd150AC</text>
<text transform="translate(91.50,70.25) rotate(-90) scale(20.277,23.597)" font-size="1" fill="#000" stroke="#000" stroke-width="0.018">(001)</text>
<text transform="translate(137.05,78.10) rotate(-90) scale(20.277,23.597)" font-size="1" fill="#000" stroke="#000" stroke-width="0.018">(101)</text>
<text transform="translate(201.45,91.55) rotate(-90) scale(21.363,23.597)" font-size="1" fill="#000" stroke="#000" stroke-width="0.018">(111)</text>
<text transform="translate(300.95,142.80) rotate(-90) scale(23.372,27.914)" font-size="1" fill="#000" stroke="#000" stroke-width="0.018">(002)</text>
<text transform="translate(335.45,155.70) rotate(-90) scale(23.372,27.914)" font-size="1" fill="#000" stroke="#000" stroke-width="0.018">(102)</text>
<text transform="translate(390.50,125.45) rotate(-90) scale(23.981,27.914)" font-size="1" fill="#000" stroke="#000" stroke-width="0.018">(112)</text>
<text transform="translate(419.70,165.60) rotate(-90) scale(23.372,27.914)" font-size="1" fill="#000" stroke="#000" stroke-width="0.018">(202)</text>
<text transform="translate(457.10,166.00) rotate(-90) scale(23.372,27.914)" font-size="1" fill="#000" stroke="#000" stroke-width="0.018">(221)</text>
<text transform="translate(532.20,163.00) rotate(-90) scale(23.372,27.914)" font-size="1" fill="#000" stroke="#000" stroke-width="0.018">(302)</text>
<text transform="translate(562.85,168.25) rotate(-90) scale(23.372,27.914)" font-size="1" fill="#000" stroke="#000" stroke-width="0.018">(003)</text>
<text transform="translate(596.95,167.15) rotate(-90) scale(23.372,27.914)" font-size="1" fill="#000" stroke="#000" stroke-width="0.018">(222)</text>
<text transform="translate(622.15,162.50) rotate(-90) scale(23.981,27.914)" font-size="1" fill="#000" stroke="#000" stroke-width="0.018">(113)</text>
</svg>
</body></html>
